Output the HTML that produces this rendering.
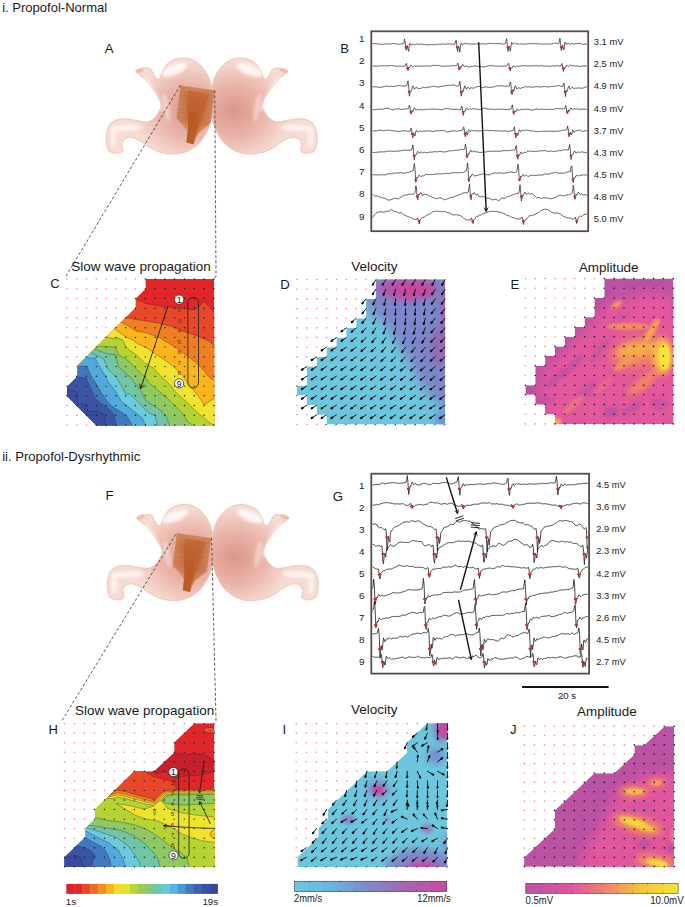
<!DOCTYPE html>
<html lang="en"><head><meta charset="utf-8"><title>Figure</title>
<style>html,body{margin:0;padding:0;background:#fff}body{width:685px;height:907px;overflow:hidden}svg{display:block}</style></head>
<body>
<svg width="685" height="907" viewBox="0 0 685 907" font-family='"Liberation Sans", sans-serif'>
<defs>
<radialGradient id="stg" cx="0.78" cy="0.55" r="0.52">
<stop offset="0" stop-color="#dc968b"/><stop offset="0.5" stop-color="#eab3a7"/><stop offset="1" stop-color="#f6dbd2"/></radialGradient>
<filter id="bl6" x="-50%" y="-50%" width="200%" height="200%"><feGaussianBlur stdDeviation="9"/></filter>
<filter id="bl3" x="-50%" y="-50%" width="200%" height="200%"><feGaussianBlur stdDeviation="5"/></filter>
<clipPath id="stc"><path d="M205 122C206.7 115.8 219.2 106.7 230 103C240.8 99.3 259.2 98.5 270 100C280.8 101.5 287.5 103.7 295 112C302.5 120.3 308.3 141.2 315 150C321.7 158.8 328.3 170 335 165C341.7 160 346.7 135 355 120C363.3 105 372.5 86.7 385 75C397.5 63.3 414.2 55.3 430 50C445.8 44.7 462.5 42.2 480 43C497.5 43.8 517.5 46.3 535 55C552.5 63.7 570.8 79.2 585 95C599.2 110.8 610.8 129.2 620 150C629.2 170.8 635.5 195 640 220C644.5 245 647 273.3 647 300C647 326.7 645.3 353.3 640 380C634.7 406.7 626.7 435 615 460C603.3 485 588.3 510.3 570 530C551.7 549.7 528.3 566.8 505 578C481.7 589.2 455 595 430 597C405 599 378.3 595.8 355 590C331.7 584.2 310 572.8 290 562C270 551.2 252.5 535 235 525C217.5 515 200 504.8 185 502C170 499.2 154.5 502.5 145 508C135.5 513.5 130 523.8 128 535C126 546.2 136.8 565.5 133 575C129.2 584.5 117.2 590.3 105 592C92.8 593.7 70.8 591.2 60 585C49.2 578.8 44.5 569.2 40 555C35.5 540.8 32.2 519.2 33 500C33.8 480.8 38 455.8 45 440C52 424.2 60.8 413.3 75 405C89.2 396.7 109.2 391.2 130 390C150.8 388.8 178.3 395 200 398C221.7 401 243.3 408.5 260 408C276.7 407.5 288.3 403 300 395C311.7 387 322.5 372.5 330 360C337.5 347.5 344.2 333.3 345 320C345.8 306.7 340.8 293.3 335 280C329.2 266.7 319.2 253.3 310 240C300.8 226.7 290 212.5 280 200C270 187.5 260 175 250 165C240 155 227.5 147.2 220 140C212.5 132.8 203.3 128.2 205 122Z"/></clipPath>
<clipPath id="tc31"><rect x="372.3" y="32.3" width="214.9" height="197.9"/></clipPath>
<clipPath id="tc473"><rect x="372.3" y="474.7" width="215.8" height="197.9"/></clipPath>
<filter id="mb3" x="-60%" y="-60%" width="220%" height="220%"><feGaussianBlur stdDeviation="1.6"/></filter>
<filter id="mb4" x="-60%" y="-60%" width="220%" height="220%"><feGaussianBlur stdDeviation="3.2"/></filter>
<filter id="mb6" x="-60%" y="-60%" width="220%" height="220%"><feGaussianBlur stdDeviation="6.0"/></filter>
<clipPath id="cC"><polygon points="145.4,279 214.2,279 214.2,425.4 96.5,425.4 67,396 67,386.7 77.4,376.5 77.4,366 135.7,307.5 135.7,298.5 145.4,288.7"/></clipPath>
<clipPath id="cD"><polygon points="375.9,279.6 375.9,298.9 366.1,298.9 366.1,318.2 356.2,318.2 356.2,327.9 346.3,327.9 346.3,337.6 336.4,337.6 336.4,347.2 326.5,347.2 326.5,356.9 316.7,356.9 316.7,366.5 306.8,366.5 306.8,385.9 296.9,385.9 296.9,395.5 306.8,395.5 306.8,405.2 316.7,405.2 316.7,414.8 326.5,414.8 326.5,424.5 445.1,424.5 445.1,279.6"/></clipPath>
<clipPath id="aD"><rect x="296.2" y="278.9" width="149.6" height="146.3"/></clipPath>
<clipPath id="cE"><polygon points="604.3,278.6 604.3,298 594.4,298 594.4,317.3 584.6,317.3 584.6,327 574.7,327 574.7,336.7 564.8,336.7 564.8,346.4 555,346.4 555,356.1 545.1,356.1 545.1,365.8 535.3,365.8 535.3,385.2 525.4,385.2 525.4,394.8 535.3,394.8 535.3,404.5 545.1,404.5 545.1,414.2 555,414.2 555,423.9 673.3,423.9 673.3,278.6"/></clipPath>
<clipPath id="cH"><polygon points="194.3,723.3 214.4,723.3 214.4,867 64.6,867 64.6,857.3 85.6,837 85.6,828.3 95,819 95,809.5 134.1,771.2 154.2,771.2 174.2,752.7 174.2,742.3"/></clipPath>
<clipPath id="cI"><polygon points="427.1,723.3 447.2,723.3 447.2,867 297.4,867 297.4,857.3 318.4,837 318.4,828.3 327.8,819 327.8,809.5 366.9,771.2 387,771.2 407,752.7 407,742.3"/></clipPath>
<clipPath id="aI"><rect x="295.5" y="722.9" width="152.8" height="144.6"/></clipPath>
<linearGradient id="gV" x1="0" x2="1" y1="0" y2="0"><stop offset="0" stop-color="#6cc6dd"/><stop offset="0.22" stop-color="#68b8df"/><stop offset="0.45" stop-color="#7a8fcf"/><stop offset="0.7" stop-color="#a069b6"/><stop offset="1" stop-color="#c84aa2"/></linearGradient>
<clipPath id="cJ"><polygon points="664.6,726.3 674,726.3 674,866.8 524.1,866.8 524.1,857.6 554.7,829 554.7,810.6 594.3,773.3 614.2,773.3 634.4,754.4 634.4,745.2 644.1,745.2"/></clipPath>
<linearGradient id="gA" x1="0" x2="1" y1="0" y2="0"><stop offset="0" stop-color="#b853a6"/><stop offset="0.3" stop-color="#e2559e"/><stop offset="0.55" stop-color="#f28a6a"/><stop offset="0.75" stop-color="#f9c23c"/><stop offset="1" stop-color="#f0e636"/></linearGradient>
</defs>
<rect width="685" height="907" fill="#fff"/>
<text x="2.2" y="12" font-size="12.4" text-anchor="start" fill="#1a1a1a" textLength="105" lengthAdjust="spacingAndGlyphs">i. Propofol-Normal</text>
<text x="2.2" y="460.8" font-size="12.4" text-anchor="start" fill="#1a1a1a" textLength="138" lengthAdjust="spacingAndGlyphs">ii. Propofol-Dysrhythmic</text>
<text x="104.8" y="52.5" font-size="13.2" text-anchor="start" fill="#1a1a1a">A</text>
<text x="105.6" y="500.2" font-size="13.2" text-anchor="start" fill="#1a1a1a">F</text>
<g transform="translate(100 50) scale(0.1752 0.1752)">
<path d="M205 122C206.7 115.8 219.2 106.7 230 103C240.8 99.3 259.2 98.5 270 100C280.8 101.5 287.5 103.7 295 112C302.5 120.3 308.3 141.2 315 150C321.7 158.8 328.3 170 335 165C341.7 160 346.7 135 355 120C363.3 105 372.5 86.7 385 75C397.5 63.3 414.2 55.3 430 50C445.8 44.7 462.5 42.2 480 43C497.5 43.8 517.5 46.3 535 55C552.5 63.7 570.8 79.2 585 95C599.2 110.8 610.8 129.2 620 150C629.2 170.8 635.5 195 640 220C644.5 245 647 273.3 647 300C647 326.7 645.3 353.3 640 380C634.7 406.7 626.7 435 615 460C603.3 485 588.3 510.3 570 530C551.7 549.7 528.3 566.8 505 578C481.7 589.2 455 595 430 597C405 599 378.3 595.8 355 590C331.7 584.2 310 572.8 290 562C270 551.2 252.5 535 235 525C217.5 515 200 504.8 185 502C170 499.2 154.5 502.5 145 508C135.5 513.5 130 523.8 128 535C126 546.2 136.8 565.5 133 575C129.2 584.5 117.2 590.3 105 592C92.8 593.7 70.8 591.2 60 585C49.2 578.8 44.5 569.2 40 555C35.5 540.8 32.2 519.2 33 500C33.8 480.8 38 455.8 45 440C52 424.2 60.8 413.3 75 405C89.2 396.7 109.2 391.2 130 390C150.8 388.8 178.3 395 200 398C221.7 401 243.3 408.5 260 408C276.7 407.5 288.3 403 300 395C311.7 387 322.5 372.5 330 360C337.5 347.5 344.2 333.3 345 320C345.8 306.7 340.8 293.3 335 280C329.2 266.7 319.2 253.3 310 240C300.8 226.7 290 212.5 280 200C270 187.5 260 175 250 165C240 155 227.5 147.2 220 140C212.5 132.8 203.3 128.2 205 122Z" fill="url(#stg)"/>
<g clip-path="url(#stc)">
<path d="M205 122C206.7 115.8 219.2 106.7 230 103C240.8 99.3 259.2 98.5 270 100C280.8 101.5 287.5 103.7 295 112C302.5 120.3 308.3 141.2 315 150C321.7 158.8 328.3 170 335 165C341.7 160 346.7 135 355 120C363.3 105 372.5 86.7 385 75C397.5 63.3 414.2 55.3 430 50C445.8 44.7 462.5 42.2 480 43C497.5 43.8 517.5 46.3 535 55C552.5 63.7 570.8 79.2 585 95C599.2 110.8 610.8 129.2 620 150C629.2 170.8 635.5 195 640 220C644.5 245 647 273.3 647 300C647 326.7 645.3 353.3 640 380C634.7 406.7 626.7 435 615 460C603.3 485 588.3 510.3 570 530C551.7 549.7 528.3 566.8 505 578C481.7 589.2 455 595 430 597C405 599 378.3 595.8 355 590C331.7 584.2 310 572.8 290 562C270 551.2 252.5 535 235 525C217.5 515 200 504.8 185 502C170 499.2 154.5 502.5 145 508C135.5 513.5 130 523.8 128 535C126 546.2 136.8 565.5 133 575C129.2 584.5 117.2 590.3 105 592C92.8 593.7 70.8 591.2 60 585C49.2 578.8 44.5 569.2 40 555C35.5 540.8 32.2 519.2 33 500C33.8 480.8 38 455.8 45 440C52 424.2 60.8 413.3 75 405C89.2 396.7 109.2 391.2 130 390C150.8 388.8 178.3 395 200 398C221.7 401 243.3 408.5 260 408C276.7 407.5 288.3 403 300 395C311.7 387 322.5 372.5 330 360C337.5 347.5 344.2 333.3 345 320C345.8 306.7 340.8 293.3 335 280C329.2 266.7 319.2 253.3 310 240C300.8 226.7 290 212.5 280 200C270 187.5 260 175 250 165C240 155 227.5 147.2 220 140C212.5 132.8 203.3 128.2 205 122Z" fill="none" stroke="#eec4b9" stroke-width="14" opacity="0.6"/>
<ellipse cx="425" cy="112" rx="80" ry="30" fill="#fff" opacity="0.8" filter="url(#bl6)" transform="rotate(-22 425 112)"/>
<ellipse cx="300" cy="250" rx="20" ry="110" fill="#fff" opacity="0.6" filter="url(#bl6)" transform="rotate(-28 300 250)"/>
<ellipse cx="378" cy="330" rx="18" ry="80" fill="#fff" opacity="0.4" filter="url(#bl6)" transform="rotate(-10 378 330)"/>
<ellipse cx="150" cy="445" rx="95" ry="18" fill="#fff" opacity="0.65" filter="url(#bl6)" transform="rotate(-3 150 445)"/>
<ellipse cx="75" cy="500" rx="18" ry="60" fill="#fff" opacity="0.55" filter="url(#bl6)"/>
</g>
<ellipse cx="226" cy="118" rx="25" ry="11" fill="#ecbdb2" transform="rotate(-16 226 118)"/>
</g>
<g transform="translate(323.5 50) scale(-0.1752 0.1752)">
<path d="M205 122C206.7 115.8 219.2 106.7 230 103C240.8 99.3 259.2 98.5 270 100C280.8 101.5 287.5 103.7 295 112C302.5 120.3 308.3 141.2 315 150C321.7 158.8 328.3 170 335 165C341.7 160 346.7 135 355 120C363.3 105 372.5 86.7 385 75C397.5 63.3 414.2 55.3 430 50C445.8 44.7 462.5 42.2 480 43C497.5 43.8 517.5 46.3 535 55C552.5 63.7 570.8 79.2 585 95C599.2 110.8 610.8 129.2 620 150C629.2 170.8 635.5 195 640 220C644.5 245 647 273.3 647 300C647 326.7 645.3 353.3 640 380C634.7 406.7 626.7 435 615 460C603.3 485 588.3 510.3 570 530C551.7 549.7 528.3 566.8 505 578C481.7 589.2 455 595 430 597C405 599 378.3 595.8 355 590C331.7 584.2 310 572.8 290 562C270 551.2 252.5 535 235 525C217.5 515 200 504.8 185 502C170 499.2 154.5 502.5 145 508C135.5 513.5 130 523.8 128 535C126 546.2 136.8 565.5 133 575C129.2 584.5 117.2 590.3 105 592C92.8 593.7 70.8 591.2 60 585C49.2 578.8 44.5 569.2 40 555C35.5 540.8 32.2 519.2 33 500C33.8 480.8 38 455.8 45 440C52 424.2 60.8 413.3 75 405C89.2 396.7 109.2 391.2 130 390C150.8 388.8 178.3 395 200 398C221.7 401 243.3 408.5 260 408C276.7 407.5 288.3 403 300 395C311.7 387 322.5 372.5 330 360C337.5 347.5 344.2 333.3 345 320C345.8 306.7 340.8 293.3 335 280C329.2 266.7 319.2 253.3 310 240C300.8 226.7 290 212.5 280 200C270 187.5 260 175 250 165C240 155 227.5 147.2 220 140C212.5 132.8 203.3 128.2 205 122Z" fill="url(#stg)"/>
<g clip-path="url(#stc)">
<path d="M205 122C206.7 115.8 219.2 106.7 230 103C240.8 99.3 259.2 98.5 270 100C280.8 101.5 287.5 103.7 295 112C302.5 120.3 308.3 141.2 315 150C321.7 158.8 328.3 170 335 165C341.7 160 346.7 135 355 120C363.3 105 372.5 86.7 385 75C397.5 63.3 414.2 55.3 430 50C445.8 44.7 462.5 42.2 480 43C497.5 43.8 517.5 46.3 535 55C552.5 63.7 570.8 79.2 585 95C599.2 110.8 610.8 129.2 620 150C629.2 170.8 635.5 195 640 220C644.5 245 647 273.3 647 300C647 326.7 645.3 353.3 640 380C634.7 406.7 626.7 435 615 460C603.3 485 588.3 510.3 570 530C551.7 549.7 528.3 566.8 505 578C481.7 589.2 455 595 430 597C405 599 378.3 595.8 355 590C331.7 584.2 310 572.8 290 562C270 551.2 252.5 535 235 525C217.5 515 200 504.8 185 502C170 499.2 154.5 502.5 145 508C135.5 513.5 130 523.8 128 535C126 546.2 136.8 565.5 133 575C129.2 584.5 117.2 590.3 105 592C92.8 593.7 70.8 591.2 60 585C49.2 578.8 44.5 569.2 40 555C35.5 540.8 32.2 519.2 33 500C33.8 480.8 38 455.8 45 440C52 424.2 60.8 413.3 75 405C89.2 396.7 109.2 391.2 130 390C150.8 388.8 178.3 395 200 398C221.7 401 243.3 408.5 260 408C276.7 407.5 288.3 403 300 395C311.7 387 322.5 372.5 330 360C337.5 347.5 344.2 333.3 345 320C345.8 306.7 340.8 293.3 335 280C329.2 266.7 319.2 253.3 310 240C300.8 226.7 290 212.5 280 200C270 187.5 260 175 250 165C240 155 227.5 147.2 220 140C212.5 132.8 203.3 128.2 205 122Z" fill="none" stroke="#eec4b9" stroke-width="14" opacity="0.6"/>
<ellipse cx="425" cy="112" rx="80" ry="30" fill="#fff" opacity="0.8" filter="url(#bl6)" transform="rotate(-22 425 112)"/>
<ellipse cx="300" cy="250" rx="20" ry="110" fill="#fff" opacity="0.6" filter="url(#bl6)" transform="rotate(-28 300 250)"/>
<ellipse cx="378" cy="330" rx="18" ry="80" fill="#fff" opacity="0.4" filter="url(#bl6)" transform="rotate(-10 378 330)"/>
<ellipse cx="150" cy="445" rx="95" ry="18" fill="#fff" opacity="0.65" filter="url(#bl6)" transform="rotate(-3 150 445)"/>
<ellipse cx="75" cy="500" rx="18" ry="60" fill="#fff" opacity="0.55" filter="url(#bl6)"/>
</g>
<ellipse cx="226" cy="118" rx="25" ry="11" fill="#ecbdb2" transform="rotate(-16 226 118)"/>
</g>
<g transform="translate(0 0)">
<polygon points="180.3,85.3 214.9,90.3 210.6,122.7 197.5,134 193.6,144.3 186.4,142.4 187.6,131.5 176.4,117" fill="#d08a62" opacity="0.92"/>
<polygon points="180.7,86 214.6,91 214.2,94 198.5,110 197,126 188.4,124.6 187.5,103 180.2,89" fill="#bb5a26" opacity="0.24"/>
<polygon points="180.1,90.3 214,95.4 213.6,98.4 198.5,113.2 197,127.6 188.4,126.2 187.5,106.3 179.6,93.3" fill="#bb5a26" opacity="0.24"/>
<polygon points="179.6,94.6 213.5,99.8 213.1,102.8 198.5,116.4 197,129.2 188.4,127.8 187.5,109.6 179.1,97.6" fill="#bb5a26" opacity="0.24"/>
<polygon points="179,98.9 212.9,104.2 212.5,107.2 198.5,119.6 197,130.8 188.4,129.4 187.5,112.9 178.5,101.9" fill="#bb5a26" opacity="0.24"/>
<polygon points="178.5,103.2 212.4,108.6 212,111.6 198.5,122.8 197,132.4 188.4,131 187.5,116.2 178,106.2" fill="#bb5a26" opacity="0.24"/>
<polygon points="177.9,107.5 211.8,113 211.4,116 198.5,126 197,134 188.4,132.6 187.5,119.5 177.4,110.5" fill="#bb5a26" opacity="0.24"/>
<polygon points="177.4,111.8 211.3,117.4 210.9,120.4 198.5,129.2 197,135.6 188.4,134.2 187.5,122.8 176.9,114.8" fill="#bb5a26" opacity="0.24"/>
<polygon points="176.8,116.1 210.8,121.8 210.3,124.8 198.5,132.4 197,137.2 188.4,135.8 187.5,126.1 176.3,119.1" fill="#bb5a26" opacity="0.24"/>
<polygon points="188.5,90.5 209,93.6 205,110 197.6,128 188.3,126.6 187.6,108" fill="#bb5a26" opacity="0.5"/>
<polygon points="188.6,112 197.6,113.4 196.5,128 193.6,144.3 186.4,142.4 188.2,127" fill="#bb5a26" opacity="0.95"/>
</g>
<g transform="translate(101 496.5) scale(0.1752 0.1752)">
<path d="M205 122C206.7 115.8 219.2 106.7 230 103C240.8 99.3 259.2 98.5 270 100C280.8 101.5 287.5 103.7 295 112C302.5 120.3 308.3 141.2 315 150C321.7 158.8 328.3 170 335 165C341.7 160 346.7 135 355 120C363.3 105 372.5 86.7 385 75C397.5 63.3 414.2 55.3 430 50C445.8 44.7 462.5 42.2 480 43C497.5 43.8 517.5 46.3 535 55C552.5 63.7 570.8 79.2 585 95C599.2 110.8 610.8 129.2 620 150C629.2 170.8 635.5 195 640 220C644.5 245 647 273.3 647 300C647 326.7 645.3 353.3 640 380C634.7 406.7 626.7 435 615 460C603.3 485 588.3 510.3 570 530C551.7 549.7 528.3 566.8 505 578C481.7 589.2 455 595 430 597C405 599 378.3 595.8 355 590C331.7 584.2 310 572.8 290 562C270 551.2 252.5 535 235 525C217.5 515 200 504.8 185 502C170 499.2 154.5 502.5 145 508C135.5 513.5 130 523.8 128 535C126 546.2 136.8 565.5 133 575C129.2 584.5 117.2 590.3 105 592C92.8 593.7 70.8 591.2 60 585C49.2 578.8 44.5 569.2 40 555C35.5 540.8 32.2 519.2 33 500C33.8 480.8 38 455.8 45 440C52 424.2 60.8 413.3 75 405C89.2 396.7 109.2 391.2 130 390C150.8 388.8 178.3 395 200 398C221.7 401 243.3 408.5 260 408C276.7 407.5 288.3 403 300 395C311.7 387 322.5 372.5 330 360C337.5 347.5 344.2 333.3 345 320C345.8 306.7 340.8 293.3 335 280C329.2 266.7 319.2 253.3 310 240C300.8 226.7 290 212.5 280 200C270 187.5 260 175 250 165C240 155 227.5 147.2 220 140C212.5 132.8 203.3 128.2 205 122Z" fill="url(#stg)"/>
<g clip-path="url(#stc)">
<path d="M205 122C206.7 115.8 219.2 106.7 230 103C240.8 99.3 259.2 98.5 270 100C280.8 101.5 287.5 103.7 295 112C302.5 120.3 308.3 141.2 315 150C321.7 158.8 328.3 170 335 165C341.7 160 346.7 135 355 120C363.3 105 372.5 86.7 385 75C397.5 63.3 414.2 55.3 430 50C445.8 44.7 462.5 42.2 480 43C497.5 43.8 517.5 46.3 535 55C552.5 63.7 570.8 79.2 585 95C599.2 110.8 610.8 129.2 620 150C629.2 170.8 635.5 195 640 220C644.5 245 647 273.3 647 300C647 326.7 645.3 353.3 640 380C634.7 406.7 626.7 435 615 460C603.3 485 588.3 510.3 570 530C551.7 549.7 528.3 566.8 505 578C481.7 589.2 455 595 430 597C405 599 378.3 595.8 355 590C331.7 584.2 310 572.8 290 562C270 551.2 252.5 535 235 525C217.5 515 200 504.8 185 502C170 499.2 154.5 502.5 145 508C135.5 513.5 130 523.8 128 535C126 546.2 136.8 565.5 133 575C129.2 584.5 117.2 590.3 105 592C92.8 593.7 70.8 591.2 60 585C49.2 578.8 44.5 569.2 40 555C35.5 540.8 32.2 519.2 33 500C33.8 480.8 38 455.8 45 440C52 424.2 60.8 413.3 75 405C89.2 396.7 109.2 391.2 130 390C150.8 388.8 178.3 395 200 398C221.7 401 243.3 408.5 260 408C276.7 407.5 288.3 403 300 395C311.7 387 322.5 372.5 330 360C337.5 347.5 344.2 333.3 345 320C345.8 306.7 340.8 293.3 335 280C329.2 266.7 319.2 253.3 310 240C300.8 226.7 290 212.5 280 200C270 187.5 260 175 250 165C240 155 227.5 147.2 220 140C212.5 132.8 203.3 128.2 205 122Z" fill="none" stroke="#eec4b9" stroke-width="14" opacity="0.6"/>
<ellipse cx="425" cy="112" rx="80" ry="30" fill="#fff" opacity="0.8" filter="url(#bl6)" transform="rotate(-22 425 112)"/>
<ellipse cx="300" cy="250" rx="20" ry="110" fill="#fff" opacity="0.6" filter="url(#bl6)" transform="rotate(-28 300 250)"/>
<ellipse cx="378" cy="330" rx="18" ry="80" fill="#fff" opacity="0.4" filter="url(#bl6)" transform="rotate(-10 378 330)"/>
<ellipse cx="150" cy="445" rx="95" ry="18" fill="#fff" opacity="0.65" filter="url(#bl6)" transform="rotate(-3 150 445)"/>
<ellipse cx="75" cy="500" rx="18" ry="60" fill="#fff" opacity="0.55" filter="url(#bl6)"/>
</g>
<ellipse cx="226" cy="118" rx="25" ry="11" fill="#ecbdb2" transform="rotate(-16 226 118)"/>
</g>
<g transform="translate(324.5 496.5) scale(-0.1752 0.1752)">
<path d="M205 122C206.7 115.8 219.2 106.7 230 103C240.8 99.3 259.2 98.5 270 100C280.8 101.5 287.5 103.7 295 112C302.5 120.3 308.3 141.2 315 150C321.7 158.8 328.3 170 335 165C341.7 160 346.7 135 355 120C363.3 105 372.5 86.7 385 75C397.5 63.3 414.2 55.3 430 50C445.8 44.7 462.5 42.2 480 43C497.5 43.8 517.5 46.3 535 55C552.5 63.7 570.8 79.2 585 95C599.2 110.8 610.8 129.2 620 150C629.2 170.8 635.5 195 640 220C644.5 245 647 273.3 647 300C647 326.7 645.3 353.3 640 380C634.7 406.7 626.7 435 615 460C603.3 485 588.3 510.3 570 530C551.7 549.7 528.3 566.8 505 578C481.7 589.2 455 595 430 597C405 599 378.3 595.8 355 590C331.7 584.2 310 572.8 290 562C270 551.2 252.5 535 235 525C217.5 515 200 504.8 185 502C170 499.2 154.5 502.5 145 508C135.5 513.5 130 523.8 128 535C126 546.2 136.8 565.5 133 575C129.2 584.5 117.2 590.3 105 592C92.8 593.7 70.8 591.2 60 585C49.2 578.8 44.5 569.2 40 555C35.5 540.8 32.2 519.2 33 500C33.8 480.8 38 455.8 45 440C52 424.2 60.8 413.3 75 405C89.2 396.7 109.2 391.2 130 390C150.8 388.8 178.3 395 200 398C221.7 401 243.3 408.5 260 408C276.7 407.5 288.3 403 300 395C311.7 387 322.5 372.5 330 360C337.5 347.5 344.2 333.3 345 320C345.8 306.7 340.8 293.3 335 280C329.2 266.7 319.2 253.3 310 240C300.8 226.7 290 212.5 280 200C270 187.5 260 175 250 165C240 155 227.5 147.2 220 140C212.5 132.8 203.3 128.2 205 122Z" fill="url(#stg)"/>
<g clip-path="url(#stc)">
<path d="M205 122C206.7 115.8 219.2 106.7 230 103C240.8 99.3 259.2 98.5 270 100C280.8 101.5 287.5 103.7 295 112C302.5 120.3 308.3 141.2 315 150C321.7 158.8 328.3 170 335 165C341.7 160 346.7 135 355 120C363.3 105 372.5 86.7 385 75C397.5 63.3 414.2 55.3 430 50C445.8 44.7 462.5 42.2 480 43C497.5 43.8 517.5 46.3 535 55C552.5 63.7 570.8 79.2 585 95C599.2 110.8 610.8 129.2 620 150C629.2 170.8 635.5 195 640 220C644.5 245 647 273.3 647 300C647 326.7 645.3 353.3 640 380C634.7 406.7 626.7 435 615 460C603.3 485 588.3 510.3 570 530C551.7 549.7 528.3 566.8 505 578C481.7 589.2 455 595 430 597C405 599 378.3 595.8 355 590C331.7 584.2 310 572.8 290 562C270 551.2 252.5 535 235 525C217.5 515 200 504.8 185 502C170 499.2 154.5 502.5 145 508C135.5 513.5 130 523.8 128 535C126 546.2 136.8 565.5 133 575C129.2 584.5 117.2 590.3 105 592C92.8 593.7 70.8 591.2 60 585C49.2 578.8 44.5 569.2 40 555C35.5 540.8 32.2 519.2 33 500C33.8 480.8 38 455.8 45 440C52 424.2 60.8 413.3 75 405C89.2 396.7 109.2 391.2 130 390C150.8 388.8 178.3 395 200 398C221.7 401 243.3 408.5 260 408C276.7 407.5 288.3 403 300 395C311.7 387 322.5 372.5 330 360C337.5 347.5 344.2 333.3 345 320C345.8 306.7 340.8 293.3 335 280C329.2 266.7 319.2 253.3 310 240C300.8 226.7 290 212.5 280 200C270 187.5 260 175 250 165C240 155 227.5 147.2 220 140C212.5 132.8 203.3 128.2 205 122Z" fill="none" stroke="#eec4b9" stroke-width="14" opacity="0.6"/>
<ellipse cx="425" cy="112" rx="80" ry="30" fill="#fff" opacity="0.8" filter="url(#bl6)" transform="rotate(-22 425 112)"/>
<ellipse cx="300" cy="250" rx="20" ry="110" fill="#fff" opacity="0.6" filter="url(#bl6)" transform="rotate(-28 300 250)"/>
<ellipse cx="378" cy="330" rx="18" ry="80" fill="#fff" opacity="0.4" filter="url(#bl6)" transform="rotate(-10 378 330)"/>
<ellipse cx="150" cy="445" rx="95" ry="18" fill="#fff" opacity="0.65" filter="url(#bl6)" transform="rotate(-3 150 445)"/>
<ellipse cx="75" cy="500" rx="18" ry="60" fill="#fff" opacity="0.55" filter="url(#bl6)"/>
</g>
<ellipse cx="226" cy="118" rx="25" ry="11" fill="#ecbdb2" transform="rotate(-16 226 118)"/>
</g>
<g transform="translate(-3.6 447.8)">
<polygon points="180.3,85.3 214.9,90.3 210.6,122.7 197.5,134 193.6,144.3 186.4,142.4 187.6,131.5 176.4,117" fill="#d08a62" opacity="0.92"/>
<polygon points="180.7,86 214.6,91 214.2,94 198.5,110 197,126 188.4,124.6 187.5,103 180.2,89" fill="#bb5a26" opacity="0.24"/>
<polygon points="180.1,90.3 214,95.4 213.6,98.4 198.5,113.2 197,127.6 188.4,126.2 187.5,106.3 179.6,93.3" fill="#bb5a26" opacity="0.24"/>
<polygon points="179.6,94.6 213.5,99.8 213.1,102.8 198.5,116.4 197,129.2 188.4,127.8 187.5,109.6 179.1,97.6" fill="#bb5a26" opacity="0.24"/>
<polygon points="179,98.9 212.9,104.2 212.5,107.2 198.5,119.6 197,130.8 188.4,129.4 187.5,112.9 178.5,101.9" fill="#bb5a26" opacity="0.24"/>
<polygon points="178.5,103.2 212.4,108.6 212,111.6 198.5,122.8 197,132.4 188.4,131 187.5,116.2 178,106.2" fill="#bb5a26" opacity="0.24"/>
<polygon points="177.9,107.5 211.8,113 211.4,116 198.5,126 197,134 188.4,132.6 187.5,119.5 177.4,110.5" fill="#bb5a26" opacity="0.24"/>
<polygon points="177.4,111.8 211.3,117.4 210.9,120.4 198.5,129.2 197,135.6 188.4,134.2 187.5,122.8 176.9,114.8" fill="#bb5a26" opacity="0.24"/>
<polygon points="176.8,116.1 210.8,121.8 210.3,124.8 198.5,132.4 197,137.2 188.4,135.8 187.5,126.1 176.3,119.1" fill="#bb5a26" opacity="0.24"/>
<polygon points="188.5,90.5 209,93.6 205,110 197.6,128 188.3,126.6 187.6,108" fill="#bb5a26" opacity="0.5"/>
<polygon points="188.6,112 197.6,113.4 196.5,128 193.6,144.3 186.4,142.4 188.2,127" fill="#bb5a26" opacity="0.95"/>
</g>
<g stroke="#333" stroke-width="0.8" stroke-dasharray="3 2" fill="none">
<polyline points="180.6,85 65.7,276.7"/>
<polyline points="214.8,90.3 216,276.7 214.4,277.5"/>
<polyline points="175.8,534.3 61.8,721"/>
<polyline points="211.6,537.8 216,721 214.6,721.8"/>
</g>
<rect x="371.3" y="31.3" width="216.9" height="199.9" fill="#fff" stroke="#5b4a45" stroke-width="1.8"/>
<g clip-path="url(#tc31)">
<polyline points="372.3,43.7 373,43.7 373.7,43.7 374.4,43.7 375.1,43.6 375.8,43.6 376.5,43.8 377.2,43.9 377.9,43.9 378.6,44 379.3,44.1 380,44.2 380.7,44.3 381.4,44.4 382.1,44.5 382.8,44.2 383.5,44.1 384.2,44 384.9,43.9 385.6,44 386.3,43.8 387,44 387.7,43.9 388.4,44 389.1,44 389.8,44 390.5,44 391.2,43.8 391.9,43.7 392.6,43.5 393.3,43.5 394,43.5 394.7,43.6 395.4,43.9 396.1,43.9 396.8,44 397.5,44.2 398.2,44.4 398.9,44.4 399.6,44.1 400.3,44 401,43.9 401.7,43.9 402.4,43.8 403.1,43.9 403.8,43.2 404.5,39.1 405.2,42 405.9,50.1 406.6,49.5 407.3,45.5 408,49.2 408.7,51.4 409.4,43.9 410.1,43.3 410.8,45 411.5,45.3 412.2,44.4 412.9,43.8 413.6,44.3 414.3,44.9 415,44.8 415.7,44.2 416.4,44 417.1,44.1 417.8,44.3 418.5,44.3 419.2,44.2 419.9,44.1 420.6,44.1 421.3,44.1 422,44.2 422.7,44.4 423.4,44.5 424.1,44.5 424.8,44.5 425.5,44.7 426.2,44.8 426.9,44.9 427.6,44.9 428.3,44.8 429,44.7 429.7,44.7 430.4,44.6 431.1,44.6 431.8,44.5 432.5,44.7 433.2,44.7 433.9,44.7 434.6,44.6 435.3,44.7 436,44.5 436.7,44.4 437.4,44.3 438.1,44.2 438.8,44.3 439.5,44.2 440.2,44.3 440.9,44.1 441.6,44.2 442.3,44.1 443,44.1 443.7,44 444.4,44.1 445.1,44.3 445.8,44.2 446.5,44.1 447.2,43.9 447.9,44 448.6,44 449.3,44.1 450,44 450.7,44 451.4,44 452.1,44 452.8,44.1 453.5,44.2 454.2,44.4 454.9,44.3 455.6,40.8 456.3,40.3 457,48.4 457.7,51.4 458.4,46 459.1,48.1 459.8,52.2 460.5,45.7 461.2,43 461.9,44.5 462.6,45.1 463.3,44.3 464,43.3 464.7,43.3 465.4,43.8 466.1,43.9 466.8,43.7 467.5,43.6 468.2,43.9 468.9,44 469.6,44 470.3,43.8 471,44.1 471.7,44.2 472.4,44.1 473.1,44 473.8,43.9 474.5,44.1 475.2,44 475.9,44 476.6,43.9 477.3,44 478,43.9 478.7,43.8 479.4,43.8 480.1,43.9 480.8,44 481.5,43.8 482.2,43.7 482.9,43.8 483.6,43.9 484.3,43.9 485,44 485.7,44 486.4,44 487.1,43.8 487.8,43.7 488.5,43.5 489.2,43.4 489.9,43.3 490.6,43.4 491.3,43.5 492,43.5 492.7,43.6 493.4,43.7 494.1,43.7 494.8,43.6 495.5,43.5 496.2,43.7 496.9,43.6 497.6,43.6 498.3,43.4 499,43.5 499.7,43.6 500.4,43.8 501.1,43.8 501.8,43.9 502.5,44 503.2,44.1 503.9,44 504.6,43.8 505.3,43.5 506,41.3 506.7,38.7 507.4,45.6 508.1,51.6 508.8,46.7 509.5,46.4 510.2,51 510.9,47.5 511.6,42.4 512.3,43.3 513,44.4 513.7,43.7 514.4,42.9 515.1,42.9 515.8,43.7 516.5,44 517.2,43.8 517.9,43.8 518.6,44 519.3,44.2 520,44.1 520.7,44 521.4,43.9 522.1,44.1 522.8,44.1 523.5,44.1 524.2,44 524.9,44 525.6,44.1 526.3,43.9 527,43.9 527.7,43.8 528.4,43.6 529.1,43.5 529.8,43.7 530.5,43.8 531.2,43.8 531.9,43.7 532.6,43.6 533.3,43.7 534,43.7 534.7,43.7 535.4,43.8 536.1,43.8 536.8,43.8 537.5,43.8 538.2,43.8 538.9,44 539.6,44 540.3,44 541,43.9 541.7,44.1 542.4,44.1 543.1,44.1 543.8,43.9 544.5,43.9 545.2,44 545.9,44.1 546.6,44 547.3,44 548,44 548.7,44 549.4,44.1 550.1,44 550.8,44 551.5,43.8 552.2,43.7 552.9,43.5 553.6,43.4 554.3,43.4 555,43.1 555.7,43 556.4,43.1 557.1,43.2 557.8,43.5 558.5,43.6 559.2,42.5 559.9,38.3 560.6,42.8 561.3,50.5 562,48.1 562.7,45.3 563.4,49.4 564.1,49.7 564.8,42.5 565.5,42.6 566.2,44.1 566.9,44.3 567.6,43.4 568.3,43.1 569,43.7 569.7,44.2 570.4,44.2 571.1,43.8 571.8,43.8 572.5,43.7 573.2,43.9 573.9,43.9 574.6,43.9 575.3,43.7 576,43.6 576.7,43.6 577.4,43.6 578.1,43.5 578.8,43.3 579.5,43.2 580.2,43.4 580.9,43.5 581.6,43.7 582.3,44.1 583,44.4 583.7,44.4 584.4,44.2 585.1,44.1 585.8,44.1 586.5,44.2 587.2,44.2" fill="none" stroke="#1a1a1a" stroke-width="0.7" stroke-linejoin="round"/>
<polyline points="372.3,66.2 373,66.1 373.7,66.1 374.4,66.2 375.1,66.2 375.8,66.1 376.5,66.2 377.2,66.1 377.9,66 378.6,66 379.3,65.9 380,65.9 380.7,65.9 381.4,65.8 382.1,65.9 382.8,65.7 383.5,65.8 384.2,65.7 384.9,65.8 385.6,65.8 386.3,65.9 387,65.9 387.7,66 388.4,65.8 389.1,65.8 389.8,65.6 390.5,65.5 391.2,65.5 391.9,65.4 392.6,65.6 393.3,65.8 394,66 394.7,66 395.4,66.1 396.1,66.2 396.8,66.3 397.5,66.3 398.2,66.1 398.9,66.2 399.6,66.1 400.3,66.1 401,65.9 401.7,66 402.4,66.3 403.1,66.4 403.8,66.4 404.5,66.1 405.2,65.8 405.9,63.8 406.6,63.5 407.3,68.3 408,70.6 408.7,67.2 409.4,67.9 410.1,67.2 410.8,65.4 411.5,65.3 412.2,66.2 412.9,66.9 413.6,66.4 414.3,65.8 415,65.8 415.7,66.2 416.4,66.2 417.1,66.1 417.8,66 418.5,66.1 419.2,66.2 419.9,66.2 420.6,66.1 421.3,66 422,66.1 422.7,66.1 423.4,66.1 424.1,66.2 424.8,66 425.5,66 426.2,65.9 426.9,66 427.6,66 428.3,66.1 429,66.1 429.7,66.1 430.4,66 431.1,65.9 431.8,65.6 432.5,65.4 433.2,65.4 433.9,65.6 434.6,65.6 435.3,65.3 436,65.3 436.7,65.5 437.4,65.6 438.1,65.4 438.8,65.5 439.5,65.7 440.2,66 440.9,66.1 441.6,66.2 442.3,66.2 443,66.3 443.7,66.4 444.4,66.2 445.1,66.2 445.8,66.1 446.5,66.1 447.2,65.9 447.9,65.9 448.6,66 449.3,66.2 450,66.1 450.7,65.9 451.4,65.6 452.1,65.5 452.8,65.5 453.5,65.8 454.2,65.8 454.9,65.7 455.6,65.6 456.3,65.6 457,65.2 457.7,63.1 458.4,64.8 459.1,70 459.8,69.7 460.5,66.6 461.2,67.4 461.9,65.9 462.6,64.4 463.3,64.9 464,66.2 464.7,66.6 465.4,66.1 466.1,65.7 466.8,66.2 467.5,66.9 468.2,67.2 468.9,67.1 469.6,66.8 470.3,66.7 471,66.5 471.7,66.5 472.4,66.4 473.1,66.2 473.8,66 474.5,65.8 475.2,65.8 475.9,66 476.6,66.1 477.3,66.3 478,66.4 478.7,66.5 479.4,66.4 480.1,66.4 480.8,66.6 481.5,66.8 482.2,66.9 482.9,67 483.6,67 484.3,66.9 485,66.7 485.7,66.5 486.4,66.4 487.1,66.2 487.8,66 488.5,65.9 489.2,65.7 489.9,65.5 490.6,65.4 491.3,65.6 492,65.6 492.7,65.9 493.4,65.8 494.1,65.9 494.8,66 495.5,66.1 496.2,66 496.9,66 497.6,66 498.3,66.3 499,66.2 499.7,66.2 500.4,66.2 501.1,66.2 501.8,66.3 502.5,66.3 503.2,66.2 503.9,66.2 504.6,66.1 505.3,66.2 506,66.1 506.7,65.8 507.4,65.4 508.1,63.6 508.8,63.5 509.5,68.6 510.2,70.8 510.9,67.5 511.6,68.4 512.3,67.8 513,66.1 513.7,65.7 514.4,66.8 515.1,67.2 515.8,66.7 516.5,65.9 517.2,66 517.9,66.4 518.6,66.5 519.3,66 520,65.7 520.7,65.9 521.4,66.1 522.1,65.9 522.8,65.6 523.5,65.4 524.2,65.6 524.9,65.6 525.6,65.7 526.3,65.8 527,66 527.7,66 528.4,65.9 529.1,65.8 529.8,66 530.5,66 531.2,66 531.9,65.9 532.6,65.9 533.3,65.8 534,65.9 534.7,65.8 535.4,65.7 536.1,65.8 536.8,65.7 537.5,65.6 538.2,65.8 538.9,66 539.6,66.1 540.3,65.8 541,65.7 541.7,65.6 542.4,65.9 543.1,65.9 543.8,66.2 544.5,66.1 545.2,66.2 545.9,66.1 546.6,66 547.3,66.1 548,66.2 548.7,66.4 549.4,66.4 550.1,66.4 550.8,66.2 551.5,66 552.2,65.8 552.9,66 553.6,66.1 554.3,66 555,65.9 555.7,65.9 556.4,65.8 557.1,65.7 557.8,65.7 558.5,65.9 559.2,66.1 559.9,66 560.6,66.1 561.3,65 562,63.5 562.7,67.4 563.4,71.5 564.1,68.4 564.8,67.7 565.5,67.6 566.2,65.8 566.9,65 567.6,65.8 568.3,66.5 569,66 569.7,65.2 570.4,65 571.1,65.6 571.8,65.8 572.5,65.8 573.2,65.6 573.9,65.8 574.6,66.1 575.3,66.1 576,66.1 576.7,66 577.4,65.8 578.1,65.9 578.8,66.1 579.5,66.6 580.2,66.5 580.9,66.3 581.6,66 582.3,66 583,66.1 583.7,66 584.4,66 585.1,65.9 585.8,65.9 586.5,66.4 587.2,66.8" fill="none" stroke="#1a1a1a" stroke-width="0.7" stroke-linejoin="round"/>
<polyline points="372.3,87.2 373,87 373.7,86.8 374.4,86.7 375.1,86.7 375.8,86.9 376.5,87 377.2,87 377.9,87 378.6,87.1 379.3,87.4 380,87.5 380.7,87.3 381.4,87.2 382.1,87 382.8,87 383.5,86.7 384.2,86.5 384.9,86.3 385.6,86.3 386.3,86.1 387,86.1 387.7,86.1 388.4,86.5 389.1,86.3 389.8,86.4 390.5,86.3 391.2,86.4 391.9,86.3 392.6,86.5 393.3,86.5 394,86.4 394.7,86.4 395.4,86.3 396.1,86.2 396.8,85.9 397.5,85.7 398.2,85.5 398.9,85.6 399.6,85.7 400.3,85.8 401,85.7 401.7,85.9 402.4,86 403.1,86 403.8,86 404.5,86 405.2,86 405.9,85.9 406.6,85.6 407.3,83.9 408,80.8 408.7,87.2 409.4,96.2 410.1,91.8 410.8,91 411.5,91.1 412.2,87.6 412.9,85.8 413.6,87.5 414.3,89.1 415,88.8 415.7,87.5 416.4,87.1 417.1,88.1 417.8,88.5 418.5,88.6 419.2,88.4 419.9,88.4 420.6,88.5 421.3,88.2 422,87.9 422.7,87.5 423.4,87.3 424.1,87.5 424.8,87.6 425.5,87.8 426.2,87.5 426.9,87.4 427.6,87.1 428.3,87.2 429,87.2 429.7,87.2 430.4,87 431.1,86.7 431.8,86.6 432.5,86.4 433.2,86.3 433.9,86.3 434.6,86.5 435.3,86.4 436,86.3 436.7,86.6 437.4,87 438.1,87.3 438.8,87.1 439.5,86.8 440.2,86.5 440.9,86.4 441.6,86.4 442.3,86.1 443,86.1 443.7,85.9 444.4,86 445.1,85.8 445.8,85.5 446.5,85.6 447.2,85.5 447.9,85.6 448.6,85.4 449.3,85.4 450,85.3 450.7,85.2 451.4,85.2 452.1,85.1 452.8,84.9 453.5,84.8 454.2,85 454.9,85.3 455.6,85.7 456.3,85.9 457,86.2 457.7,86.2 458.4,86.1 459.1,84.9 459.8,81.4 460.5,86.4 461.2,96.2 461.9,92.7 462.6,90.6 463.3,91.4 464,88.1 464.7,85.9 465.4,87 466.1,88.8 466.8,88.9 467.5,87.7 468.2,87.3 468.9,88.1 469.6,88.7 470.3,88.4 471,87.8 471.7,87.7 472.4,88.1 473.1,88.2 473.8,88.1 474.5,87.8 475.2,87.5 475.9,87.2 476.6,86.8 477.3,86.7 478,86.5 478.7,86.5 479.4,86.5 480.1,86.9 480.8,87.3 481.5,87.5 482.2,87.7 482.9,87.6 483.6,87.4 484.3,87.2 485,86.9 485.7,86.9 486.4,86.8 487.1,87 487.8,87.2 488.5,87.3 489.2,87.3 489.9,87.3 490.6,87.3 491.3,87.3 492,87.2 492.7,87.1 493.4,87.1 494.1,86.8 494.8,86.7 495.5,86.4 496.2,86 496.9,85.9 497.6,85.8 498.3,86 499,86 499.7,85.9 500.4,85.8 501.1,85.7 501.8,85.8 502.5,85.9 503.2,86.1 503.9,86.3 504.6,86.3 505.3,86.3 506,86.1 506.7,86.1 507.4,86 508.1,86.2 508.8,86.3 509.5,85.8 510.2,81.9 510.9,83.9 511.6,94.4 512.3,94.2 513,89.3 513.7,91.4 514.4,88.8 515.1,85.9 515.8,86.3 516.5,88.6 517.2,89.2 517.9,88.2 518.6,87.6 519.3,88 520,88.7 520.7,88.4 521.4,87.8 522.1,87.6 522.8,87.7 523.5,87.7 524.2,87 524.9,86.8 525.6,86.6 526.3,86.9 527,86.8 527.7,87 528.4,86.9 529.1,86.9 529.8,86.8 530.5,87 531.2,87.1 531.9,87.1 532.6,87.3 533.3,87.2 534,87.2 534.7,86.8 535.4,86.7 536.1,86.6 536.8,86.7 537.5,86.6 538.2,86.8 538.9,86.7 539.6,86.7 540.3,86.9 541,87.1 541.7,87.1 542.4,86.7 543.1,86.7 543.8,86.5 544.5,86.5 545.2,86.6 545.9,86.8 546.6,87 547.3,86.8 548,87 548.7,86.9 549.4,86.8 550.1,86.6 550.8,86.5 551.5,86.5 552.2,86.5 552.9,86.2 553.6,86.1 554.3,86.1 555,86.4 555.7,86.3 556.4,86.1 557.1,85.8 557.8,85.7 558.5,85.5 559.2,85.5 559.9,85.7 560.6,86.1 561.3,86.5 562,86.7 562.7,86.6 563.4,83.7 564.1,82.9 564.8,90.6 565.5,96.6 566.2,90.5 566.9,91.6 567.6,90.1 568.3,86.6 569,86 569.7,88 570.4,89.2 571.1,88.6 571.8,87.4 572.5,87.5 573.2,88.1 573.9,88.6 574.6,88.4 575.3,88.1 576,88.1 576.7,88.1 577.4,88.2 578.1,87.9 578.8,87.9 579.5,88 580.2,88.1 580.9,88.1 581.6,88.2 582.3,88.3 583,88.2 583.7,87.9 584.4,87.6 585.1,87.4 585.8,87.1 586.5,86.9 587.2,86.9" fill="none" stroke="#1a1a1a" stroke-width="0.7" stroke-linejoin="round"/>
<polyline points="372.3,109.7 373,109.6 373.7,109.7 374.4,109.8 375.1,109.7 375.8,109.7 376.5,109.5 377.2,109.4 377.9,109.2 378.6,109.1 379.3,109.1 380,109.1 380.7,109.2 381.4,109.3 382.1,109.3 382.8,109.3 383.5,109.1 384.2,108.8 384.9,108.5 385.6,108.4 386.3,108.3 387,108.3 387.7,108.2 388.4,108.4 389.1,108.5 389.8,108.7 390.5,109.1 391.2,109.4 391.9,109.8 392.6,109.8 393.3,109.9 394,109.8 394.7,109.4 395.4,109.1 396.1,108.9 396.8,108.9 397.5,108.8 398.2,108.8 398.9,108.8 399.6,109.1 400.3,109.2 401,109.5 401.7,109.5 402.4,109.4 403.1,109.3 403.8,109.2 404.5,109.2 405.2,109 405.9,109 406.6,108.9 407.3,108.9 408,108.9 408.7,108.1 409.4,105 410.1,107.8 410.8,114.2 411.5,113.3 412.2,110.5 412.9,111.5 413.6,109.6 414.3,107.8 415,108.4 415.7,109.7 416.4,110.2 417.1,109.5 417.8,109.2 418.5,109.6 419.2,110 419.9,109.8 420.6,109.4 421.3,109.4 422,109.9 422.7,109.9 423.4,109.8 424.1,109.5 424.8,109.5 425.5,109.5 426.2,109.3 426.9,109.4 427.6,109.3 428.3,109.4 429,109.4 429.7,109.4 430.4,109.2 431.1,109 431.8,109 432.5,109.1 433.2,109.1 433.9,109.2 434.6,109.1 435.3,109.2 436,109.2 436.7,109.2 437.4,109.2 438.1,109.2 438.8,109.3 439.5,109.5 440.2,109.6 440.9,109.7 441.6,109.7 442.3,109.7 443,109.5 443.7,109.4 444.4,108.9 445.1,108.7 445.8,108.4 446.5,108.4 447.2,108.4 447.9,108.6 448.6,108.7 449.3,109 450,109 450.7,109.1 451.4,109.1 452.1,109.2 452.8,109.3 453.5,109.4 454.2,109.3 454.9,109.2 455.6,109.2 456.3,109.2 457,109.3 457.7,109.3 458.4,109.6 459.1,109.8 459.8,109.8 460.5,109.8 461.2,107.8 461.9,106.2 462.6,111.3 463.3,115.4 464,111.2 464.7,111 465.4,110.9 466.1,108.6 466.8,107.9 467.5,109 468.2,109.8 468.9,109.4 469.6,108.7 470.3,108.7 471,109.3 471.7,109.3 472.4,109 473.1,108.5 473.8,108.6 474.5,108.9 475.2,109.1 475.9,109.2 476.6,109.1 477.3,109.3 478,109.3 478.7,109.4 479.4,109.4 480.1,109.3 480.8,109.2 481.5,108.9 482.2,108.8 482.9,108.4 483.6,108.3 484.3,108.2 485,108.3 485.7,108.4 486.4,108.6 487.1,108.9 487.8,109 488.5,109.2 489.2,109.2 489.9,109.1 490.6,109.1 491.3,109 492,109.3 492.7,109.2 493.4,109.4 494.1,109.4 494.8,109.5 495.5,109.5 496.2,109.4 496.9,109.3 497.6,109.2 498.3,109.2 499,109.3 499.7,109.3 500.4,109.3 501.1,109.3 501.8,109.2 502.5,109.2 503.2,109.2 503.9,109.4 504.6,109.4 505.3,109.5 506,109.6 506.7,109.6 507.4,109.6 508.1,109.2 508.8,109.3 509.5,109.3 510.2,109.3 510.9,109.1 511.6,107.9 512.3,104.8 513,108.6 513.7,114.5 514.4,112.4 515.1,110.7 515.8,111.6 516.5,109.9 517.2,108.7 517.9,109.5 518.6,110.6 519.3,110.4 520,109.6 520.7,109.3 521.4,109.6 522.1,109.8 522.8,109.4 523.5,109.1 524.2,109.1 524.9,109.4 525.6,109.4 526.3,109.3 527,109.2 527.7,109.3 528.4,109.3 529.1,109.4 529.8,109.7 530.5,109.9 531.2,110.1 531.9,110.1 532.6,110 533.3,109.9 534,109.8 534.7,109.4 535.4,109.2 536.1,108.9 536.8,108.9 537.5,109.1 538.2,109.3 538.9,109.5 539.6,109.5 540.3,109.3 541,109.2 541.7,109.1 542.4,109.3 543.1,109.4 543.8,109.4 544.5,109.4 545.2,109.4 545.9,109.4 546.6,109.4 547.3,109.5 548,109.5 548.7,109.3 549.4,109.2 550.1,109.2 550.8,109.3 551.5,109.4 552.2,109.4 552.9,109.4 553.6,109.3 554.3,109.1 555,108.8 555.7,108.5 556.4,108.5 557.1,108.6 557.8,108.7 558.5,108.7 559.2,108.8 559.9,108.7 560.6,108.7 561.3,108.8 562,108.9 562.7,108.8 563.4,108.8 564.1,108.9 564.8,108.6 565.5,105.5 566.2,106.9 566.9,113.3 567.6,113.7 568.3,110 569,111.5 569.7,110 570.4,108 571.1,108 571.8,109.4 572.5,109.8 573.2,109.1 573.9,108.5 574.6,108.7 575.3,109.2 576,109.1 576.7,108.8 577.4,108.7 578.1,109.1 578.8,109.3 579.5,109.4 580.2,109.3 580.9,109.3 581.6,109.3 582.3,109.2 583,109.2 583.7,109.2 584.4,109.2 585.1,109.3 585.8,109.4 586.5,109.4 587.2,109.3" fill="none" stroke="#1a1a1a" stroke-width="0.7" stroke-linejoin="round"/>
<polyline points="372.3,130.6 373,130.9 373.7,131.1 374.4,130.9 375.1,130.8 375.8,130.8 376.5,130.8 377.2,130.6 377.9,130.7 378.6,130.6 379.3,130.5 380,130.1 380.7,130 381.4,130.2 382.1,130.4 382.8,130.6 383.5,130.6 384.2,130.6 384.9,130.6 385.6,130.3 386.3,130.2 387,130.1 387.7,130.2 388.4,130.2 389.1,130.3 389.8,130.5 390.5,130.4 391.2,130.5 391.9,130.6 392.6,130.8 393.3,130.8 394,130.7 394.7,131.1 395.4,131.1 396.1,131.2 396.8,131.1 397.5,131.4 398.2,131.3 398.9,131.5 399.6,131.3 400.3,131.3 401,131.1 401.7,131.1 402.4,130.8 403.1,130.7 403.8,130.8 404.5,130.8 405.2,131 405.9,131 406.6,131.1 407.3,131.1 408,131.1 408.7,131.2 409.4,131.4 410.1,131.1 410.8,128.2 411.5,128.2 412.2,135.3 412.9,137.9 413.6,132.8 414.3,134.6 415,136.1 415.7,131.6 416.4,130.2 417.1,131.6 417.8,132.3 418.5,131.5 419.2,130.9 419.9,131 420.6,131.6 421.3,131.6 422,131.3 422.7,131.1 423.4,131.1 424.1,131.2 424.8,131.1 425.5,131 426.2,131 426.9,131 427.6,130.8 428.3,130.8 429,130.9 429.7,131 430.4,131 431.1,131.2 431.8,131.2 432.5,131.6 433.2,131.4 433.9,131.2 434.6,131 435.3,130.9 436,130.9 436.7,130.8 437.4,130.8 438.1,130.7 438.8,130.7 439.5,130.8 440.2,130.7 440.9,130.5 441.6,130.5 442.3,130.6 443,130.6 443.7,130.7 444.4,130.9 445.1,131.1 445.8,131.4 446.5,131.7 447.2,132.1 447.9,132 448.6,131.8 449.3,131.7 450,131.6 450.7,131.4 451.4,131.2 452.1,131 452.8,131 453.5,130.8 454.2,130.9 454.9,131 455.6,131 456.3,131.1 457,130.9 457.7,131.1 458.4,130.8 459.1,130.8 459.8,130.7 460.5,130.7 461.2,130.6 461.9,130.4 462.6,130.1 463.3,127.2 464,127.3 464.7,134.3 465.4,136.7 466.1,131.7 466.8,133.6 467.5,135.3 468.2,130.7 468.9,129.6 469.6,131.1 470.3,131.8 471,131 471.7,130.3 472.4,130.5 473.1,131 473.8,131 474.5,130.7 475.2,130.6 475.9,130.8 476.6,131 477.3,131 478,130.9 478.7,130.8 479.4,130.9 480.1,130.8 480.8,130.7 481.5,130.6 482.2,130.6 482.9,130.6 483.6,130.5 484.3,130.4 485,130.4 485.7,130.3 486.4,130.3 487.1,130.3 487.8,130.5 488.5,130.5 489.2,130.6 489.9,130.4 490.6,130.6 491.3,130.5 492,130.6 492.7,130.5 493.4,130.6 494.1,130.7 494.8,130.8 495.5,131 496.2,131.1 496.9,130.9 497.6,130.6 498.3,130.7 499,130.7 499.7,130.9 500.4,130.9 501.1,131 501.8,131.1 502.5,131.2 503.2,131.1 503.9,131 504.6,130.9 505.3,131 506,131.1 506.7,131.1 507.4,131.3 508.1,131.2 508.8,131.4 509.5,131.2 510.2,131.2 510.9,130.8 511.6,130.8 512.3,130.5 513,130.6 513.7,128.8 514.4,126.9 515.1,132.9 515.8,138 516.5,133.4 517.2,133.2 517.9,135.5 518.6,132.4 519.3,129.7 520,130.8 520.7,131.7 521.4,131.1 522.1,130.2 522.8,130.2 523.5,130.7 524.2,130.7 524.9,130.4 525.6,130 526.3,130 527,130.3 527.7,130.2 528.4,130.3 529.1,130.5 529.8,130.8 530.5,130.9 531.2,130.9 531.9,130.9 532.6,130.9 533.3,130.9 534,131.1 534.7,131.3 535.4,131.4 536.1,131.6 536.8,131.6 537.5,131.6 538.2,131.7 538.9,131.5 539.6,131.4 540.3,131.1 541,131.4 541.7,131.3 542.4,131.4 543.1,131.2 543.8,131.4 544.5,131.3 545.2,131.3 545.9,131.1 546.6,131.3 547.3,131.3 548,131.5 548.7,131.4 549.4,131.1 550.1,131 550.8,131 551.5,131.2 552.2,131.3 552.9,131.3 553.6,131.3 554.3,131.4 555,131.3 555.7,131.3 556.4,131.2 557.1,131.4 557.8,131.3 558.5,131.2 559.2,131 559.9,130.8 560.6,130.7 561.3,130.7 562,130.4 562.7,130.1 563.4,129.9 564.1,130 564.8,130.2 565.5,130.2 566.2,130.2 566.9,129.3 567.6,126 568.3,130 569,136.8 569.7,134.6 570.4,132.3 571.1,135 571.8,134.1 572.5,130.1 573.2,130.7 573.9,132.2 574.6,132.1 575.3,131.1 576,130.4 576.7,130.6 577.4,130.7 578.1,130.6 578.8,130.1 579.5,130.1 580.2,130.4 580.9,131 581.6,131.1 582.3,131.3 583,131.1 583.7,131.3 584.4,131.1 585.1,130.9 585.8,130.7 586.5,130.8 587.2,130.8" fill="none" stroke="#1a1a1a" stroke-width="0.7" stroke-linejoin="round"/>
<polyline points="372.3,152.4 373,152.4 373.7,152.5 374.4,152.6 375.1,152.4 375.8,152.3 376.5,152.3 377.2,152.2 377.9,152.1 378.6,152.1 379.3,152.1 380,152 380.7,151.8 381.4,151.8 382.1,151.8 382.8,151.9 383.5,151.9 384.2,151.9 384.9,151.8 385.6,151.6 386.3,151.4 387,151.2 387.7,151.3 388.4,151.2 389.1,151.1 389.8,151 390.5,151 391.2,151.2 391.9,151.3 392.6,151.3 393.3,151.1 394,151.3 394.7,151.3 395.4,151.3 396.1,151 396.8,151.2 397.5,151.3 398.2,151.2 398.9,151 399.6,150.9 400.3,150.8 401,150.7 401.7,150.6 402.4,150.5 403.1,150.3 403.8,150 404.5,150.2 405.2,150.3 405.9,150.2 406.6,150.1 407.3,150.1 408,150.3 408.7,150.3 409.4,150.3 410.1,150.2 410.8,150.2 411.5,150.1 412.2,148 412.9,144.8 413.6,151.5 414.3,159.7 415,155.5 415.7,155 416.4,154.7 417.1,152.4 417.8,151.4 418.5,152.4 419.2,153.4 419.9,153 420.6,152.1 421.3,151.9 422,152.4 422.7,152.8 423.4,152.5 424.1,152.3 424.8,152.2 425.5,152.5 426.2,152.6 426.9,152.7 427.6,152.5 428.3,152.4 429,152.1 429.7,152.2 430.4,152.1 431.1,152.2 431.8,152.1 432.5,152.1 433.2,151.9 433.9,151.7 434.6,151.7 435.3,151.6 436,151.7 436.7,151.8 437.4,151.9 438.1,151.7 438.8,151.5 439.5,151.3 440.2,151.2 440.9,151.3 441.6,151.5 442.3,151.8 443,152 443.7,152 444.4,151.9 445.1,151.9 445.8,151.9 446.5,151.6 447.2,151.5 447.9,151.3 448.6,151.2 449.3,150.8 450,150.7 450.7,150.7 451.4,150.8 452.1,150.8 452.8,150.7 453.5,150.6 454.2,150.5 454.9,150.5 455.6,150.3 456.3,150.2 457,150.1 457.7,150.2 458.4,150.2 459.1,150 459.8,149.7 460.5,149.3 461.2,149.3 461.9,149.3 462.6,149.7 463.3,149.7 464,149.8 464.7,148.8 465.4,144.1 466.1,147.1 466.8,157.8 467.5,157.3 468.2,153.4 468.9,154.2 469.6,152.3 470.3,150.4 471,150.5 471.7,151.9 472.4,152 473.1,151.3 473.8,150.8 474.5,151.3 475.2,151.9 475.9,151.9 476.6,151.7 477.3,151.8 478,152 478.7,152.4 479.4,152.4 480.1,152.5 480.8,152.4 481.5,152.4 482.2,152.3 482.9,152.2 483.6,152.1 484.3,152.1 485,152.1 485.7,152.1 486.4,151.9 487.1,151.6 487.8,151.4 488.5,151.3 489.2,151.3 489.9,151.3 490.6,151.3 491.3,151.3 492,151.2 492.7,151.1 493.4,151.1 494.1,151.2 494.8,151.3 495.5,151.2 496.2,151.1 496.9,151.1 497.6,151.2 498.3,151.3 499,151.3 499.7,151.3 500.4,151.3 501.1,151 501.8,150.8 502.5,150.7 503.2,150.8 503.9,150.8 504.6,150.6 505.3,150.6 506,150.7 506.7,150.8 507.4,150.7 508.1,150.6 508.8,150.6 509.5,150.5 510.2,150.4 510.9,150.3 511.6,150.2 512.3,150.1 513,150 513.7,150 514.4,150.1 515.1,149.9 515.8,146 516.5,145.7 517.2,156.5 517.9,159.2 518.6,154.4 519.3,155.5 520,154.5 520.7,152.4 521.4,152.1 522.1,153.3 522.8,153.8 523.5,152.9 524.2,152.1 524.9,152.2 525.6,152.4 526.3,152.4 527,151.7 527.7,151.3 528.4,151.3 529.1,151.3 529.8,151.2 530.5,151.1 531.2,151.1 531.9,151.2 532.6,151.3 533.3,151.5 534,151.5 534.7,151.6 535.4,151.3 536.1,151.3 536.8,151.3 537.5,151.3 538.2,151.2 538.9,151 539.6,150.9 540.3,150.8 541,150.7 541.7,150.7 542.4,150.8 543.1,150.8 543.8,150.7 544.5,150.6 545.2,150.6 545.9,150.7 546.6,151 547.3,151.3 548,151.5 548.7,151.4 549.4,151.2 550.1,151 550.8,151 551.5,151 552.2,151.1 552.9,151.3 553.6,151.5 554.3,151.5 555,151.5 555.7,151.2 556.4,151.2 557.1,150.8 557.8,150.9 558.5,150.7 559.2,150.8 559.9,150.6 560.6,150.7 561.3,150.5 562,150.4 562.7,150.1 563.4,149.9 564.1,149.9 564.8,149.8 565.5,149.8 566.2,149.8 566.9,149.9 567.6,150 568.3,150 569,147.7 569.7,144.5 570.4,151.4 571.1,159.6 571.8,155.3 572.5,154.5 573.2,154.3 573.9,151.9 574.6,150.9 575.3,152 576,153 576.7,152.8 577.4,152 578.1,151.8 578.8,152.2 579.5,152.4 580.2,152.3 580.9,151.9 581.6,151.9 582.3,152 583,152.2 583.7,152.2 584.4,152.3 585.1,152.3 585.8,152.6 586.5,152.7 587.2,152.6" fill="none" stroke="#1a1a1a" stroke-width="0.7" stroke-linejoin="round"/>
<polyline points="372.3,175 373,175.1 373.7,174.8 374.4,174.5 375.1,174.7 375.8,175 376.5,174.9 377.2,174.9 377.9,174.8 378.6,175 379.3,174.8 380,174.9 380.7,174.9 381.4,174.8 382.1,174.6 382.8,174.8 383.5,174.8 384.2,174.9 384.9,174.9 385.6,174.7 386.3,174.5 387,174 387.7,173.7 388.4,173.5 389.1,173.6 389.8,173.8 390.5,173.8 391.2,173.8 391.9,173.6 392.6,173.5 393.3,173.2 394,173 394.7,173.1 395.4,173.1 396.1,173.2 396.8,173.1 397.5,172.9 398.2,172.9 398.9,173 399.6,172.9 400.3,172.9 401,172.8 401.7,172.9 402.4,172.9 403.1,173 403.8,173.2 404.5,173.2 405.2,173.1 405.9,172.9 406.6,172.6 407.3,172.5 408,172.4 408.7,172.4 409.4,172.1 410.1,171.8 410.8,171.3 411.5,171.2 412.2,171 412.9,171 413.6,169.2 414.3,163.4 415,168.8 415.7,182.2 416.4,180.4 417.1,177.2 417.8,177.9 418.5,176.2 419.2,175 419.9,175.5 420.6,176.5 421.3,176.5 422,175.8 422.7,175.6 423.4,176 424.1,175.8 424.8,175.2 425.5,174.4 426.2,174.2 426.9,174.4 427.6,174.6 428.3,174.7 429,174.5 429.7,174.6 430.4,174.6 431.1,174.6 431.8,174.6 432.5,174.5 433.2,174.5 433.9,174.4 434.6,174.2 435.3,174.1 436,173.9 436.7,174 437.4,174 438.1,173.9 438.8,174 439.5,173.9 440.2,174 440.9,173.9 441.6,173.9 442.3,173.8 443,173.8 443.7,173.7 444.4,173.6 445.1,173.3 445.8,173.3 446.5,173.3 447.2,173.5 447.9,173.5 448.6,173.6 449.3,173.5 450,173.4 450.7,173.3 451.4,173 452.1,172.7 452.8,172.5 453.5,172.6 454.2,172.8 454.9,172.8 455.6,172.8 456.3,172.8 457,172.8 457.7,172.8 458.4,172.8 459.1,172.8 459.8,172.7 460.5,172.5 461.2,172.5 461.9,172.6 462.6,172.6 463.3,172.4 464,172.2 464.7,171.7 465.4,171.3 466.1,171 466.8,168.6 467.5,162.9 468.2,169.7 468.9,181.8 469.6,178.6 470.3,176.3 471,176.7 471.7,174.8 472.4,173.9 473.1,174.5 473.8,175.8 474.5,176.1 475.2,175.7 475.9,175.4 476.6,175.6 477.3,175.6 478,175.3 478.7,174.8 479.4,174.7 480.1,174.6 480.8,174.4 481.5,174.1 482.2,173.9 482.9,173.9 483.6,173.9 484.3,174 485,174.3 485.7,174.5 486.4,174.7 487.1,174.7 487.8,174.7 488.5,174.9 489.2,174.8 489.9,174.7 490.6,174.3 491.3,174 492,173.6 492.7,173.4 493.4,173.3 494.1,173.1 494.8,172.9 495.5,172.9 496.2,173 496.9,173.1 497.6,173.1 498.3,173 499,172.9 499.7,173 500.4,173 501.1,172.9 501.8,172.9 502.5,173.1 503.2,173.3 503.9,173.4 504.6,173.1 505.3,173 506,172.7 506.7,172.8 507.4,172.7 508.1,172.6 508.8,172.4 509.5,172.2 510.2,172 510.9,172 511.6,172 512.3,172.1 513,172.2 513.7,172.5 514.4,172.5 515.1,172.5 515.8,172.2 516.5,171.9 517.2,170.4 517.9,164.1 518.6,167.3 519.3,180.8 520,180.5 520.7,176.2 521.4,177.2 522.1,175.9 522.8,174.5 523.5,174.7 524.2,175.9 524.9,176.2 525.6,175.7 526.3,175.3 527,175.7 527.7,176.4 528.4,176.5 529.1,176.1 529.8,175.5 530.5,175.4 531.2,175.3 531.9,175.2 532.6,175.2 533.3,175.3 534,175.5 534.7,175.5 535.4,175.5 536.1,175.5 536.8,175.4 537.5,175.4 538.2,175.1 538.9,175.1 539.6,175 540.3,175 541,175.1 541.7,175.1 542.4,175.2 543.1,174.9 543.8,174.4 544.5,174.1 545.2,173.9 545.9,174.1 546.6,174.1 547.3,174.2 548,174.1 548.7,174 549.4,174 550.1,173.9 550.8,173.6 551.5,173.1 552.2,172.9 552.9,173 553.6,173 554.3,172.8 555,172.5 555.7,172.5 556.4,172.6 557.1,172.9 557.8,173.1 558.5,173.3 559.2,173.3 559.9,173.3 560.6,173.2 561.3,173.2 562,173.2 562.7,173.2 563.4,173.1 564.1,173.3 564.8,173.1 565.5,172.8 566.2,172.4 566.9,172.2 567.6,172 568.3,171.8 569,171.7 569.7,171.8 570.4,171.7 571.1,166.9 571.8,165.8 572.5,175 573.2,182.6 573.9,177.5 574.6,178 575.3,177.5 576,175.6 576.7,175.1 577.4,175.8 578.1,176.2 578.8,175.8 579.5,175.1 580.2,175.1 580.9,175.4 581.6,175.5 582.3,175.1 583,174.8 583.7,174.8 584.4,174.9 585.1,175 585.8,175 586.5,175.1 587.2,175.3" fill="none" stroke="#1a1a1a" stroke-width="0.7" stroke-linejoin="round"/>
<polyline points="372.3,194.5 373,194.5 373.7,195.3 374.4,195.9 375.1,196 375.8,195.9 376.5,195.9 377.2,196.3 377.9,196.4 378.6,196.7 379.3,196.8 380,197.1 380.7,197.1 381.4,197.6 382.1,197.9 382.8,198.1 383.5,198 384.2,198 384.9,198.3 385.6,198.8 386.3,199.3 387,199.7 387.7,199.9 388.4,200 389.1,200 389.8,200 390.5,199.8 391.2,199.7 391.9,199.4 392.6,199.2 393.3,198.7 394,198.4 394.7,198.1 395.4,198.2 396.1,198.4 396.8,198.6 397.5,198.8 398.2,198.8 398.9,198.6 399.6,198.1 400.3,197.5 401,197.1 401.7,196.7 402.4,196.2 403.1,195.6 403.8,195.3 404.5,195.1 405.2,195.1 405.9,195.1 406.6,195 407.3,195 408,194.7 408.7,194.3 409.4,194.2 410.1,194 410.8,194.1 411.5,194.1 412.2,194.1 412.9,194.1 413.6,194.1 414.3,193.7 415,192.5 415.7,185.8 416.4,186.7 417.1,197.5 417.8,199.8 418.5,194 419.2,195 419.9,194 420.6,192.4 421.3,193 422,194.9 422.7,195.8 423.4,195.1 424.1,194.1 424.8,194.1 425.5,194.5 426.2,194.9 426.9,194.6 427.6,194.9 428.3,195.2 429,195.8 429.7,196 430.4,196.3 431.1,196.7 431.8,197.1 432.5,197.4 433.2,197.5 433.9,197.9 434.6,198.2 435.3,198.5 436,198.6 436.7,198.7 437.4,198.4 438.1,198.1 438.8,197.9 439.5,197.9 440.2,198 440.9,198 441.6,198.2 442.3,198.5 443,199.1 443.7,199.5 444.4,199.8 445.1,199.6 445.8,199.4 446.5,199.1 447.2,198.9 447.9,198.7 448.6,198.5 449.3,198.1 450,197.7 450.7,197.4 451.4,197.3 452.1,197.2 452.8,197.2 453.5,197 454.2,196.9 454.9,196.6 455.6,196.1 456.3,195.8 457,195.4 457.7,195.3 458.4,195.1 459.1,194.9 459.8,194.6 460.5,194.3 461.2,194.1 461.9,193.6 462.6,193.3 463.3,192.9 464,192.7 464.7,192.6 465.4,192.7 466.1,192.7 466.8,192.7 467.5,192.6 468.2,192.1 468.9,187.7 469.6,183.8 470.3,193.9 471,199.8 471.7,194.3 472.4,193.9 473.1,194.2 473.8,192.8 474.5,192.7 475.2,194 475.9,194.8 476.6,194.6 477.3,194.2 478,194.8 478.7,196 479.4,196.9 480.1,197 480.8,196.6 481.5,196.3 482.2,196.3 482.9,196.5 483.6,196.7 484.3,197.1 485,197.6 485.7,198 486.4,198.1 487.1,198.2 487.8,198.2 488.5,198.2 489.2,198.3 489.9,198.5 490.6,199 491.3,199.5 492,199.8 492.7,199.9 493.4,199.7 494.1,199.5 494.8,199.3 495.5,199.3 496.2,199.3 496.9,199.6 497.6,200.2 498.3,200.6 499,200.6 499.7,200.1 500.4,199.3 501.1,198.4 501.8,197.9 502.5,197.9 503.2,198.1 503.9,198.5 504.6,198.5 505.3,198.2 506,197.5 506.7,197 507.4,196.5 508.1,196.3 508.8,196.2 509.5,196.2 510.2,196.1 510.9,195.8 511.6,195.4 512.3,195 513,194.8 513.7,194.5 514.4,194.3 515.1,194 515.8,193.8 516.5,193.5 517.2,193.4 517.9,193.3 518.6,193.4 519.3,191 520,184.7 520.7,192.1 521.4,201 522.1,197.5 522.8,194.7 523.5,195.3 524.2,193.4 524.9,192.1 525.6,192.9 526.3,194.1 527,194.1 527.7,193.3 528.4,193 529.1,193.6 529.8,194 530.5,194.1 531.2,193.7 531.9,193.8 532.6,194 533.3,194.6 534,195 534.7,195.7 535.4,196.5 536.1,197.1 536.8,197.7 537.5,197.7 538.2,197.7 538.9,197.5 539.6,197.7 540.3,198 541,198.5 541.7,198.5 542.4,198.2 543.1,197.8 543.8,197.6 544.5,197.7 545.2,198 545.9,198.1 546.6,198.1 547.3,198.1 548,198.1 548.7,198.1 549.4,198.4 550.1,198.6 550.8,198.8 551.5,198.7 552.2,198.7 552.9,198.4 553.6,198.1 554.3,197.7 555,197.5 555.7,197.1 556.4,196.7 557.1,196.3 557.8,195.8 558.5,195.6 559.2,195.4 559.9,195.4 560.6,195.3 561.3,195.3 562,195.4 562.7,195.7 563.4,195.8 564.1,195.8 564.8,195.6 565.5,195.3 566.2,195 566.9,194.9 567.6,194.9 568.3,194.9 569,194.8 569.7,194.5 570.4,194.1 571.1,193.8 571.8,193.5 572.5,192.3 573.2,185.2 573.9,188.5 574.6,198.9 575.3,199.2 576,194.2 576.7,195.3 577.4,193.8 578.1,192.1 578.8,192.6 579.5,194 580.2,194.5 580.9,194 581.6,193.8 582.3,194.4 583,195 583.7,195 584.4,194.7 585.1,194.7 585.8,194.9 586.5,195.2 587.2,195.2" fill="none" stroke="#1a1a1a" stroke-width="0.7" stroke-linejoin="round"/>
<polyline points="372.3,217.8 373,217.1 373.7,215.9 374.4,214.7 375.1,214.1 375.8,213.4 376.5,212.9 377.2,212.5 377.9,212.3 378.6,212.2 379.3,212 380,212 380.7,211.8 381.4,211.9 382.1,211.9 382.8,212.1 383.5,212 384.2,212 384.9,211.8 385.6,211.7 386.3,211.4 387,211.2 387.7,211.2 388.4,211.3 389.1,211.1 389.8,210.6 390.5,210.1 391.2,209.7 391.9,209.9 392.6,210.3 393.3,210.8 394,211.3 394.7,211.6 395.4,211.7 396.1,211.7 396.8,212 397.5,212.4 398.2,212.8 398.9,212.9 399.6,212.8 400.3,212.7 401,212.8 401.7,213.1 402.4,213.6 403.1,214.2 403.8,214.7 404.5,215.3 405.2,215.4 405.9,215.8 406.6,216 407.3,216.3 408,216.5 408.7,216.9 409.4,217.2 410.1,217.4 410.8,217.7 411.5,218.2 412.2,218.6 412.9,218.9 413.6,219.2 414.3,219.2 415,219.4 415.7,219.5 416.4,219.7 417.1,218.7 417.8,217.8 418.5,221.1 419.2,224.1 419.9,220.4 420.6,219.2 421.3,218.8 422,217.8 422.7,217.3 423.4,217.4 424.1,217.4 424.8,216.7 425.5,215.8 426.2,215.3 426.9,215.2 427.6,215.1 428.3,214.7 429,214.4 429.7,214 430.4,213.6 431.1,212.9 431.8,212.3 432.5,211.9 433.2,211.5 433.9,211.5 434.6,211.4 435.3,211.3 436,211.2 436.7,211.1 437.4,211.2 438.1,211.3 438.8,211.3 439.5,211.4 440.2,211.5 440.9,211.7 441.6,211.8 442.3,211.8 443,211.7 443.7,211.6 444.4,211.5 445.1,211.5 445.8,211.9 446.5,212.3 447.2,212.7 447.9,212.7 448.6,212.8 449.3,212.8 450,213.2 450.7,213.6 451.4,214.2 452.1,214.5 452.8,214.8 453.5,214.9 454.2,215 454.9,214.8 455.6,214.6 456.3,214.6 457,214.7 457.7,215 458.4,215.1 459.1,215.3 459.8,215.4 460.5,215.7 461.2,216.2 461.9,216.6 462.6,217.2 463.3,217.8 464,218.5 464.7,219.2 465.4,219.7 466.1,219.8 466.8,219.8 467.5,219.8 468.2,219.9 468.9,220 469.6,220 470.3,219.8 471,218.2 471.7,218.3 472.4,222.4 473.1,223.6 473.8,219.7 474.5,219.3 475.2,218.3 475.9,216.9 476.6,216.3 477.3,216.4 478,216.1 478.7,215.7 479.4,215.1 480.1,215.2 480.8,215.1 481.5,214.8 482.2,214.2 482.9,213.7 483.6,213.5 484.3,213.3 485,213.1 485.7,212.9 486.4,212.7 487.1,212.3 487.8,212 488.5,211.8 489.2,211.7 489.9,211.5 490.6,211.4 491.3,211.3 492,211.4 492.7,211.3 493.4,211.4 494.1,211.4 494.8,211.5 495.5,211.5 496.2,211.4 496.9,211.6 497.6,211.8 498.3,211.8 499,212 499.7,212.1 500.4,212.3 501.1,212.4 501.8,212.7 502.5,213.1 503.2,213.3 503.9,213.4 504.6,213.8 505.3,214.1 506,214.7 506.7,215.3 507.4,215.7 508.1,215.6 508.8,215.7 509.5,216 510.2,216.5 510.9,217 511.6,217.3 512.3,217.5 513,217.5 513.7,217.7 514.4,217.9 515.1,218.3 515.8,218.6 516.5,218.8 517.2,219 517.9,218.9 518.6,219 519.3,218.9 520,218.9 520.7,218.6 521.4,217.7 522.1,216.9 522.8,220.8 523.5,224.5 524.2,221.2 524.9,220.4 525.6,220.2 526.3,219.1 527,218.1 527.7,217.7 528.4,217.1 529.1,216.2 529.8,215.5 530.5,215.5 531.2,215.6 531.9,215.7 532.6,215.4 533.3,215.1 534,214.7 534.7,214.5 535.4,214 536.1,213.8 536.8,213.3 537.5,213.1 538.2,212.8 538.9,212.2 539.6,211.7 540.3,211 541,210.7 541.7,210.3 542.4,209.9 543.1,209.6 543.8,209.4 544.5,209.3 545.2,209.3 545.9,209.3 546.6,209.4 547.3,209.5 548,209.7 548.7,210.3 549.4,210.7 550.1,211.3 550.8,211.7 551.5,212.2 552.2,212.4 552.9,212.9 553.6,213.1 554.3,213.2 555,213.1 555.7,213 556.4,212.8 557.1,213.1 557.8,213.2 558.5,213.4 559.2,213.5 559.9,213.8 560.6,214.2 561.3,214.8 562,215.3 562.7,216 563.4,216.4 564.1,216.7 564.8,216.8 565.5,217.2 566.2,217.5 566.9,217.8 567.6,217.9 568.3,218.1 569,218 569.7,218 570.4,218.1 571.1,218.3 571.8,218.6 572.5,219 573.2,219.1 573.9,219.1 574.6,218.4 575.3,217 576,219.3 576.7,223.5 577.4,220.9 578.1,218 578.8,217.5 579.5,216.6 580.2,216 580.9,216.2 581.6,216.5 582.3,216.2 583,215.4 583.7,214.6 584.4,214.5 585.1,214.5 585.8,214.3 586.5,214 587.2,213.7" fill="none" stroke="#1a1a1a" stroke-width="0.7" stroke-linejoin="round"/>
<ellipse cx="406" cy="47.3" rx="1.3" ry="1.3" fill="#e0251f"/>
<ellipse cx="457.3" cy="47.3" rx="1.3" ry="1.3" fill="#e0251f"/>
<ellipse cx="507.9" cy="47.3" rx="1.3" ry="1.3" fill="#e0251f"/>
<ellipse cx="561.3" cy="47.3" rx="1.3" ry="1.3" fill="#e0251f"/>
<ellipse cx="407.6" cy="68.2" rx="1.3" ry="1.3" fill="#e0251f"/>
<ellipse cx="459.2" cy="68.2" rx="1.3" ry="1.3" fill="#e0251f"/>
<ellipse cx="509.8" cy="68.2" rx="1.3" ry="1.3" fill="#e0251f"/>
<ellipse cx="563.2" cy="68.2" rx="1.3" ry="1.3" fill="#e0251f"/>
<ellipse cx="409.2" cy="91.9" rx="1.3" ry="1.3" fill="#e0251f"/>
<ellipse cx="461.1" cy="91.9" rx="1.3" ry="1.3" fill="#e0251f"/>
<ellipse cx="511.7" cy="91.9" rx="1.3" ry="1.3" fill="#e0251f"/>
<ellipse cx="565.1" cy="91.9" rx="1.3" ry="1.3" fill="#e0251f"/>
<ellipse cx="410.9" cy="112" rx="1.3" ry="1.3" fill="#e0251f"/>
<ellipse cx="463.1" cy="112" rx="1.3" ry="1.3" fill="#e0251f"/>
<ellipse cx="513.7" cy="112" rx="1.3" ry="1.3" fill="#e0251f"/>
<ellipse cx="567.1" cy="112" rx="1.3" ry="1.3" fill="#e0251f"/>
<ellipse cx="412.5" cy="134.1" rx="1.3" ry="1.3" fill="#e0251f"/>
<ellipse cx="465" cy="134.1" rx="1.3" ry="1.3" fill="#e0251f"/>
<ellipse cx="515.6" cy="134.1" rx="1.3" ry="1.3" fill="#e0251f"/>
<ellipse cx="569" cy="134.1" rx="1.3" ry="1.3" fill="#e0251f"/>
<ellipse cx="414.1" cy="155.9" rx="1.3" ry="1.3" fill="#e0251f"/>
<ellipse cx="466.9" cy="155.9" rx="1.3" ry="1.3" fill="#e0251f"/>
<ellipse cx="517.5" cy="155.9" rx="1.3" ry="1.3" fill="#e0251f"/>
<ellipse cx="570.9" cy="155.9" rx="1.3" ry="1.3" fill="#e0251f"/>
<ellipse cx="415.7" cy="179.7" rx="1.3" ry="1.3" fill="#e0251f"/>
<ellipse cx="468.8" cy="179.7" rx="1.3" ry="1.3" fill="#e0251f"/>
<ellipse cx="519.4" cy="179.7" rx="1.3" ry="1.3" fill="#e0251f"/>
<ellipse cx="572.8" cy="179.7" rx="1.3" ry="1.3" fill="#e0251f"/>
<ellipse cx="417.3" cy="196.6" rx="1.3" ry="1.3" fill="#e0251f"/>
<ellipse cx="470.7" cy="196.6" rx="1.3" ry="1.3" fill="#e0251f"/>
<ellipse cx="521.3" cy="196.6" rx="1.3" ry="1.3" fill="#e0251f"/>
<ellipse cx="574.7" cy="196.6" rx="1.3" ry="1.3" fill="#e0251f"/>
<ellipse cx="419" cy="221" rx="1.3" ry="1.3" fill="#e0251f"/>
<ellipse cx="472.7" cy="221" rx="1.3" ry="1.3" fill="#e0251f"/>
<ellipse cx="523.3" cy="221" rx="1.3" ry="1.3" fill="#e0251f"/>
<ellipse cx="576.7" cy="221" rx="1.3" ry="1.3" fill="#e0251f"/>
</g>
<text x="361.8" y="41.9" font-size="9.9" text-anchor="middle" fill="#1a1a1a">1</text>
<text x="593.8" y="45.3" font-size="9.8" text-anchor="start" fill="#1a1a1a" textLength="29.6" lengthAdjust="spacingAndGlyphs">3.1 mV</text>
<text x="361.8" y="64.1" font-size="9.9" text-anchor="middle" fill="#1a1a1a">2</text>
<text x="593.8" y="67.4" font-size="9.8" text-anchor="start" fill="#1a1a1a" textLength="29.6" lengthAdjust="spacingAndGlyphs">2.5 mV</text>
<text x="361.8" y="86.3" font-size="9.9" text-anchor="middle" fill="#1a1a1a">3</text>
<text x="593.8" y="89.4" font-size="9.8" text-anchor="start" fill="#1a1a1a" textLength="29.6" lengthAdjust="spacingAndGlyphs">4.9 mV</text>
<text x="361.8" y="108.5" font-size="9.9" text-anchor="middle" fill="#1a1a1a">4</text>
<text x="593.8" y="111.5" font-size="9.8" text-anchor="start" fill="#1a1a1a" textLength="29.6" lengthAdjust="spacingAndGlyphs">4.9 mV</text>
<text x="361.8" y="130.7" font-size="9.9" text-anchor="middle" fill="#1a1a1a">5</text>
<text x="593.8" y="133.5" font-size="9.8" text-anchor="start" fill="#1a1a1a" textLength="29.6" lengthAdjust="spacingAndGlyphs">3.7 mV</text>
<text x="361.8" y="152.9" font-size="9.9" text-anchor="middle" fill="#1a1a1a">6</text>
<text x="593.8" y="155.6" font-size="9.8" text-anchor="start" fill="#1a1a1a" textLength="29.6" lengthAdjust="spacingAndGlyphs">4.3 mV</text>
<text x="361.8" y="175.1" font-size="9.9" text-anchor="middle" fill="#1a1a1a">7</text>
<text x="593.8" y="177.7" font-size="9.8" text-anchor="start" fill="#1a1a1a" textLength="29.6" lengthAdjust="spacingAndGlyphs">4.5 mV</text>
<text x="361.8" y="197.3" font-size="9.9" text-anchor="middle" fill="#1a1a1a">8</text>
<text x="593.8" y="199.7" font-size="9.8" text-anchor="start" fill="#1a1a1a" textLength="29.6" lengthAdjust="spacingAndGlyphs">4.8 mV</text>
<text x="361.8" y="219.5" font-size="9.9" text-anchor="middle" fill="#1a1a1a">9</text>
<text x="593.8" y="221.8" font-size="9.8" text-anchor="start" fill="#1a1a1a" textLength="29.6" lengthAdjust="spacingAndGlyphs">5.0 mV</text>
<line x1="478.7" y1="42.3" x2="486.2" y2="211" stroke="#111" stroke-width="1.4"/>
<polygon points="486.3,212.5 483.3,206.7 486.2,209.6 488.8,206.5" fill="#111"/>
<text x="340.2" y="52.7" font-size="13.2" text-anchor="start" fill="#1a1a1a">B</text>
<rect x="371.3" y="473.7" width="217.8" height="199.9" fill="#fff" stroke="#5b4a45" stroke-width="1.8"/>
<g clip-path="url(#tc473)">
<polyline points="372.3,484.9 373,485 373.7,484.8 374.4,484.6 375.1,484.4 375.8,484.4 376.5,484.4 377.2,484.5 377.9,484.5 378.6,484.5 379.3,484.4 380,484.1 380.7,483.8 381.4,483.3 382.1,483 382.8,483 383.5,483.3 384.2,483.6 384.9,483.9 385.6,483.8 386.3,483.5 387,483.3 387.7,483.2 388.4,483.2 389.1,483.1 389.8,483.1 390.5,482.8 391.2,482.7 391.9,482.7 392.6,482.7 393.3,482.7 394,482.6 394.7,482.7 395.4,482.8 396.1,482.9 396.8,483.4 397.5,483.3 398.2,483.5 398.9,483.2 399.6,483.2 400.3,483.2 401,483.1 401.7,483.1 402.4,483.1 403.1,483.2 403.8,482.8 404.5,482.6 405.2,482.4 405.9,482.5 406.6,480.3 407.3,475.6 408,483 408.7,494.4 409.4,489.3 410.1,486.1 410.8,486.4 411.5,483.7 412.2,482.2 412.9,483.2 413.6,484.7 414.3,484.5 415,483.5 415.7,483.4 416.4,484.4 417.1,485.1 417.8,485 418.5,484.6 419.2,484.9 419.9,484.9 420.6,484.7 421.3,484.3 422,483.9 422.7,483.7 423.4,483.4 424.1,483.2 424.8,483.4 425.5,483.5 426.2,483.8 426.9,483.8 427.6,484.1 428.3,484.4 429,484.7 429.7,484.8 430.4,484.6 431.1,484.5 431.8,484.1 432.5,483.7 433.2,483.2 433.9,483.2 434.6,483.4 435.3,483.5 436,483.5 436.7,483.6 437.4,483.5 438.1,483.6 438.8,483.6 439.5,483.6 440.2,483.4 440.9,483.1 441.6,482.8 442.3,482.6 443,482.5 443.7,482.6 444.4,482.5 445.1,482.5 445.8,482.5 446.5,482.5 447.2,482.4 447.9,482.7 448.6,483 449.3,483.5 450,483.7 450.7,483.9 451.4,483.9 452.1,483.8 452.8,483.6 453.5,483.3 454.2,483 454.9,482.7 455.6,482.1 456.3,482.1 457,481.8 457.7,478.5 458.4,476.5 459.1,486.5 459.8,495.2 460.5,488 461.2,487.6 461.9,487 462.6,484.4 463.3,483.7 464,485 464.7,486 465.4,485.4 466.1,484.4 466.8,484.4 467.5,485.1 468.2,485.2 468.9,484.7 469.6,484.4 470.3,484.5 471,484.6 471.7,484.5 472.4,484.7 473.1,484.7 473.8,484.9 474.5,484.5 475.2,484.5 475.9,484.2 476.6,484.1 477.3,483.9 478,484 478.7,484.1 479.4,484 480.1,483.9 480.8,484 481.5,484.1 482.2,484.2 482.9,484.3 483.6,484.3 484.3,484.5 485,484.2 485.7,484.1 486.4,483.9 487.1,483.8 487.8,483.4 488.5,483.5 489.2,483.8 489.9,484 490.6,483.8 491.3,483.5 492,483.1 492.7,483 493.4,483.1 494.1,483.1 494.8,483 495.5,483.3 496.2,483.4 496.9,483.4 497.6,483.2 498.3,483.4 499,483.8 499.7,484.1 500.4,484.2 501.1,484.2 501.8,484.2 502.5,484.2 503.2,484.2 503.9,484.2 504.6,484.2 505.3,483.7 506,483.4 506.7,482.9 507.4,478.6 508.1,478.5 508.8,491.3 509.5,495.3 510.2,487.8 510.9,488.6 511.6,487.2 512.3,484.5 513,483.8 513.7,485 514.4,485.7 515.1,484.7 515.8,483.7 516.5,483.5 517.2,484 517.9,484.2 518.6,484 519.3,483.9 520,484.1 520.7,484.4 521.4,484.5 522.1,484.3 522.8,484.1 523.5,484.2 524.2,484.1 524.9,484.2 525.6,484.2 526.3,484.4 527,484.4 527.7,484.4 528.4,483.9 529.1,483.9 529.8,483.8 530.5,484.1 531.2,483.9 531.9,484 532.6,484 533.3,484.1 534,484.1 534.7,484.1 535.4,484.3 536.1,483.9 536.8,483.9 537.5,483.8 538.2,483.9 538.9,483.7 539.6,483.7 540.3,483.7 541,483.8 541.7,483.6 542.4,483.4 543.1,483.3 543.8,483.3 544.5,483.5 545.2,483.5 545.9,483.7 546.6,483.7 547.3,483.6 548,483.3 548.7,483.2 549.4,483 550.1,482.9 550.8,482.8 551.5,482.8 552.2,482.9 552.9,483 553.6,482.9 554.3,482.8 555,482.7 555.7,481.2 556.4,476.2 557.1,482.1 557.8,494.9 558.5,491.6 559.2,487.2 559.9,487.9 560.6,485.6 561.3,483.9 562,484.7 562.7,486 563.4,485.6 564.1,484.4 564.8,483.8 565.5,484.6 566.2,485.2 566.9,485.1 567.6,484.7 568.3,484.7 569,485.1 569.7,484.9 570.4,484.8 571.1,484.5 571.8,484.7 572.5,484.7 573.2,484.7 573.9,484.7 574.6,484.8 575.3,484.5 576,484.3 576.7,484 577.4,484.1 578.1,483.9 578.8,483.8 579.5,483.8 580.2,483.8 580.9,483.8 581.6,483.8 582.3,483.6 583,483.5 583.7,483.2 584.4,483.3 585.1,483.3 585.8,483.3 586.5,483.3 587.2,483.2 587.9,483.1" fill="none" stroke="#1a1a1a" stroke-width="0.8" stroke-linejoin="round"/>
<polyline points="372.3,505 373,505.2 373.7,505.3 374.4,505.2 375.1,504.9 375.8,504.6 376.5,504.4 377.2,504.7 377.9,504.8 378.6,504.8 379.3,504.3 380,504.1 380.7,503.8 381.4,503.7 382.1,503.5 382.8,503.4 383.5,502.9 384.2,502.8 384.9,502.7 385.6,502.9 386.3,502.7 387,502.5 387.7,502.3 388.4,502.7 389.1,503 389.8,503.2 390.5,503.1 391.2,503.1 391.9,503.3 392.6,503.5 393.3,503.7 394,503.9 394.7,503.9 395.4,503.9 396.1,503.8 396.8,503.9 397.5,503.9 398.2,503.9 398.9,503.9 399.6,504 400.3,504 401,504.1 401.7,503.7 402.4,503.7 403.1,503.6 403.8,504.1 404.5,504.6 405.2,505.1 405.9,505.3 406.6,505.4 407.3,505.3 408,505.4 408.7,505.1 409.4,504.8 410.1,503.8 410.8,503.4 411.5,506.2 412.2,508.5 412.9,506.4 413.6,506.4 414.3,506.3 415,505.7 415.7,505.1 416.4,505.2 417.1,505 417.8,504.8 418.5,504.3 419.2,504.4 419.9,504.6 420.6,504.7 421.3,504.7 422,504.9 422.7,505 423.4,505 424.1,504.8 424.8,504.5 425.5,504.4 426.2,504.2 426.9,504.4 427.6,503.9 428.3,503.4 429,502.7 429.7,502.4 430.4,502.2 431.1,502.1 431.8,502.2 432.5,502.3 433.2,502.6 433.9,502.8 434.6,503 435.3,502.8 436,502.7 436.7,502.8 437.4,503 438.1,503.2 438.8,503.4 439.5,503.7 440.2,504 440.9,504.1 441.6,504.3 442.3,504.1 443,503.7 443.7,503.5 444.4,503.5 445.1,503.6 445.8,503.8 446.5,504.1 447.2,504.2 447.9,504.1 448.6,503.7 449.3,503.4 450,503 450.7,503.2 451.4,503.2 452.1,503.5 452.8,503.8 453.5,504.4 454.2,504.7 454.9,505.1 455.6,505.3 456.3,505.5 457,505.9 457.7,506.2 458.4,506.4 459.1,506.2 459.8,506 460.5,505.9 461.2,505.3 461.9,504.3 462.6,506.2 463.3,509 464,507.2 464.7,506.1 465.4,506.2 466.1,505.5 466.8,505.1 467.5,505.2 468.2,505.4 468.9,505.4 469.6,505.2 470.3,505.3 471,505.2 471.7,505 472.4,504.8 473.1,504.6 473.8,504.5 474.5,504.2 475.2,504.1 475.9,504.1 476.6,504.2 477.3,504.2 478,504.2 478.7,504.1 479.4,503.8 480.1,503.4 480.8,503.2 481.5,503 482.2,503.1 482.9,503.1 483.6,502.9 484.3,502.9 485,503 485.7,503.1 486.4,503.1 487.1,503.1 487.8,503 488.5,502.8 489.2,502.6 489.9,503 490.6,503.3 491.3,503.9 492,504 492.7,504 493.4,503.9 494.1,504 494.8,503.9 495.5,503.9 496.2,503.6 496.9,503.7 497.6,503.9 498.3,504.1 499,504.5 499.7,504.4 500.4,504.3 501.1,504 501.8,504.2 502.5,504.4 503.2,504.8 503.9,504.8 504.6,505.1 505.3,505.1 506,505.3 506.7,505.3 507.4,505.2 508.1,505.2 508.8,505.5 509.5,505.9 510.2,506 510.9,505.5 511.6,504.4 512.3,506 513,508.4 513.7,506.2 514.4,504.8 515.1,504.7 515.8,504.2 516.5,503.8 517.2,504.1 517.9,504.7 518.6,504.9 519.3,505.1 520,505 520.7,505 521.4,504.7 522.1,504.4 522.8,504.3 523.5,504.3 524.2,504.4 524.9,504.2 525.6,503.7 526.3,503.5 527,503.3 527.7,503.3 528.4,503.1 529.1,503.3 529.8,503.3 530.5,503.3 531.2,503.3 531.9,503.3 532.6,503.2 533.3,503.1 534,503.2 534.7,503.3 535.4,503.1 536.1,502.9 536.8,502.9 537.5,503.1 538.2,503.1 538.9,502.8 539.6,502.8 540.3,503 541,503.4 541.7,503.7 542.4,503.8 543.1,503.9 543.8,503.9 544.5,503.8 545.2,503.7 545.9,503.7 546.6,504 547.3,504.1 548,504.2 548.7,504.3 549.4,504.4 550.1,504.6 550.8,504.9 551.5,505.1 552.2,505.2 552.9,505.2 553.6,505.2 554.3,505.1 555,505 555.7,505.1 556.4,505.4 557.1,505.9 557.8,506.3 558.5,506.2 559.2,505 559.9,505.4 560.6,508.4 561.3,508.8 562,506.1 562.7,506.1 563.4,505.8 564.1,505.5 564.8,505.4 565.5,505.3 566.2,504.9 566.9,504.7 567.6,504.8 568.3,505 569,505.1 569.7,504.8 570.4,504.5 571.1,504.2 571.8,503.9 572.5,503.8 573.2,503.6 573.9,503.7 574.6,503.3 575.3,503.3 576,503 576.7,503.3 577.4,503.3 578.1,503.5 578.8,503.6 579.5,503.9 580.2,504 580.9,503.9 581.6,503.7 582.3,503.3 583,502.8 583.7,502.7 584.4,502.8 585.1,502.9 585.8,503 586.5,503.2 587.2,503.6 587.9,503.9" fill="none" stroke="#1a1a1a" stroke-width="0.8" stroke-linejoin="round"/>
<polyline points="372.3,523.9 373,524.2 373.7,524.4 374.4,524.2 375.1,523.9 375.8,523.8 376.5,524.3 377.2,525.2 377.9,526.4 378.6,527.3 379.3,527.9 380,527.8 380.7,527.4 381.4,527.4 382.1,528 382.8,528.7 383.5,529.5 384.2,529.9 384.9,530 385.6,528.7 386.3,531.9 387,550.3 387.7,544.3 388.4,536.4 389.1,540.2 389.8,542.2 390.5,532.5 391.2,530.8 391.9,530.7 392.6,529.7 393.3,528.4 394,527.5 394.7,527 395.4,526.9 396.1,526.6 396.8,526.3 397.5,525.9 398.2,525.6 398.9,525.3 399.6,524.7 400.3,524.3 401,523.9 401.7,523.5 402.4,522.9 403.1,522.5 403.8,522.2 404.5,522.2 405.2,522 405.9,521.8 406.6,521.6 407.3,521.7 408,521.8 408.7,522 409.4,522 410.1,521.7 410.8,521.1 411.5,520.7 412.2,520.7 412.9,520.8 413.6,521.1 414.3,521.5 415,521.6 415.7,521.6 416.4,521.2 417.1,521 417.8,521 418.5,520.9 419.2,521.1 419.9,521.3 420.6,521.9 421.3,522.4 422,523.1 422.7,523.4 423.4,523.9 424.1,524.2 424.8,525.1 425.5,525.3 426.2,525.7 426.9,525.7 427.6,526.4 428.3,526.5 429,526.5 429.7,526.3 430.4,526.4 431.1,526.7 431.8,527.1 432.5,527.5 433.2,528.1 433.9,528.9 434.6,529.6 435.3,529.5 436,528.8 436.7,535.1 437.4,551.2 438.1,541.5 438.8,537.3 439.5,543.4 440.2,539.9 440.9,532.2 441.6,531.4 442.3,530.7 443,529.4 443.7,527.9 444.4,527.1 445.1,527.1 445.8,527.2 446.5,527 447.2,526.6 447.9,526.2 448.6,525.9 449.3,525.4 450,524.8 450.7,524.3 451.4,524.2 452.1,524.2 452.8,524.5 453.5,524.3 454.2,523.9 454.9,523.1 455.6,522.4 456.3,521.7 457,521.4 457.7,521.4 458.4,521.8 459.1,522.1 459.8,522.1 460.5,521.8 461.2,521.3 461.9,520.9 462.6,520.8 463.3,520.7 464,520.8 464.7,520.6 465.4,520.6 466.1,520.5 466.8,520.8 467.5,521.1 468.2,521.3 468.9,521 469.6,521 470.3,521.2 471,521.9 471.7,522.8 472.4,523.4 473.1,524 473.8,524.2 474.5,524.6 475.2,525.4 475.9,525.9 476.6,526.6 477.3,527.1 478,528.2 478.7,529 479.4,529.2 480.1,528.9 480.8,528.4 481.5,528.4 482.2,528.7 482.9,528.8 483.6,529.1 484.3,529 485,528.7 485.7,528.9 486.4,536.9 487.1,551.8 487.8,541.5 488.5,538.9 489.2,545.2 489.9,538.1 490.6,531.6 491.3,531.1 492,530.6 492.7,529.3 493.4,528.1 494.1,527.5 494.8,527.3 495.5,527 496.2,526.6 496.9,526.5 497.6,526.5 498.3,526.2 499,525.6 499.7,525 500.4,524.8 501.1,524.7 501.8,524.5 502.5,524.4 503.2,524.5 503.9,524.5 504.6,524 505.3,523.5 506,523 506.7,522.5 507.4,522.1 508.1,521.8 508.8,521.8 509.5,521.3 510.2,520.9 510.9,520.5 511.6,520.5 512.3,520.5 513,520.4 513.7,520.4 514.4,520.2 515.1,520.5 515.8,520.8 516.5,521.4 517.2,521.9 517.9,522.2 518.6,522.3 519.3,522.4 520,522.6 520.7,523 521.4,523 522.1,522.9 522.8,522.8 523.5,523.2 524.2,523.7 524.9,524.5 525.6,524.8 526.3,525 527,524.6 527.7,524.4 528.4,524.7 529.1,525.2 529.8,525.6 530.5,525.8 531.2,526.1 531.9,526.4 532.6,527.1 533.3,528.1 534,529 534.7,529.5 535.4,528.9 536.1,528.4 536.8,534.8 537.5,551.9 538.2,542.2 538.9,537.9 539.6,543.4 540.3,539.2 541,531 541.7,530.1 542.4,529.6 543.1,528.6 543.8,527.5 544.5,527.1 545.2,526.8 545.9,526.6 546.6,526.1 547.3,526.1 548,526.2 548.7,526.5 549.4,526.1 550.1,525.8 550.8,525.4 551.5,525.4 552.2,525.1 552.9,524.8 553.6,524.5 554.3,524 555,523.6 555.7,523.2 556.4,522.8 557.1,522.4 557.8,521.7 558.5,521.1 559.2,521 559.9,520.7 560.6,520.8 561.3,520.5 562,520.9 562.7,521.1 563.4,521.1 564.1,520.6 564.8,520.4 565.5,520.4 566.2,520.6 566.9,520.7 567.6,520.7 568.3,521 569,521.4 569.7,521.6 570.4,521.6 571.1,521.4 571.8,521.5 572.5,522.1 573.2,523 573.9,523.9 574.6,524.6 575.3,525.2 576,525.5 576.7,525.7 577.4,525.4 578.1,524.9 578.8,524.5 579.5,524.3 580.2,524.5 580.9,524.6 581.6,525.5 582.3,526.4 583,527.8 583.7,528.3 584.4,528.9 585.1,528.6 585.8,527.5 586.5,529.9 587.2,548.9 587.9,545.9" fill="none" stroke="#1a1a1a" stroke-width="0.8" stroke-linejoin="round"/>
<polyline points="372.3,544.2 373,544.4 373.7,544.5 374.4,545.2 375.1,545.7 375.8,546.3 376.5,546.1 377.2,545.9 377.9,545.6 378.6,545.6 379.3,545.6 380,546.2 380.7,546.7 381.4,545.7 382.1,546.3 382.8,561.6 383.5,563.7 384.2,554.9 384.9,553.4 385.6,557.3 386.3,551.1 387,547.8 387.7,547.9 388.4,547.6 389.1,546.5 389.8,545.5 390.5,544.9 391.2,545.2 391.9,545.6 392.6,546.1 393.3,546.2 394,546.1 394.7,545.7 395.4,545.3 396.1,544.9 396.8,544.2 397.5,543.6 398.2,542.9 398.9,542.5 399.6,542.4 400.3,542.1 401,542.1 401.7,542 402.4,542.2 403.1,542.3 403.8,542.3 404.5,542.3 405.2,542.2 405.9,542.4 406.6,542.5 407.3,542.6 408,542.7 408.7,542.5 409.4,542.2 410.1,541.7 410.8,541.3 411.5,541 412.2,540.6 412.9,540.6 413.6,540.6 414.3,540.9 415,541.1 415.7,541.1 416.4,541 417.1,541.1 417.8,541.4 418.5,541.6 419.2,541.7 419.9,541.4 420.6,541.3 421.3,541.4 422,542.1 422.7,543.5 423.4,544.5 424.1,545.5 424.8,545.7 425.5,545.9 426.2,545.7 426.9,545.2 427.6,544.9 428.3,544.5 429,544.7 429.7,545.2 430.4,545.8 431.1,546.3 431.8,546.5 432.5,545.1 433.2,545.5 433.9,560.8 434.6,563.2 435.3,554.8 436,553.8 436.7,558 437.4,552.1 438.1,548.8 438.8,548.5 439.5,547.9 440.2,547.1 440.9,546.6 441.6,546.5 442.3,546.3 443,545.7 443.7,545.2 444.4,544.6 445.1,544.3 445.8,543.9 446.5,543.6 447.2,543.1 447.9,542.9 448.6,542.7 449.3,542.6 450,542.6 450.7,542.6 451.4,542.7 452.1,542.8 452.8,542.7 453.5,542.5 454.2,542.2 454.9,542 455.6,541.7 456.3,541.7 457,541.3 457.7,541.2 458.4,540.8 459.1,541.1 459.8,541.2 460.5,541.4 461.2,541.3 461.9,541.3 462.6,541.2 463.3,541.3 464,541.1 464.7,541.3 465.4,541.4 466.1,541.4 466.8,541.3 467.5,541.1 468.2,541.2 468.9,541.3 469.6,541.3 470.3,541.7 471,542 471.7,542.2 472.4,542.2 473.1,542.2 473.8,542.6 474.5,542.9 475.2,543 475.9,543.2 476.6,543.6 477.3,544.3 478,544.8 478.7,545.3 479.4,545.3 480.1,545.8 480.8,546.4 481.5,546.6 482.2,544.9 482.9,546.3 483.6,561.9 484.3,562.2 485,554 485.7,554.6 486.4,558 487.1,551.1 487.8,548.7 488.5,548.7 489.2,548.3 489.9,547.3 490.6,546.5 491.3,546.3 492,546.2 492.7,546 493.4,545.8 494.1,546 494.8,546.1 495.5,546.2 496.2,545.9 496.9,545.3 497.6,544.3 498.3,543.5 499,543.2 499.7,543.5 500.4,543.9 501.1,544.5 501.8,544.7 502.5,545.2 503.2,545.3 503.9,545.2 504.6,544.6 505.3,544.1 506,543.6 506.7,543 507.4,542.1 508.1,541.5 508.8,541.3 509.5,541.3 510.2,541.3 510.9,541.2 511.6,541 512.3,540.5 513,540 513.7,539.6 514.4,539.3 515.1,539.4 515.8,539.3 516.5,539.6 517.2,539.8 517.9,540 518.6,540.5 519.3,541.1 520,542 520.7,542.6 521.4,542.8 522.1,543.2 522.8,543.9 523.5,544.6 524.2,545 524.9,545 525.6,544.9 526.3,544.8 527,544.7 527.7,545 528.4,545.7 529.1,546.7 529.8,547.3 530.5,547.4 531.2,547.2 531.9,546.4 532.6,544.2 533.3,546.9 534,562.6 534.7,560.3 535.4,553.4 536.1,555.2 536.8,558 537.5,550.6 538.2,548.5 538.9,548.2 539.6,547.5 540.3,546.4 541,545.5 541.7,545.5 542.4,546 543.1,546.5 543.8,546.4 544.5,545.8 545.2,545.3 545.9,545.1 546.6,545.1 547.3,544.5 548,543.9 548.7,542.8 549.4,542 550.1,541.3 550.8,541 551.5,540.6 552.2,540.4 552.9,540.5 553.6,540.8 554.3,541.1 555,541.2 555.7,541.3 556.4,541.4 557.1,541.5 557.8,541.8 558.5,542 559.2,542.1 559.9,541.8 560.6,541.5 561.3,541.1 562,541.2 562.7,541.2 563.4,541.6 564.1,541.8 564.8,542.1 565.5,542.1 566.2,541.8 566.9,541.6 567.6,541.7 568.3,542.1 569,542.2 569.7,542.1 570.4,541.9 571.1,542.1 571.8,542.5 572.5,543 573.2,543.4 573.9,543.5 574.6,543.5 575.3,543.4 576,543.3 576.7,543.6 577.4,544 578.1,544.7 578.8,545.2 579.5,545.8 580.2,546.1 580.9,546.6 581.6,546.7 582.3,545.8 583,545.4 583.7,552.7 584.4,564.6 585.1,556.4 585.8,554.4 586.5,558.1 587.2,553.3 587.9,548.6" fill="none" stroke="#1a1a1a" stroke-width="0.8" stroke-linejoin="round"/>
<polyline points="372.3,566.8 373,567.2 373.7,567.6 374.4,568 375.1,568.5 375.8,568.8 376.5,569.1 377.2,569.2 377.9,568.8 378.6,569.1 379.3,577.1 380,579 380.7,573.6 381.4,572.8 382.1,572 382.8,571 383.5,570.6 384.2,570.8 384.9,570.5 385.6,570 386.3,569.5 387,569.3 387.7,569.3 388.4,569.2 389.1,569 389.8,568.8 390.5,569.1 391.2,569.1 391.9,568.9 392.6,568.5 393.3,568 394,567.7 394.7,567.5 395.4,567.1 396.1,566.9 396.8,566.3 397.5,565.9 398.2,565.5 398.9,565.2 399.6,565.3 400.3,565.4 401,565.7 401.7,566 402.4,566.1 403.1,566.1 403.8,566.3 404.5,566.4 405.2,566.4 405.9,566 406.6,565.7 407.3,565.6 408,565.9 408.7,566.2 409.4,566.5 410.1,566.5 410.8,566.6 411.5,566.4 412.2,566.2 412.9,566.4 413.6,566.6 414.3,567.2 415,567.4 415.7,567.5 416.4,567.3 417.1,567.2 417.8,567.2 418.5,567.3 419.2,567.3 419.9,567.3 420.6,567.4 421.3,567.4 422,567.4 422.7,567.4 423.4,567.7 424.1,568.1 424.8,568.5 425.5,568.8 426.2,568.7 426.9,568.6 427.6,567.4 428.3,568.4 429,577 429.7,577.3 430.4,572.1 431.1,571.5 431.8,570.5 432.5,569.3 433.2,568.8 433.9,569.2 434.6,569.3 435.3,569.2 436,568.8 436.7,568.5 437.4,568.4 438.1,568.5 438.8,568.5 439.5,568.4 440.2,568.4 440.9,568.3 441.6,568.2 442.3,567.5 443,567.3 443.7,567 444.4,567.1 445.1,567.2 445.8,567.3 446.5,567.2 447.2,567 447.9,566.8 448.6,566.8 449.3,566.9 450,567 450.7,567.1 451.4,567 452.1,566.7 452.8,566.3 453.5,566 454.2,565.6 454.9,565.1 455.6,565.1 456.3,565.5 457,566 457.7,566.5 458.4,566.6 459.1,566.8 459.8,566.8 460.5,566.5 461.2,566.4 461.9,566.6 462.6,567.1 463.3,567.3 464,567 464.7,566.5 465.4,566.5 466.1,566.7 466.8,567 467.5,567.4 468.2,567.5 468.9,567.7 469.6,567.7 470.3,567.7 471,567.7 471.7,567.7 472.4,567.5 473.1,567.5 473.8,567.6 474.5,568.2 475.2,568.7 475.9,569 476.6,569.2 477.3,568.8 478,567.9 478.7,570.5 479.4,578.4 480.1,574.3 480.8,571.3 481.5,571.1 482.2,569.9 482.9,569.3 483.6,569 484.3,569.3 485,569.1 485.7,568.8 486.4,568.6 487.1,568.3 487.8,568.4 488.5,568.3 489.2,568 489.9,568 490.6,568.1 491.3,568.7 492,568.6 492.7,568.7 493.4,568.4 494.1,568.4 494.8,568.1 495.5,567.9 496.2,567.4 496.9,566.9 497.6,566.6 498.3,566.7 499,567 499.7,567.2 500.4,566.8 501.1,566.4 501.8,565.9 502.5,565.6 503.2,565.6 503.9,565.8 504.6,566.2 505.3,566.5 506,566.5 506.7,566.3 507.4,566.2 508.1,566.2 508.8,566.4 509.5,566.4 510.2,566.6 510.9,566.9 511.6,566.9 512.3,567 513,566.8 513.7,566.6 514.4,566.7 515.1,566.9 515.8,567.3 516.5,567.3 517.2,567.3 517.9,567.3 518.6,567.3 519.3,567.3 520,567.5 520.7,567.8 521.4,568.1 522.1,568 522.8,567.7 523.5,567.5 524.2,567.7 524.9,568 525.6,568.1 526.3,568.1 527,568.2 527.7,567.9 528.4,567.3 529.1,570.3 529.8,578.8 530.5,575.1 531.2,572.1 531.9,571.4 532.6,570.2 533.3,569.3 534,569.2 534.7,569 535.4,568.5 536.1,567.9 536.8,567.7 537.5,567.9 538.2,568.3 538.9,568.1 539.6,567.8 540.3,567.2 541,567.3 541.7,567.7 542.4,568 543.1,568.1 543.8,567.8 544.5,567.8 545.2,567.5 545.9,567.6 546.6,567.3 547.3,567.2 548,567.1 548.7,567.2 549.4,567.1 550.1,567.1 550.8,566.9 551.5,566.9 552.2,566.8 552.9,566.7 553.6,566.6 554.3,566.6 555,566.7 555.7,566.7 556.4,566.5 557.1,566.6 557.8,566.3 558.5,566.2 559.2,566 559.9,566.4 560.6,566.5 561.3,567 562,567.2 562.7,567.2 563.4,567 564.1,567 564.8,566.9 565.5,567 566.2,566.9 566.9,567.4 567.6,567.8 568.3,568.2 569,568.5 569.7,568.6 570.4,568.7 571.1,568.7 571.8,568.8 572.5,569 573.2,569.2 573.9,569.2 574.6,569.2 575.3,569.3 576,569.4 576.7,569.1 577.4,568 578.1,568.7 578.8,577.4 579.5,577.9 580.2,572.8 580.9,572.2 581.6,571.2 582.3,569.8 583,569.2 583.7,568.8 584.4,568.2 585.1,567.5 585.8,566.9 586.5,567 587.2,567.1 587.9,567.3" fill="none" stroke="#1a1a1a" stroke-width="0.8" stroke-linejoin="round"/>
<polyline points="372.3,589.1 373,586.9 373.7,579.2 374.4,586 375.1,604.4 375.8,601.5 376.5,597.5 377.2,597.8 377.9,595.6 378.6,594.4 379.3,595.1 380,596.4 380.7,596.1 381.4,595.4 382.1,595 382.8,595.5 383.5,596 384.2,595.9 384.9,595.7 385.6,595.6 386.3,595.5 387,595.2 387.7,594.8 388.4,594.4 389.1,594.3 389.8,594 390.5,593.9 391.2,593.6 391.9,593.2 392.6,592.7 393.3,592.4 394,592.5 394.7,592.7 395.4,593 396.1,593.1 396.8,593 397.5,592.9 398.2,593 398.9,593 399.6,592.8 400.3,592.5 401,592.3 401.7,592.2 402.4,591.9 403.1,591.8 403.8,591.6 404.5,591.6 405.2,591.3 405.9,591 406.6,590.4 407.3,590.1 408,589.6 408.7,589.5 409.4,589.6 410.1,589.7 410.8,589.8 411.5,590 412.2,589.9 412.9,590 413.6,589.8 414.3,589.9 415,590 415.7,589.9 416.4,590 417.1,589.9 417.8,589.9 418.5,589.7 419.2,589.6 419.9,589.4 420.6,589.1 421.3,589 422,588.9 422.7,586.3 423.4,578.3 424.1,585.1 424.8,604 425.5,601.4 426.2,597.8 426.9,598.4 427.6,596.9 428.3,595.6 429,596 429.7,597 430.4,596.8 431.1,595.7 431.8,595.1 432.5,595.3 433.2,595.4 433.9,595 434.6,594.7 435.3,594.8 436,595 436.7,595 437.4,594.9 438.1,594.8 438.8,594.7 439.5,594.6 440.2,594.5 440.9,594.3 441.6,593.8 442.3,593.1 443,592.7 443.7,592.5 444.4,592.5 445.1,592.5 445.8,592.5 446.5,592.4 447.2,592.4 447.9,592.3 448.6,592.3 449.3,592.4 450,592.3 450.7,592.4 451.4,592.4 452.1,592.6 452.8,592.3 453.5,592 454.2,591.7 454.9,592 455.6,592.1 456.3,592.2 457,591.9 457.7,592 458.4,592 459.1,592.1 459.8,592 460.5,591.9 461.2,591.6 461.9,591.4 462.6,590.7 463.3,590.5 464,590.2 464.7,590.2 465.4,590.1 466.1,590 466.8,590 467.5,590 468.2,589.9 468.9,589.7 469.6,589.6 470.3,589.2 471,589.2 471.7,589.1 472.4,589.1 473.1,588.5 473.8,583 474.5,579.6 475.2,590.7 475.9,605 476.6,599 477.3,598.3 478,597.6 478.7,595.3 479.4,594.7 480.1,595.6 480.8,596.3 481.5,595.9 482.2,595.3 482.9,595.3 483.6,595.4 484.3,595.4 485,595 485.7,594.7 486.4,594.6 487.1,594.5 487.8,594.4 488.5,594.2 489.2,594.2 489.9,594.2 490.6,594.3 491.3,594.6 492,594.8 492.7,594.9 493.4,594.5 494.1,594.5 494.8,594.3 495.5,594.5 496.2,594.3 496.9,594.3 497.6,594 498.3,593.8 499,593.7 499.7,593.3 500.4,593.1 501.1,592.4 501.8,592.3 502.5,592.1 503.2,592 503.9,591.8 504.6,591.9 505.3,592.2 506,592.2 506.7,592 507.4,591.9 508.1,591.9 508.8,591.6 509.5,591.3 510.2,591.2 510.9,591 511.6,590.6 512.3,590.3 513,590.5 513.7,590.8 514.4,590.7 515.1,590.6 515.8,590.2 516.5,589.9 517.2,589.6 517.9,589.5 518.6,589.3 519.3,589 520,588.9 520.7,589 521.4,588.9 522.1,589.1 522.8,589 523.5,588.9 524.2,583.6 524.9,579.9 525.6,590.7 526.3,605 527,599.7 527.7,599.6 528.4,599 529.1,596.8 529.8,595.7 530.5,596.2 531.2,596.5 531.9,596.1 532.6,595.5 533.3,595.3 534,595.6 534.7,595.5 535.4,595.1 536.1,594.5 536.8,594.3 537.5,594.5 538.2,594.2 538.9,594 539.6,593.6 540.3,593.5 541,593.6 541.7,593.5 542.4,593.4 543.1,593.2 543.8,593.1 544.5,593.1 545.2,593 545.9,593.1 546.6,592.9 547.3,593 548,592.8 548.7,592.8 549.4,592.3 550.1,592.2 550.8,592.1 551.5,592.2 552.2,592.1 552.9,592.1 553.6,591.8 554.3,591.4 555,591.2 555.7,591.3 556.4,591.4 557.1,591.2 557.8,591 558.5,590.6 559.2,590.3 559.9,590.1 560.6,590 561.3,589.9 562,589.8 562.7,589.8 563.4,589.9 564.1,590 564.8,589.8 565.5,589.8 566.2,589.3 566.9,589.5 567.6,589.5 568.3,589.8 569,589.6 569.7,589.2 570.4,589 571.1,588.6 571.8,588.2 572.5,588.1 573.2,586.7 573.9,579.5 574.6,584.1 575.3,604.1 576,603.2 576.7,598.3 577.4,598.5 578.1,596.7 578.8,594.9 579.5,595.2 580.2,596.4 580.9,596.5 581.6,595.8 582.3,595.2 583,595 583.7,594.8 584.4,594.4 585.1,594.3 585.8,594.3 586.5,594.4 587.2,594.2 587.9,593.9" fill="none" stroke="#1a1a1a" stroke-width="0.8" stroke-linejoin="round"/>
<polyline points="372.3,610.2 373,610 373.7,607.9 374.4,601.3 375.1,608.2 375.8,627.8 376.5,625.2 377.2,621.2 377.9,621.9 378.6,619.8 379.3,618.3 380,618.5 380.7,619.7 381.4,619.6 382.1,619.2 382.8,618.5 383.5,618.7 384.2,618.6 384.9,618.4 385.6,617.9 386.3,618 387,618.1 387.7,618.2 388.4,617.9 389.1,617.8 389.8,617.6 390.5,617.3 391.2,616.9 391.9,616.6 392.6,616.5 393.3,616.4 394,616.5 394.7,616.5 395.4,616.5 396.1,616.5 396.8,616.4 397.5,616.4 398.2,616.4 398.9,616.5 399.6,616.3 400.3,616.2 401,615.8 401.7,615.5 402.4,615 403.1,615 403.8,615.2 404.5,615.3 405.2,615.2 405.9,615.1 406.6,614.8 407.3,614.4 408,613.9 408.7,613.5 409.4,613.4 410.1,613.1 410.8,612.8 411.5,612.4 412.2,612.2 412.9,612.4 413.6,612.5 414.3,612.7 415,612.9 415.7,613.1 416.4,613.2 417.1,613.3 417.8,613.2 418.5,613 419.2,612.5 419.9,612.3 420.6,612.3 421.3,612.6 422,612.5 422.7,612.6 423.4,612.2 424.1,607 424.8,606.3 425.5,626.3 426.2,629.4 426.9,622.4 427.6,622.5 428.3,621.3 429,618.9 429.7,618.4 430.4,619.2 431.1,619.6 431.8,618.6 432.5,618 433.2,618.1 433.9,618.7 434.6,618.7 435.3,618.2 436,617.8 436.7,617.7 437.4,617.4 438.1,617.2 438.8,616.8 439.5,616.6 440.2,616.7 440.9,616.5 441.6,616.5 442.3,616.1 443,615.6 443.7,615.3 444.4,615 445.1,615.3 445.8,615.5 446.5,615.7 447.2,615.7 447.9,616 448.6,616.2 449.3,616.1 450,616 450.7,615.6 451.4,615.3 452.1,614.8 452.8,614.3 453.5,613.8 454.2,613.6 454.9,613.2 455.6,613 456.3,612.6 457,612.7 457.7,612.7 458.4,613.1 459.1,613.4 459.8,614 460.5,614 461.2,613.9 461.9,613.6 462.6,613.7 463.3,613.7 464,613.9 464.7,613.4 465.4,613.3 466.1,612.8 466.8,612.7 467.5,612.5 468.2,612.4 468.9,612.3 469.6,612.4 470.3,612.4 471,612.4 471.7,612.5 472.4,612.4 473.1,612.3 473.8,611.8 474.5,607.3 475.2,604.5 475.9,615.2 476.6,629.4 477.3,622.4 478,621.4 478.7,620.6 479.4,618.4 480.1,618 480.8,619.1 481.5,619.7 482.2,618.7 482.9,617.6 483.6,617.3 484.3,617.6 485,617.5 485.7,616.7 486.4,616.2 487.1,616.2 487.8,616.6 488.5,616.7 489.2,616.7 489.9,616.2 490.6,615.9 491.3,615.5 492,615.5 492.7,615.4 493.4,615.5 494.1,615.4 494.8,615.6 495.5,615.4 496.2,615.6 496.9,615.3 497.6,615.2 498.3,615.2 499,615.4 499.7,615.5 500.4,615.5 501.1,615.3 501.8,615.3 502.5,615.3 503.2,615.2 503.9,614.8 504.6,614.7 505.3,614.3 506,614.1 506.7,613.6 507.4,613.5 508.1,613.6 508.8,613.8 509.5,614 510.2,613.8 510.9,613.6 511.6,613.3 512.3,613.3 513,613.4 513.7,613.3 514.4,613.3 515.1,612.9 515.8,612.7 516.5,612.4 517.2,612.6 517.9,612.7 518.6,612.9 519.3,612.8 520,612.7 520.7,612.2 521.4,611.7 522.1,611.4 522.8,611.5 523.5,611.6 524.2,611.7 524.9,607.9 525.6,603.3 526.3,613.2 527,629.9 527.7,624.5 528.4,623.1 529.1,622.9 529.8,620.3 530.5,619.1 531.2,619.6 531.9,619.7 532.6,618.8 533.3,617.5 534,617.5 534.7,617.8 535.4,618 536.1,617.6 536.8,617.3 537.5,617.6 538.2,618 538.9,618.2 539.6,617.9 540.3,617.3 541,616.6 541.7,616.4 542.4,616.3 543.1,616.5 543.8,616.2 544.5,616.1 545.2,616 545.9,616.2 546.6,616.1 547.3,615.9 548,615.6 548.7,615.5 549.4,615.6 550.1,616 550.8,616.5 551.5,616.7 552.2,616.7 552.9,616.5 553.6,616.5 554.3,616.3 555,616.3 555.7,615.8 556.4,615.6 557.1,615.2 557.8,615.2 558.5,614.9 559.2,614.6 559.9,614.2 560.6,614.3 561.3,614.2 562,613.9 562.7,613.5 563.4,612.9 564.1,612.5 564.8,612.5 565.5,612.6 566.2,613 566.9,613.2 567.6,613.2 568.3,613.1 569,612.6 569.7,612.5 570.4,612.5 571.1,612.4 571.8,612.1 572.5,611.7 573.2,611.4 573.9,610.9 574.6,605.4 575.3,604.8 576,624.9 576.7,627.7 577.4,620.4 578.1,620.4 578.8,619.4 579.5,617.5 580.2,617.4 580.9,618.7 581.6,619.3 582.3,618.8 583,617.9 583.7,617.8 584.4,617.5 585.1,617.1 585.8,616.5 586.5,616.4 587.2,616.6 587.9,616.8" fill="none" stroke="#1a1a1a" stroke-width="0.8" stroke-linejoin="round"/>
<polyline points="372.3,634.3 373,634 373.7,633.8 374.4,633.7 375.1,633.6 375.8,633.8 376.5,633.5 377.2,633.1 377.9,630.6 378.6,628.4 379.3,637.5 380,657.3 380.7,647.5 381.4,645.7 382.1,650.1 382.8,644.6 383.5,637.9 384.2,639.7 384.9,641.6 385.6,640.9 386.3,639.1 387,638.4 387.7,638.9 388.4,639 389.1,638.5 389.8,638.1 390.5,638.3 391.2,638.9 391.9,638.9 392.6,638.3 393.3,638.1 394,638 394.7,638.2 395.4,638.2 396.1,638.2 396.8,638.2 397.5,638 398.2,637.5 398.9,637 399.6,636.4 400.3,636.4 401,636.6 401.7,637 402.4,636.9 403.1,636.7 403.8,636.5 404.5,636.3 405.2,636.1 405.9,636.4 406.6,637 407.3,637.2 408,636.9 408.7,636.5 409.4,635.9 410.1,635.4 410.8,634.9 411.5,634.6 412.2,634.3 412.9,634 413.6,633.9 414.3,633.8 415,633.8 415.7,633.7 416.4,633.5 417.1,633.3 417.8,632.9 418.5,633.2 419.2,633.4 419.9,633.8 420.6,633.9 421.3,633.6 422,633.4 422.7,632.8 423.4,632.5 424.1,632.4 424.8,632.6 425.5,633 426.2,632.8 426.9,632.6 427.6,631.7 428.3,628.3 429,634.1 429.7,655.8 430.4,651 431.1,644.2 431.8,648.4 432.5,646.7 433.2,637.4 433.9,637.8 434.6,640.1 435.3,640.2 436,638.4 436.7,637.7 437.4,638.3 438.1,638.7 438.8,638.4 439.5,637.9 440.2,638.4 440.9,639 441.6,639.1 442.3,638.6 443,637.9 443.7,637.5 444.4,637 445.1,636.8 445.8,636.7 446.5,636.8 447.2,636.6 447.9,636.4 448.6,635.8 449.3,635.2 450,635 450.7,634.7 451.4,634.5 452.1,634.2 452.8,634.3 453.5,634.7 454.2,635.3 454.9,635.7 455.6,635.9 456.3,635.5 457,635.2 457.7,635.2 458.4,634.9 459.1,634.8 459.8,634.6 460.5,634.8 461.2,634.8 461.9,634.7 462.6,634.7 463.3,634.8 464,634.5 464.7,634 465.4,633.6 466.1,633.4 466.8,633.6 467.5,634.1 468.2,634.5 468.9,634.8 469.6,634.7 470.3,634.6 471,634.8 471.7,634.9 472.4,634.9 473.1,634.8 473.8,634.4 474.5,634.1 475.2,633.5 475.9,633 476.6,632.8 477.3,632.7 478,632.8 478.7,630.6 479.4,628.1 480.1,636.7 480.8,655.8 481.5,645.9 482.2,644.2 482.9,649.8 483.6,645.4 484.3,639.4 485,640.9 485.7,642.3 486.4,641.3 487.1,639.5 487.8,638.6 488.5,639.2 489.2,639.6 489.9,639.4 490.6,639.4 491.3,639.6 492,640 492.7,639.5 493.4,639.6 494.1,639.7 494.8,640.3 495.5,640.4 496.2,640.6 496.9,640.9 497.6,641 498.3,641.1 499,640.4 499.7,639.8 500.4,638.9 501.1,638.1 501.8,637.8 502.5,638.2 503.2,638.8 503.9,638.6 504.6,638.1 505.3,637.1 506,636.2 506.7,635.2 507.4,634.6 508.1,634.8 508.8,635 509.5,635.3 510.2,635.3 510.9,635.5 511.6,636.3 512.3,636.7 513,637 513.7,636.8 514.4,636.5 515.1,636 515.8,635.7 516.5,635.6 517.2,635.5 517.9,635.6 518.6,635.2 519.3,634.6 520,634 520.7,633.8 521.4,633.7 522.1,633.3 522.8,632.9 523.5,632.8 524.2,632.8 524.9,632.7 525.6,632.7 526.3,633 527,633.6 527.7,633.5 528.4,631.7 529.1,629.1 529.8,638 530.5,657.1 531.2,647 531.9,644.8 532.6,649.5 533.3,644.2 534,637.9 534.7,639.7 535.4,641.4 536.1,640.5 536.8,638.8 537.5,638.6 538.2,639.5 538.9,639.7 539.6,639.1 540.3,638.2 541,638.1 541.7,638.1 542.4,637.8 543.1,637.4 543.8,637.2 544.5,637.2 545.2,637.3 545.9,637.2 546.6,637.5 547.3,637.7 548,637.8 548.7,638 549.4,637.9 550.1,637.7 550.8,637.2 551.5,636.9 552.2,636.7 552.9,636.5 553.6,636.6 554.3,636.4 555,636.2 555.7,636 556.4,636 557.1,635.8 557.8,635.5 558.5,635.2 559.2,634.7 559.9,634.3 560.6,633.8 561.3,633.9 562,633.6 562.7,633.4 563.4,633.7 564.1,633.8 564.8,634 565.5,633.8 566.2,633.9 566.9,634.2 567.6,633.8 568.3,634 569,633.8 569.7,634.5 570.4,634.2 571.1,633.9 571.8,633.1 572.5,633.1 573.2,633.7 573.9,634.3 574.6,634.2 575.3,633.7 576,633.3 576.7,633.2 577.4,633.1 578.1,631.9 578.8,628.1 579.5,631.7 580.2,654 580.9,652.5 581.6,644 582.3,648.5 583,649.9 583.7,640.6 584.4,639.9 585.1,642.1 585.8,642.1 586.5,640.1 587.2,638.8 587.9,639.1" fill="none" stroke="#1a1a1a" stroke-width="0.8" stroke-linejoin="round"/>
<polyline points="372.3,656.4 373,656.6 373.7,656.9 374.4,657.2 375.1,657.2 375.8,657.2 376.5,657.2 377.2,657.1 377.9,657.1 378.6,657.4 379.3,657.8 380,658 380.7,656.8 381.4,654.4 382.1,659.7 382.8,667.6 383.5,662.5 384.2,661.9 384.9,665.2 385.6,660.9 386.3,656.3 387,657.2 387.7,658.3 388.4,658.4 389.1,657.6 389.8,658 390.5,658.7 391.2,659.3 391.9,659.1 392.6,658.8 393.3,658.9 394,659.1 394.7,659.1 395.4,658.8 396.1,658.5 396.8,658.4 397.5,658.3 398.2,658.1 398.9,658 399.6,657.8 400.3,657.6 401,657.2 401.7,657.3 402.4,657.1 403.1,657.4 403.8,657.8 404.5,658.2 405.2,658.3 405.9,658.1 406.6,657.9 407.3,657.7 408,657.2 408.7,656.8 409.4,656.9 410.1,656.9 410.8,657.4 411.5,657.4 412.2,657.4 412.9,657.3 413.6,657.3 414.3,657.4 415,657.6 415.7,657.3 416.4,657.1 417.1,656.5 417.8,656.2 418.5,656.3 419.2,656.9 419.9,657.4 420.6,657.7 421.3,657.7 422,657.6 422.7,657.6 423.4,657.6 424.1,657.9 424.8,657.8 425.5,657.9 426.2,657.5 426.9,657.3 427.6,657.1 428.3,657.5 429,657.7 429.7,657.7 430.4,657.5 431.1,657.1 431.8,654.3 432.5,655.3 433.2,665.4 433.9,666 434.6,660.2 435.3,663 436,664.6 436.7,658.3 437.4,657.3 438.1,659.3 438.8,659.9 439.5,659.1 440.2,658.3 440.9,658.7 441.6,659 442.3,658.9 443,658.2 443.7,658.1 444.4,658.1 445.1,658.5 445.8,658.2 446.5,658.3 447.2,658.3 447.9,658.4 448.6,658.1 449.3,657.7 450,657.6 450.7,658 451.4,658.6 452.1,658.9 452.8,658.9 453.5,658.5 454.2,657.8 454.9,657.2 455.6,656.9 456.3,656.9 457,657 457.7,657.2 458.4,657.6 459.1,657.9 459.8,657.9 460.5,657.8 461.2,657.7 461.9,657.6 462.6,657.4 463.3,657.2 464,657.1 464.7,657.4 465.4,657.8 466.1,658.3 466.8,658.3 467.5,658.3 468.2,658.1 468.9,658.1 469.6,658 470.3,657.9 471,657.6 471.7,657.1 472.4,657 473.1,656.6 473.8,656.4 474.5,656.1 475.2,655.6 475.9,655.3 476.6,655.3 477.3,656 478,657 478.7,657.6 479.4,657.8 480.1,657.7 480.8,657.5 481.5,657.3 482.2,656.2 482.9,653.4 483.6,657.2 484.3,667.9 485,665.4 485.7,662.1 486.4,665.1 487.1,664.5 487.8,658.6 488.5,659 489.2,660.5 489.9,660.7 490.6,659.5 491.3,658.7 492,658.7 492.7,659.1 493.4,658.7 494.1,658.1 494.8,657.5 495.5,657.6 496.2,658 496.9,658.2 497.6,658.3 498.3,658.6 499,659.1 499.7,659.2 500.4,659.1 501.1,659 501.8,659.2 502.5,659.2 503.2,659.4 503.9,659.1 504.6,659 505.3,658.7 506,658.7 506.7,658.7 507.4,658.6 508.1,658.2 508.8,658.1 509.5,657.9 510.2,657.8 510.9,657.9 511.6,658 512.3,658.2 513,658 513.7,657.7 514.4,657.2 515.1,657.1 515.8,657 516.5,657.1 517.2,657.4 517.9,657.8 518.6,658.5 519.3,658.8 520,659.4 520.7,659.2 521.4,659.1 522.1,658.6 522.8,658.4 523.5,658.1 524.2,657.9 524.9,657.6 525.6,657 526.3,656.3 527,656.2 527.7,656.5 528.4,656.8 529.1,657 529.8,657.1 530.5,657.4 531.2,657.3 531.9,656.6 532.6,653.4 533.3,656 534,666.8 534.7,665.9 535.4,661.1 536.1,664.1 536.8,664.8 537.5,658.6 538.2,657.9 538.9,659.4 539.6,659.6 540.3,658.7 541,658.2 541.7,658.9 542.4,659.6 543.1,659.3 543.8,658.4 544.5,658.3 545.2,658.5 545.9,658.6 546.6,658.1 547.3,657.5 548,657.4 548.7,657.7 549.4,657.9 550.1,657.8 550.8,657.8 551.5,657.6 552.2,657.4 552.9,657.4 553.6,657.4 554.3,657.7 555,657.8 555.7,657.9 556.4,657.9 557.1,657.6 557.8,657.3 558.5,657.2 559.2,657 559.9,656.7 560.6,656.7 561.3,656.9 562,657.1 562.7,657.4 563.4,657.6 564.1,658 564.8,658.2 565.5,658 566.2,657.8 566.9,657.4 567.6,657.4 568.3,657.1 569,657.1 569.7,657 570.4,656.8 571.1,656.8 571.8,656.7 572.5,656.5 573.2,656.1 573.9,655.8 574.6,655.8 575.3,655.9 576,655.9 576.7,655.9 577.4,656.3 578.1,656.7 578.8,657.1 579.5,657 580.2,657.2 580.9,654.9 581.6,653.7 582.3,660.1 583,667.4 583.7,661.8 584.4,662.8 585.1,666.4 585.8,661.5 586.5,657.9 587.2,658.6 587.9,659.3" fill="none" stroke="#1a1a1a" stroke-width="0.8" stroke-linejoin="round"/>
<ellipse cx="408.6" cy="488.9" rx="1.8" ry="1.2" fill="#e0251f"/>
<ellipse cx="459.5" cy="488.9" rx="1.8" ry="1.2" fill="#e0251f"/>
<ellipse cx="509.1" cy="488.9" rx="1.8" ry="1.2" fill="#e0251f"/>
<ellipse cx="557.8" cy="488.9" rx="1.8" ry="1.2" fill="#e0251f"/>
<ellipse cx="411.9" cy="506.2" rx="1.8" ry="1.2" fill="#e0251f"/>
<ellipse cx="463.2" cy="506.2" rx="1.8" ry="1.2" fill="#e0251f"/>
<ellipse cx="512.9" cy="506.2" rx="1.8" ry="1.2" fill="#e0251f"/>
<ellipse cx="560.8" cy="506.2" rx="1.8" ry="1.2" fill="#e0251f"/>
<ellipse cx="387" cy="537.5" rx="1.8" ry="1.2" fill="#e0251f"/>
<ellipse cx="437.2" cy="537.5" rx="1.8" ry="1.2" fill="#e0251f"/>
<ellipse cx="486.8" cy="537.5" rx="1.8" ry="1.2" fill="#e0251f"/>
<ellipse cx="537.3" cy="537.5" rx="1.8" ry="1.2" fill="#e0251f"/>
<ellipse cx="587.3" cy="537.5" rx="1.8" ry="1.2" fill="#e0251f"/>
<ellipse cx="383.1" cy="554" rx="1.8" ry="1.2" fill="#e0251f"/>
<ellipse cx="434.2" cy="554" rx="1.8" ry="1.2" fill="#e0251f"/>
<ellipse cx="483.8" cy="554" rx="1.8" ry="1.2" fill="#e0251f"/>
<ellipse cx="534.1" cy="554" rx="1.8" ry="1.2" fill="#e0251f"/>
<ellipse cx="584.1" cy="554" rx="1.8" ry="1.2" fill="#e0251f"/>
<ellipse cx="379.6" cy="574.5" rx="1.8" ry="1.2" fill="#e0251f"/>
<ellipse cx="429.2" cy="574.5" rx="1.8" ry="1.2" fill="#e0251f"/>
<ellipse cx="479.3" cy="574.5" rx="1.8" ry="1.2" fill="#e0251f"/>
<ellipse cx="529.7" cy="574.5" rx="1.8" ry="1.2" fill="#e0251f"/>
<ellipse cx="579" cy="574.5" rx="1.8" ry="1.2" fill="#e0251f"/>
<ellipse cx="375.1" cy="599" rx="1.8" ry="1.2" fill="#e0251f"/>
<ellipse cx="424.8" cy="599" rx="1.8" ry="1.2" fill="#e0251f"/>
<ellipse cx="475.6" cy="599" rx="1.8" ry="1.2" fill="#e0251f"/>
<ellipse cx="526" cy="599" rx="1.8" ry="1.2" fill="#e0251f"/>
<ellipse cx="575.4" cy="599" rx="1.8" ry="1.2" fill="#e0251f"/>
<ellipse cx="375.8" cy="625" rx="1.8" ry="1.2" fill="#e0251f"/>
<ellipse cx="425.8" cy="625" rx="1.8" ry="1.2" fill="#e0251f"/>
<ellipse cx="476.3" cy="625" rx="1.8" ry="1.2" fill="#e0251f"/>
<ellipse cx="526.8" cy="625" rx="1.8" ry="1.2" fill="#e0251f"/>
<ellipse cx="576.3" cy="625" rx="1.8" ry="1.2" fill="#e0251f"/>
<ellipse cx="379.8" cy="649" rx="1.8" ry="1.2" fill="#e0251f"/>
<ellipse cx="429.7" cy="649" rx="1.8" ry="1.2" fill="#e0251f"/>
<ellipse cx="480.6" cy="649" rx="1.8" ry="1.2" fill="#e0251f"/>
<ellipse cx="530.3" cy="649" rx="1.8" ry="1.2" fill="#e0251f"/>
<ellipse cx="580.3" cy="649" rx="1.8" ry="1.2" fill="#e0251f"/>
<ellipse cx="382.6" cy="662" rx="1.8" ry="1.2" fill="#e0251f"/>
<ellipse cx="433.4" cy="662" rx="1.8" ry="1.2" fill="#e0251f"/>
<ellipse cx="484.3" cy="662" rx="1.8" ry="1.2" fill="#e0251f"/>
<ellipse cx="534.1" cy="662" rx="1.8" ry="1.2" fill="#e0251f"/>
<ellipse cx="582.7" cy="662" rx="1.8" ry="1.2" fill="#e0251f"/>
</g>
<text x="361.8" y="488.7" font-size="9.9" text-anchor="middle" fill="#1a1a1a">1</text>
<text x="596.2" y="488" font-size="9.8" text-anchor="start" fill="#1a1a1a" textLength="29.6" lengthAdjust="spacingAndGlyphs">4.5 mV</text>
<text x="361.8" y="510.8" font-size="9.9" text-anchor="middle" fill="#1a1a1a">2</text>
<text x="596.2" y="510.1" font-size="9.8" text-anchor="start" fill="#1a1a1a" textLength="29.6" lengthAdjust="spacingAndGlyphs">3.6 mV</text>
<text x="361.8" y="532.8" font-size="9.9" text-anchor="middle" fill="#1a1a1a">3</text>
<text x="596.2" y="532.2" font-size="9.8" text-anchor="start" fill="#1a1a1a" textLength="29.6" lengthAdjust="spacingAndGlyphs">2.9 mV</text>
<text x="361.8" y="554.9" font-size="9.9" text-anchor="middle" fill="#1a1a1a">4</text>
<text x="596.2" y="554.1" font-size="9.8" text-anchor="start" fill="#1a1a1a" textLength="29.6" lengthAdjust="spacingAndGlyphs">2.3 mV</text>
<text x="361.8" y="576.9" font-size="9.9" text-anchor="middle" fill="#1a1a1a">5</text>
<text x="596.2" y="576.5" font-size="9.8" text-anchor="start" fill="#1a1a1a" textLength="29.6" lengthAdjust="spacingAndGlyphs">4.2 mV</text>
<text x="361.8" y="599" font-size="9.9" text-anchor="middle" fill="#1a1a1a">6</text>
<text x="596.2" y="598.7" font-size="9.8" text-anchor="start" fill="#1a1a1a" textLength="29.6" lengthAdjust="spacingAndGlyphs">3.3 mV</text>
<text x="361.8" y="621" font-size="9.9" text-anchor="middle" fill="#1a1a1a">7</text>
<text x="596.2" y="620.8" font-size="9.8" text-anchor="start" fill="#1a1a1a" textLength="29.6" lengthAdjust="spacingAndGlyphs">2.6 mV</text>
<text x="361.8" y="643" font-size="9.9" text-anchor="middle" fill="#1a1a1a">8</text>
<text x="596.2" y="642.7" font-size="9.8" text-anchor="start" fill="#1a1a1a" textLength="29.6" lengthAdjust="spacingAndGlyphs">4.5 mV</text>
<text x="361.8" y="665.1" font-size="9.9" text-anchor="middle" fill="#1a1a1a">9</text>
<text x="596.2" y="664.8" font-size="9.8" text-anchor="start" fill="#1a1a1a" textLength="29.6" lengthAdjust="spacingAndGlyphs">2.7 mV</text>
<line x1="446.3" y1="477.4" x2="457.5" y2="513.2" stroke="#111" stroke-width="1.4"/>
<polygon points="458,514.6 453.8,510 457.2,511.9 458.8,508.5" fill="#111"/>
<line x1="460.4" y1="589.9" x2="476.2" y2="532.2" stroke="#111" stroke-width="1.4"/>
<polygon points="476.6,530.8 477.6,536.9 475.9,533.5 472.6,535.5" fill="#111"/>
<line x1="458.5" y1="599.8" x2="471.3" y2="659.1" stroke="#111" stroke-width="1.4"/>
<polygon points="471.6,660.6 467.9,655.7 471,657.9 473,654.6" fill="#111"/>
<g stroke="#111" stroke-width="0.9">
<line x1="455.2" y1="518.6" x2="463.4" y2="515.8"/><line x1="455.8" y1="521" x2="464" y2="518.2"/>
<line x1="471" y1="522.6" x2="480" y2="523.4"/><line x1="470.8" y1="524.8" x2="479.8" y2="525.6"/><line x1="470.6" y1="527" x2="479.6" y2="527.8"/>
</g>
<text x="332.8" y="501.3" font-size="13.2" text-anchor="start" fill="#1a1a1a">G</text>
<rect x="522.1" y="686" width="86.5" height="2" fill="#111"/>
<text x="567" y="698.8" font-size="9.6" text-anchor="middle" fill="#1a1a1a">20 s</text>
<text x="141" y="271" font-size="13.2" text-anchor="middle" fill="#1a1a1a" textLength="139.6" lengthAdjust="spacingAndGlyphs">Slow wave propagation</text>
<text x="50.3" y="287.6" font-size="13" text-anchor="start" fill="#1a1a1a">C</text>
<g fill="#f08a86"><circle cx="66.9" cy="279" r="0.78"/><circle cx="76.7" cy="279" r="0.78"/><circle cx="86.5" cy="279" r="0.78"/><circle cx="96.3" cy="279" r="0.78"/><circle cx="106.1" cy="279" r="0.78"/><circle cx="115.9" cy="279" r="0.78"/><circle cx="125.7" cy="279" r="0.78"/><circle cx="135.5" cy="279" r="0.78"/><circle cx="66.9" cy="288.7" r="0.78"/><circle cx="76.7" cy="288.7" r="0.78"/><circle cx="86.5" cy="288.7" r="0.78"/><circle cx="96.3" cy="288.7" r="0.78"/><circle cx="106.1" cy="288.7" r="0.78"/><circle cx="115.9" cy="288.7" r="0.78"/><circle cx="125.7" cy="288.7" r="0.78"/><circle cx="135.5" cy="288.7" r="0.78"/><circle cx="66.9" cy="298.5" r="0.78"/><circle cx="76.7" cy="298.5" r="0.78"/><circle cx="86.5" cy="298.5" r="0.78"/><circle cx="96.3" cy="298.5" r="0.78"/><circle cx="106.1" cy="298.5" r="0.78"/><circle cx="115.9" cy="298.5" r="0.78"/><circle cx="125.7" cy="298.5" r="0.78"/><circle cx="66.9" cy="308.2" r="0.78"/><circle cx="76.7" cy="308.2" r="0.78"/><circle cx="86.5" cy="308.2" r="0.78"/><circle cx="96.3" cy="308.2" r="0.78"/><circle cx="106.1" cy="308.2" r="0.78"/><circle cx="115.9" cy="308.2" r="0.78"/><circle cx="125.7" cy="308.2" r="0.78"/><circle cx="66.9" cy="317.9" r="0.78"/><circle cx="76.7" cy="317.9" r="0.78"/><circle cx="86.5" cy="317.9" r="0.78"/><circle cx="96.3" cy="317.9" r="0.78"/><circle cx="106.1" cy="317.9" r="0.78"/><circle cx="115.9" cy="317.9" r="0.78"/><circle cx="66.9" cy="327.7" r="0.78"/><circle cx="76.7" cy="327.7" r="0.78"/><circle cx="86.5" cy="327.7" r="0.78"/><circle cx="96.3" cy="327.7" r="0.78"/><circle cx="106.1" cy="327.7" r="0.78"/><circle cx="66.9" cy="337.4" r="0.78"/><circle cx="76.7" cy="337.4" r="0.78"/><circle cx="86.5" cy="337.4" r="0.78"/><circle cx="96.3" cy="337.4" r="0.78"/><circle cx="66.9" cy="347.1" r="0.78"/><circle cx="76.7" cy="347.1" r="0.78"/><circle cx="86.5" cy="347.1" r="0.78"/><circle cx="66.9" cy="356.9" r="0.78"/><circle cx="76.7" cy="356.9" r="0.78"/><circle cx="66.9" cy="366.6" r="0.78"/><circle cx="76.7" cy="366.6" r="0.78"/><circle cx="66.9" cy="376.3" r="0.78"/><circle cx="66.9" cy="405.5" r="0.78"/><circle cx="66.9" cy="415.3" r="0.78"/><circle cx="76.7" cy="415.3" r="0.78"/><circle cx="66.9" cy="425" r="0.78"/><circle cx="76.7" cy="425" r="0.78"/><circle cx="86.5" cy="425" r="0.78"/></g>
<g clip-path="url(#cC)">
<polygon points="145.4,279 214.2,279 214.2,425.4 96.5,425.4 67,396 67,386.7 77.4,376.5 77.4,366 135.7,307.5 135.7,298.5 145.4,288.7" fill="#e1262a"/>
<polygon points="-20,294.7 135.9,298.7 145.4,303.4 159.3,305.9 168.8,307 177.6,308.5 184.9,307.8 193.6,310.2 198.7,307 204.3,301.2 208.9,306.3 214.2,312.9 260,312.9 260,480 -20,480" fill="#e8472a" stroke="#2a2a2a" stroke-width="0.35" stroke-linejoin="round"/>
<polygon points="-20,313.7 126.5,317.7 135.2,319.4 145.4,320.9 161.5,323.8 174.6,327.5 184.9,331.9 198,336.2 206.8,340.6 207.5,340 214.1,345.3 260,345.3 260,480 -20,480" fill="#f07f22" stroke="#2a2a2a" stroke-width="0.35" stroke-linejoin="round"/>
<polygon points="-20,318.4 121.4,322.4 125,324.1 130.8,327.5 135.9,331.1 145.4,332.6 155.7,336.2 161.5,338.4 162.8,340 174.7,346.6 185.2,354.5 195.7,362.3 203.6,370.2 208.8,376.8 214.1,380.7 260,380.7 260,480 -20,480" fill="#fbb41c" stroke="#2a2a2a" stroke-width="0.35" stroke-linejoin="round"/>
<polygon points="-20,324.7 114.5,328.7 120,333 126,337 132.6,340 137.9,343.9 147.1,347.9 156.3,354.5 164.2,359.7 173.4,366.3 182.6,375.5 187.8,383.4 194.4,391.2 199.6,397.8 204.2,405 214.1,398.5 260,398.5 260,480 -20,480" fill="#efe32d" stroke="#2a2a2a" stroke-width="0.35" stroke-linejoin="round"/>
<polygon points="-20,332.7 106.5,336.7 112,338.5 118,338 122.8,340 125.7,346.6 130,350.5 136.6,355.1 144.5,363 153.6,368.2 161.5,376.8 169.4,384 174.7,391.2 182.6,398.5 189.1,404.4 195.7,410.9 203.6,417.5 208.8,422.1 214.1,425.4 260,425.4 260,480 -20,480" fill="#b5d334" stroke="#2a2a2a" stroke-width="0.35" stroke-linejoin="round"/>
<polygon points="-20,342.2 97.2,346.2 106,346.5 115.5,347.3 118.4,354.6 125.7,359 130,362.3 135.3,368.2 143.1,375.5 149.7,383.4 158.9,391.2 166.8,397.8 173.4,404.4 182.6,413.6 187.8,421.5 193.1,425.4 193.1,480 -20,480" fill="#8dc863" stroke="#2a2a2a" stroke-width="0.35" stroke-linejoin="round"/>
<polygon points="-20,345.2 94.3,349.2 108.2,353.9 115.5,354.6 118.4,366.3 124.2,372.1 130,376.8 135.3,383.4 140.5,390.6 145.8,400.4 153.6,405.7 161.5,410.9 166.8,417.5 169.4,425.4 169.4,480 -20,480" fill="#72c5a4" stroke="#2a2a2a" stroke-width="0.35" stroke-linejoin="round"/>
<polygon points="-20,348.5 91,352.5 98,356 103.8,359 108.2,369.2 115.5,376.5 121.3,385.3 125.7,394 130,393.9 135.3,399.1 141.8,405.7 148.4,412.9 155,415.5 157.6,425.4 157.6,480 -20,480" fill="#6ccade" stroke="#2a2a2a" stroke-width="0.35" stroke-linejoin="round"/>
<polygon points="-20,353.5 86,357.5 95,358.2 99.4,366.3 103.8,373.6 109.6,383.8 115.5,391.1 121.3,401.3 130,408.3 136.6,413.6 141.8,417.5 145.8,425.4 145.8,480 -20,480" fill="#52a9db" stroke="#2a2a2a" stroke-width="0.35" stroke-linejoin="round"/>
<polygon points="-20,362.3 77.4,366.3 87,366.3 91.4,376.5 97.2,385.3 102.3,394 108.2,402.8 115.5,408.6 122.8,413 128.6,418.8 132.3,425.6 132.3,480 -20,480" fill="#4279be" stroke="#2a2a2a" stroke-width="0.35" stroke-linejoin="round"/>
<polygon points="-20,372.8 76.8,376.8 86.3,378 90.7,388.2 95,398.4 102.3,404.2 108.2,408.6 114,414.5 116.2,425.6 116.2,480 -20,480" fill="#3b55a5" stroke="#2a2a2a" stroke-width="0.35" stroke-linejoin="round"/>
<polygon points="-20,384.9 66.8,388.9 74.6,391.1 77.5,392.6 77.5,404.2 86.3,404.2 87.7,411.5 96.5,410.8 103.8,414.5 106,425.6 106,480 -20,480" fill="#394a9f" stroke="#2a2a2a" stroke-width="0.35" stroke-linejoin="round"/>
</g>
<g fill="#151515"><circle cx="145.3" cy="279" r="0.7"/><circle cx="155.1" cy="279" r="0.7"/><circle cx="164.9" cy="279" r="0.7"/><circle cx="174.7" cy="279" r="0.7"/><circle cx="184.5" cy="279" r="0.7"/><circle cx="194.3" cy="279" r="0.7"/><circle cx="204.1" cy="279" r="0.7"/><circle cx="213.9" cy="279" r="0.7"/><circle cx="145.3" cy="288.7" r="0.7"/><circle cx="155.1" cy="288.7" r="0.7"/><circle cx="164.9" cy="288.7" r="0.7"/><circle cx="174.7" cy="288.7" r="0.7"/><circle cx="184.5" cy="288.7" r="0.7"/><circle cx="194.3" cy="288.7" r="0.7"/><circle cx="204.1" cy="288.7" r="0.7"/><circle cx="213.9" cy="288.7" r="0.7"/><circle cx="135.5" cy="298.5" r="0.7"/><circle cx="145.3" cy="298.5" r="0.7"/><circle cx="155.1" cy="298.5" r="0.7"/><circle cx="164.9" cy="298.5" r="0.7"/><circle cx="174.7" cy="298.5" r="0.7"/><circle cx="184.5" cy="298.5" r="0.7"/><circle cx="194.3" cy="298.5" r="0.7"/><circle cx="204.1" cy="298.5" r="0.7"/><circle cx="213.9" cy="298.5" r="0.7"/><circle cx="135.5" cy="308.2" r="0.7"/><circle cx="145.3" cy="308.2" r="0.7"/><circle cx="155.1" cy="308.2" r="0.7"/><circle cx="164.9" cy="308.2" r="0.7"/><circle cx="174.7" cy="308.2" r="0.7"/><circle cx="184.5" cy="308.2" r="0.7"/><circle cx="194.3" cy="308.2" r="0.7"/><circle cx="204.1" cy="308.2" r="0.7"/><circle cx="213.9" cy="308.2" r="0.7"/><circle cx="125.7" cy="317.9" r="0.7"/><circle cx="135.5" cy="317.9" r="0.7"/><circle cx="145.3" cy="317.9" r="0.7"/><circle cx="155.1" cy="317.9" r="0.7"/><circle cx="164.9" cy="317.9" r="0.7"/><circle cx="174.7" cy="317.9" r="0.7"/><circle cx="184.5" cy="317.9" r="0.7"/><circle cx="194.3" cy="317.9" r="0.7"/><circle cx="204.1" cy="317.9" r="0.7"/><circle cx="213.9" cy="317.9" r="0.7"/><circle cx="115.9" cy="327.7" r="0.7"/><circle cx="125.7" cy="327.7" r="0.7"/><circle cx="135.5" cy="327.7" r="0.7"/><circle cx="145.3" cy="327.7" r="0.7"/><circle cx="155.1" cy="327.7" r="0.7"/><circle cx="164.9" cy="327.7" r="0.7"/><circle cx="174.7" cy="327.7" r="0.7"/><circle cx="184.5" cy="327.7" r="0.7"/><circle cx="194.3" cy="327.7" r="0.7"/><circle cx="204.1" cy="327.7" r="0.7"/><circle cx="213.9" cy="327.7" r="0.7"/><circle cx="106.1" cy="337.4" r="0.7"/><circle cx="115.9" cy="337.4" r="0.7"/><circle cx="125.7" cy="337.4" r="0.7"/><circle cx="135.5" cy="337.4" r="0.7"/><circle cx="145.3" cy="337.4" r="0.7"/><circle cx="155.1" cy="337.4" r="0.7"/><circle cx="164.9" cy="337.4" r="0.7"/><circle cx="174.7" cy="337.4" r="0.7"/><circle cx="184.5" cy="337.4" r="0.7"/><circle cx="194.3" cy="337.4" r="0.7"/><circle cx="204.1" cy="337.4" r="0.7"/><circle cx="213.9" cy="337.4" r="0.7"/><circle cx="96.3" cy="347.1" r="0.7"/><circle cx="106.1" cy="347.1" r="0.7"/><circle cx="115.9" cy="347.1" r="0.7"/><circle cx="125.7" cy="347.1" r="0.7"/><circle cx="135.5" cy="347.1" r="0.7"/><circle cx="145.3" cy="347.1" r="0.7"/><circle cx="155.1" cy="347.1" r="0.7"/><circle cx="164.9" cy="347.1" r="0.7"/><circle cx="174.7" cy="347.1" r="0.7"/><circle cx="184.5" cy="347.1" r="0.7"/><circle cx="194.3" cy="347.1" r="0.7"/><circle cx="204.1" cy="347.1" r="0.7"/><circle cx="213.9" cy="347.1" r="0.7"/><circle cx="86.5" cy="356.9" r="0.7"/><circle cx="96.3" cy="356.9" r="0.7"/><circle cx="106.1" cy="356.9" r="0.7"/><circle cx="115.9" cy="356.9" r="0.7"/><circle cx="125.7" cy="356.9" r="0.7"/><circle cx="135.5" cy="356.9" r="0.7"/><circle cx="145.3" cy="356.9" r="0.7"/><circle cx="155.1" cy="356.9" r="0.7"/><circle cx="164.9" cy="356.9" r="0.7"/><circle cx="174.7" cy="356.9" r="0.7"/><circle cx="184.5" cy="356.9" r="0.7"/><circle cx="194.3" cy="356.9" r="0.7"/><circle cx="204.1" cy="356.9" r="0.7"/><circle cx="213.9" cy="356.9" r="0.7"/><circle cx="86.5" cy="366.6" r="0.7"/><circle cx="96.3" cy="366.6" r="0.7"/><circle cx="106.1" cy="366.6" r="0.7"/><circle cx="115.9" cy="366.6" r="0.7"/><circle cx="125.7" cy="366.6" r="0.7"/><circle cx="135.5" cy="366.6" r="0.7"/><circle cx="145.3" cy="366.6" r="0.7"/><circle cx="155.1" cy="366.6" r="0.7"/><circle cx="164.9" cy="366.6" r="0.7"/><circle cx="174.7" cy="366.6" r="0.7"/><circle cx="184.5" cy="366.6" r="0.7"/><circle cx="194.3" cy="366.6" r="0.7"/><circle cx="204.1" cy="366.6" r="0.7"/><circle cx="213.9" cy="366.6" r="0.7"/><circle cx="76.7" cy="376.3" r="0.7"/><circle cx="86.5" cy="376.3" r="0.7"/><circle cx="96.3" cy="376.3" r="0.7"/><circle cx="106.1" cy="376.3" r="0.7"/><circle cx="115.9" cy="376.3" r="0.7"/><circle cx="125.7" cy="376.3" r="0.7"/><circle cx="135.5" cy="376.3" r="0.7"/><circle cx="145.3" cy="376.3" r="0.7"/><circle cx="155.1" cy="376.3" r="0.7"/><circle cx="164.9" cy="376.3" r="0.7"/><circle cx="174.7" cy="376.3" r="0.7"/><circle cx="184.5" cy="376.3" r="0.7"/><circle cx="194.3" cy="376.3" r="0.7"/><circle cx="204.1" cy="376.3" r="0.7"/><circle cx="213.9" cy="376.3" r="0.7"/><circle cx="66.9" cy="386.1" r="0.7"/><circle cx="76.7" cy="386.1" r="0.7"/><circle cx="86.5" cy="386.1" r="0.7"/><circle cx="96.3" cy="386.1" r="0.7"/><circle cx="106.1" cy="386.1" r="0.7"/><circle cx="115.9" cy="386.1" r="0.7"/><circle cx="125.7" cy="386.1" r="0.7"/><circle cx="135.5" cy="386.1" r="0.7"/><circle cx="145.3" cy="386.1" r="0.7"/><circle cx="155.1" cy="386.1" r="0.7"/><circle cx="164.9" cy="386.1" r="0.7"/><circle cx="174.7" cy="386.1" r="0.7"/><circle cx="184.5" cy="386.1" r="0.7"/><circle cx="194.3" cy="386.1" r="0.7"/><circle cx="204.1" cy="386.1" r="0.7"/><circle cx="213.9" cy="386.1" r="0.7"/><circle cx="66.9" cy="395.8" r="0.7"/><circle cx="76.7" cy="395.8" r="0.7"/><circle cx="86.5" cy="395.8" r="0.7"/><circle cx="96.3" cy="395.8" r="0.7"/><circle cx="106.1" cy="395.8" r="0.7"/><circle cx="115.9" cy="395.8" r="0.7"/><circle cx="125.7" cy="395.8" r="0.7"/><circle cx="135.5" cy="395.8" r="0.7"/><circle cx="145.3" cy="395.8" r="0.7"/><circle cx="155.1" cy="395.8" r="0.7"/><circle cx="164.9" cy="395.8" r="0.7"/><circle cx="174.7" cy="395.8" r="0.7"/><circle cx="184.5" cy="395.8" r="0.7"/><circle cx="194.3" cy="395.8" r="0.7"/><circle cx="204.1" cy="395.8" r="0.7"/><circle cx="213.9" cy="395.8" r="0.7"/><circle cx="76.7" cy="405.5" r="0.7"/><circle cx="86.5" cy="405.5" r="0.7"/><circle cx="96.3" cy="405.5" r="0.7"/><circle cx="106.1" cy="405.5" r="0.7"/><circle cx="115.9" cy="405.5" r="0.7"/><circle cx="125.7" cy="405.5" r="0.7"/><circle cx="135.5" cy="405.5" r="0.7"/><circle cx="145.3" cy="405.5" r="0.7"/><circle cx="155.1" cy="405.5" r="0.7"/><circle cx="164.9" cy="405.5" r="0.7"/><circle cx="174.7" cy="405.5" r="0.7"/><circle cx="184.5" cy="405.5" r="0.7"/><circle cx="194.3" cy="405.5" r="0.7"/><circle cx="204.1" cy="405.5" r="0.7"/><circle cx="213.9" cy="405.5" r="0.7"/><circle cx="86.5" cy="415.3" r="0.7"/><circle cx="96.3" cy="415.3" r="0.7"/><circle cx="106.1" cy="415.3" r="0.7"/><circle cx="115.9" cy="415.3" r="0.7"/><circle cx="125.7" cy="415.3" r="0.7"/><circle cx="135.5" cy="415.3" r="0.7"/><circle cx="145.3" cy="415.3" r="0.7"/><circle cx="155.1" cy="415.3" r="0.7"/><circle cx="164.9" cy="415.3" r="0.7"/><circle cx="174.7" cy="415.3" r="0.7"/><circle cx="184.5" cy="415.3" r="0.7"/><circle cx="194.3" cy="415.3" r="0.7"/><circle cx="204.1" cy="415.3" r="0.7"/><circle cx="213.9" cy="415.3" r="0.7"/><circle cx="96.3" cy="425" r="0.7"/><circle cx="106.1" cy="425" r="0.7"/><circle cx="115.9" cy="425" r="0.7"/><circle cx="125.7" cy="425" r="0.7"/><circle cx="135.5" cy="425" r="0.7"/><circle cx="145.3" cy="425" r="0.7"/><circle cx="155.1" cy="425" r="0.7"/><circle cx="164.9" cy="425" r="0.7"/><circle cx="174.7" cy="425" r="0.7"/><circle cx="184.5" cy="425" r="0.7"/><circle cx="194.3" cy="425" r="0.7"/><circle cx="204.1" cy="425" r="0.7"/><circle cx="213.9" cy="425" r="0.7"/></g>
<text x="179.2" y="312.3" font-size="6.2" text-anchor="middle" fill="#7a2a14">2</text>
<text x="179.2" y="322.8" font-size="6.2" text-anchor="middle" fill="#7a2a14">3</text>
<text x="179.2" y="333.2" font-size="6.2" text-anchor="middle" fill="#7a2a14">4</text>
<text x="179.2" y="343.7" font-size="6.2" text-anchor="middle" fill="#7a2a14">5</text>
<text x="179.2" y="354.1" font-size="6.2" text-anchor="middle" fill="#7a2a14">6</text>
<text x="179.2" y="364.6" font-size="6.2" text-anchor="middle" fill="#7a2a14">7</text>
<text x="179.2" y="375" font-size="6.2" text-anchor="middle" fill="#7a2a14">8</text>
<rect x="187.9" y="297.5" width="10.6" height="90.4" rx="5" ry="5" fill="none" stroke="#1c1c1c" stroke-width="0.8"/>
<circle cx="179.1" cy="299.6" r="4.6" fill="#fff" stroke="#222" stroke-width="0.7"/>
<text x="179.1" y="302.8" font-size="8.6" text-anchor="middle" fill="#111">1</text>
<circle cx="179.1" cy="383.4" r="4.6" fill="#fff" stroke="#222" stroke-width="0.7"/>
<text x="179.1" y="386.6" font-size="8.6" text-anchor="middle" fill="#111">9</text>
<line x1="167.9" y1="306" x2="140.6" y2="388.6" stroke="#1a1010" stroke-width="0.9"/>
<polyline points="139.6,383.7 140.6,388.6 144.3,385.3" fill="none" stroke="#1a1010" stroke-width="0.9"/>
<text x="374.4" y="271" font-size="13.4" text-anchor="middle" fill="#1a1a1a" textLength="46.4" lengthAdjust="spacingAndGlyphs">Velocity</text>
<text x="280.2" y="289.2" font-size="13.2" text-anchor="start" fill="#1a1a1a">D</text>
<g fill="#f08a86"><circle cx="296.9" cy="279.6" r="0.78"/><circle cx="306.8" cy="279.6" r="0.78"/><circle cx="316.7" cy="279.6" r="0.78"/><circle cx="326.5" cy="279.6" r="0.78"/><circle cx="336.4" cy="279.6" r="0.78"/><circle cx="346.3" cy="279.6" r="0.78"/><circle cx="356.2" cy="279.6" r="0.78"/><circle cx="366.1" cy="279.6" r="0.78"/><circle cx="296.9" cy="289.3" r="0.78"/><circle cx="306.8" cy="289.3" r="0.78"/><circle cx="316.7" cy="289.3" r="0.78"/><circle cx="326.5" cy="289.3" r="0.78"/><circle cx="336.4" cy="289.3" r="0.78"/><circle cx="346.3" cy="289.3" r="0.78"/><circle cx="356.2" cy="289.3" r="0.78"/><circle cx="366.1" cy="289.3" r="0.78"/><circle cx="296.9" cy="298.9" r="0.78"/><circle cx="306.8" cy="298.9" r="0.78"/><circle cx="316.7" cy="298.9" r="0.78"/><circle cx="326.5" cy="298.9" r="0.78"/><circle cx="336.4" cy="298.9" r="0.78"/><circle cx="346.3" cy="298.9" r="0.78"/><circle cx="356.2" cy="298.9" r="0.78"/><circle cx="296.9" cy="308.6" r="0.78"/><circle cx="306.8" cy="308.6" r="0.78"/><circle cx="316.7" cy="308.6" r="0.78"/><circle cx="326.5" cy="308.6" r="0.78"/><circle cx="336.4" cy="308.6" r="0.78"/><circle cx="346.3" cy="308.6" r="0.78"/><circle cx="356.2" cy="308.6" r="0.78"/><circle cx="296.9" cy="318.2" r="0.78"/><circle cx="306.8" cy="318.2" r="0.78"/><circle cx="316.7" cy="318.2" r="0.78"/><circle cx="326.5" cy="318.2" r="0.78"/><circle cx="336.4" cy="318.2" r="0.78"/><circle cx="346.3" cy="318.2" r="0.78"/><circle cx="296.9" cy="327.9" r="0.78"/><circle cx="306.8" cy="327.9" r="0.78"/><circle cx="316.7" cy="327.9" r="0.78"/><circle cx="326.5" cy="327.9" r="0.78"/><circle cx="336.4" cy="327.9" r="0.78"/><circle cx="296.9" cy="337.6" r="0.78"/><circle cx="306.8" cy="337.6" r="0.78"/><circle cx="316.7" cy="337.6" r="0.78"/><circle cx="326.5" cy="337.6" r="0.78"/><circle cx="296.9" cy="347.2" r="0.78"/><circle cx="306.8" cy="347.2" r="0.78"/><circle cx="316.7" cy="347.2" r="0.78"/><circle cx="296.9" cy="356.9" r="0.78"/><circle cx="306.8" cy="356.9" r="0.78"/><circle cx="296.9" cy="366.5" r="0.78"/><circle cx="296.9" cy="376.2" r="0.78"/><circle cx="296.9" cy="405.2" r="0.78"/><circle cx="296.9" cy="414.8" r="0.78"/><circle cx="306.8" cy="414.8" r="0.78"/><circle cx="296.9" cy="424.5" r="0.78"/><circle cx="306.8" cy="424.5" r="0.78"/><circle cx="316.7" cy="424.5" r="0.78"/></g>
<g clip-path="url(#cD)">
<polygon points="375.9,279.6 375.9,298.9 366.1,298.9 366.1,318.2 356.2,318.2 356.2,327.9 346.3,327.9 346.3,337.6 336.4,337.6 336.4,347.2 326.5,347.2 326.5,356.9 316.7,356.9 316.7,366.5 306.8,366.5 306.8,385.9 296.9,385.9 296.9,395.5 306.8,395.5 306.8,405.2 316.7,405.2 316.7,414.8 326.5,414.8 326.5,424.5 445.1,424.5 445.1,279.6" fill="#6cc6dd"/>
<polygon points="364.4,273 453.8,273 453.8,414.4 436.4,403.3 420.3,382.2 406.6,357.4 394.2,337.5 383,321.4 366.9,309" fill="#7b86ca" filter="url(#mb6)"/>
<ellipse cx="407" cy="289" rx="30" ry="11" fill="#b552a6" opacity="0.9" filter="url(#mb4)"/>
<ellipse cx="412" cy="290" rx="20" ry="7" fill="#c8489f" opacity="1" filter="url(#mb4)"/>
<ellipse cx="447.6" cy="317.6" rx="6" ry="40" fill="#a95aa9" opacity="0.9" filter="url(#mb4)"/>
<ellipse cx="438.9" cy="347.4" rx="9" ry="18" fill="#9a66b2" opacity="0.8" filter="url(#mb4)"/>
<ellipse cx="443.8" cy="419.4" rx="9" ry="9" fill="#6f8fd1" opacity="0.9" filter="url(#mb4)"/>
</g>
<g clip-path="url(#aD)" stroke="#0c0c0c" stroke-width="0.95" fill="#0c0c0c" stroke-linecap="round"><line x1="375.9" y1="279.6" x2="372.6" y2="284.9"/><ellipse cx="373.1" cy="284.2" rx="1.05" ry="0.66" transform="rotate(122 373.1 284.2)"/><line x1="385.8" y1="279.6" x2="382.5" y2="284.9"/><ellipse cx="383" cy="284.2" rx="1.05" ry="0.66" transform="rotate(122 383 284.2)"/><line x1="395.7" y1="279.6" x2="392.4" y2="284.9"/><ellipse cx="392.8" cy="284.2" rx="1.05" ry="0.66" transform="rotate(122 392.8 284.2)"/><line x1="405.6" y1="279.6" x2="402.2" y2="284.9"/><ellipse cx="402.7" cy="284.2" rx="1.05" ry="0.66" transform="rotate(122 402.7 284.2)"/><line x1="415.5" y1="279.6" x2="412.1" y2="284.9"/><ellipse cx="412.6" cy="284.2" rx="1.05" ry="0.66" transform="rotate(122 412.6 284.2)"/><line x1="425.3" y1="279.6" x2="422" y2="284.9"/><ellipse cx="422.5" cy="284.2" rx="1.05" ry="0.66" transform="rotate(122 422.5 284.2)"/><line x1="435.2" y1="279.6" x2="432.1" y2="285.1"/><ellipse cx="432.5" cy="284.3" rx="1.05" ry="0.66" transform="rotate(120 432.5 284.3)"/><line x1="445.1" y1="279.6" x2="442" y2="285.1"/><ellipse cx="442.4" cy="284.3" rx="1.05" ry="0.66" transform="rotate(120 442.4 284.3)"/><line x1="375.9" y1="289.3" x2="372.5" y2="294.5"/><ellipse cx="373" cy="293.8" rx="1.05" ry="0.66" transform="rotate(122.9 373 293.8)"/><line x1="385.8" y1="289.3" x2="383.3" y2="295"/><ellipse cx="383.7" cy="294.2" rx="1.05" ry="0.66" transform="rotate(113.6 383.7 294.2)"/><line x1="395.7" y1="289.3" x2="393.9" y2="295.3"/><ellipse cx="394.2" cy="294.4" rx="1.05" ry="0.66" transform="rotate(106.5 394.2 294.4)"/><line x1="405.6" y1="289.3" x2="404.1" y2="295.4"/><ellipse cx="404.3" cy="294.5" rx="1.05" ry="0.66" transform="rotate(103.8 404.3 294.5)"/><line x1="415.5" y1="289.3" x2="413.8" y2="295.3"/><ellipse cx="414" cy="294.5" rx="1.05" ry="0.66" transform="rotate(105.5 414 294.5)"/><line x1="425.3" y1="289.3" x2="423.2" y2="295.2"/><ellipse cx="423.5" cy="294.3" rx="1.05" ry="0.66" transform="rotate(110.1 423.5 294.3)"/><line x1="435.2" y1="289.3" x2="431.8" y2="294.6"/><ellipse cx="432.3" cy="293.8" rx="1.05" ry="0.66" transform="rotate(122.5 432.3 293.8)"/><line x1="445.1" y1="289.3" x2="441.7" y2="294.6"/><ellipse cx="442.2" cy="293.8" rx="1.05" ry="0.66" transform="rotate(122.5 442.2 293.8)"/><line x1="366.1" y1="298.9" x2="362.1" y2="303.8"/><ellipse cx="362.7" cy="303.1" rx="1.05" ry="0.66" transform="rotate(128.7 362.7 303.1)"/><line x1="375.9" y1="298.9" x2="373" y2="304.5"/><ellipse cx="373.5" cy="303.7" rx="1.05" ry="0.66" transform="rotate(117.4 373.5 303.7)"/><line x1="385.8" y1="298.9" x2="384.1" y2="305"/><ellipse cx="384.4" cy="304.1" rx="1.05" ry="0.66" transform="rotate(105.8 384.4 304.1)"/><line x1="395.7" y1="298.9" x2="394.9" y2="305.2"/><ellipse cx="395" cy="304.3" rx="1.05" ry="0.66" transform="rotate(97.2 395 304.3)"/><line x1="405.6" y1="298.9" x2="405.1" y2="305.2"/><ellipse cx="405.2" cy="304.3" rx="1.05" ry="0.66" transform="rotate(94.5 405.2 304.3)"/><line x1="415.5" y1="298.9" x2="414.6" y2="305.2"/><ellipse cx="414.7" cy="304.3" rx="1.05" ry="0.66" transform="rotate(97.8 414.7 304.3)"/><line x1="425.3" y1="298.9" x2="423.7" y2="305"/><ellipse cx="423.9" cy="304.1" rx="1.05" ry="0.66" transform="rotate(104.9 423.9 304.1)"/><line x1="435.2" y1="298.9" x2="431.6" y2="304.1"/><ellipse cx="432.1" cy="303.3" rx="1.05" ry="0.66" transform="rotate(125 432.1 303.3)"/><line x1="445.1" y1="298.9" x2="441.5" y2="304.1"/><ellipse cx="442" cy="303.3" rx="1.05" ry="0.66" transform="rotate(125 442 303.3)"/><line x1="366.1" y1="308.6" x2="362.2" y2="313.6"/><ellipse cx="362.8" cy="312.9" rx="1.05" ry="0.66" transform="rotate(127.3 362.8 312.9)"/><line x1="375.9" y1="308.6" x2="373.3" y2="314.3"/><ellipse cx="373.7" cy="313.5" rx="1.05" ry="0.66" transform="rotate(114.9 373.7 313.5)"/><line x1="385.8" y1="308.6" x2="384.5" y2="314.7"/><ellipse cx="384.7" cy="313.9" rx="1.05" ry="0.66" transform="rotate(102.3 384.7 313.9)"/><line x1="395.7" y1="308.6" x2="395.4" y2="314.9"/><ellipse cx="395.4" cy="314" rx="1.05" ry="0.66" transform="rotate(93.1 395.4 314)"/><line x1="405.6" y1="308.6" x2="405.5" y2="314.9"/><ellipse cx="405.5" cy="314" rx="1.05" ry="0.66" transform="rotate(90.5 405.5 314)"/><line x1="415.5" y1="308.6" x2="414.9" y2="314.9"/><ellipse cx="415" cy="314" rx="1.05" ry="0.66" transform="rotate(94.7 415 314)"/><line x1="425.3" y1="308.6" x2="423.9" y2="314.7"/><ellipse cx="424.1" cy="313.8" rx="1.05" ry="0.66" transform="rotate(103.2 424.1 313.8)"/><line x1="435.2" y1="308.6" x2="431.4" y2="313.6"/><ellipse cx="431.9" cy="312.9" rx="1.05" ry="0.66" transform="rotate(127.5 431.9 312.9)"/><line x1="445.1" y1="308.6" x2="441.3" y2="313.6"/><ellipse cx="441.8" cy="312.9" rx="1.05" ry="0.66" transform="rotate(127.5 441.8 312.9)"/><line x1="356.2" y1="318.2" x2="351.5" y2="322.5"/><ellipse cx="352.2" cy="321.9" rx="1.05" ry="0.66" transform="rotate(137.6 352.2 321.9)"/><line x1="366.1" y1="318.2" x2="362.1" y2="323.2"/><ellipse cx="362.7" cy="322.5" rx="1.05" ry="0.66" transform="rotate(128.6 362.7 322.5)"/><line x1="375.9" y1="318.2" x2="373.1" y2="323.9"/><ellipse cx="373.5" cy="323.1" rx="1.05" ry="0.66" transform="rotate(117 373.5 323.1)"/><line x1="385.8" y1="318.2" x2="384.2" y2="324.3"/><ellipse cx="384.4" cy="323.5" rx="1.05" ry="0.66" transform="rotate(105.2 384.4 323.5)"/><line x1="395.7" y1="318.2" x2="395" y2="324.5"/><ellipse cx="395.1" cy="323.6" rx="1.05" ry="0.66" transform="rotate(96.6 395.1 323.6)"/><line x1="405.6" y1="318.2" x2="405.1" y2="324.5"/><ellipse cx="405.2" cy="323.6" rx="1.05" ry="0.66" transform="rotate(94.2 405.2 323.6)"/><line x1="415.5" y1="318.2" x2="414.6" y2="324.5"/><ellipse cx="414.7" cy="323.6" rx="1.05" ry="0.66" transform="rotate(98.3 414.7 323.6)"/><line x1="425.3" y1="318.2" x2="423.6" y2="324.3"/><ellipse cx="423.8" cy="323.4" rx="1.05" ry="0.66" transform="rotate(106.3 423.8 323.4)"/><line x1="435.2" y1="318.2" x2="431.2" y2="323.1"/><ellipse cx="431.7" cy="322.4" rx="1.05" ry="0.66" transform="rotate(130 431.7 322.4)"/><line x1="445.1" y1="318.2" x2="441.1" y2="323.1"/><ellipse cx="441.6" cy="322.4" rx="1.05" ry="0.66" transform="rotate(130 441.6 322.4)"/><line x1="346.3" y1="327.9" x2="341.2" y2="331.6"/><ellipse cx="341.9" cy="331.1" rx="1.05" ry="0.66" transform="rotate(144.3 341.9 331.1)"/><line x1="356.2" y1="327.9" x2="351.4" y2="332"/><ellipse cx="352.1" cy="331.4" rx="1.05" ry="0.66" transform="rotate(139.5 352.1 331.4)"/><line x1="366.1" y1="327.9" x2="361.8" y2="332.6"/><ellipse cx="362.4" cy="331.9" rx="1.05" ry="0.66" transform="rotate(132.2 362.4 331.9)"/><line x1="375.9" y1="327.9" x2="372.5" y2="333.2"/><ellipse cx="373" cy="332.4" rx="1.05" ry="0.66" transform="rotate(122.9 373 332.4)"/><line x1="385.8" y1="327.9" x2="383.3" y2="333.7"/><ellipse cx="383.7" cy="332.9" rx="1.05" ry="0.66" transform="rotate(113.4 383.7 332.9)"/><line x1="395.7" y1="327.9" x2="393.9" y2="333.9"/><ellipse cx="394.2" cy="333.1" rx="1.05" ry="0.66" transform="rotate(106.5 394.2 333.1)"/><line x1="405.6" y1="327.9" x2="404" y2="334"/><ellipse cx="404.2" cy="333.1" rx="1.05" ry="0.66" transform="rotate(104.4 404.2 333.1)"/><line x1="415.5" y1="327.9" x2="413.6" y2="333.9"/><ellipse cx="413.8" cy="333.1" rx="1.05" ry="0.66" transform="rotate(107.4 413.8 333.1)"/><line x1="425.3" y1="327.9" x2="422.8" y2="333.7"/><ellipse cx="423.2" cy="332.9" rx="1.05" ry="0.66" transform="rotate(113.5 423.2 332.9)"/><line x1="435.2" y1="327.9" x2="431" y2="332.5"/><ellipse cx="431.6" cy="331.9" rx="1.05" ry="0.66" transform="rotate(132.5 431.6 331.9)"/><line x1="445.1" y1="327.9" x2="440.8" y2="332.5"/><ellipse cx="441.5" cy="331.9" rx="1.05" ry="0.66" transform="rotate(132.5 441.5 331.9)"/><line x1="336.4" y1="337.6" x2="331.2" y2="341.1"/><ellipse cx="331.9" cy="340.6" rx="1.05" ry="0.66" transform="rotate(146.3 331.9 340.6)"/><line x1="346.3" y1="337.6" x2="341.1" y2="341.2"/><ellipse cx="341.9" cy="340.6" rx="1.05" ry="0.66" transform="rotate(145.2 341.9 340.6)"/><line x1="356.2" y1="337.6" x2="351.2" y2="341.5"/><ellipse cx="351.9" cy="340.9" rx="1.05" ry="0.66" transform="rotate(141.7 351.9 340.9)"/><line x1="366.1" y1="337.6" x2="361.5" y2="341.9"/><ellipse cx="362.1" cy="341.3" rx="1.05" ry="0.66" transform="rotate(136.6 362.1 341.3)"/><line x1="375.9" y1="337.6" x2="371.9" y2="342.4"/><ellipse cx="372.5" cy="341.7" rx="1.05" ry="0.66" transform="rotate(130.1 372.5 341.7)"/><line x1="385.8" y1="337.6" x2="382.3" y2="342.8"/><ellipse cx="382.8" cy="342.1" rx="1.05" ry="0.66" transform="rotate(123.6 382.8 342.1)"/><line x1="395.7" y1="337.6" x2="392.7" y2="343.1"/><ellipse cx="393.1" cy="342.3" rx="1.05" ry="0.66" transform="rotate(118.7 393.1 342.3)"/><line x1="405.6" y1="337.6" x2="402.7" y2="343.2"/><ellipse cx="403.1" cy="342.4" rx="1.05" ry="0.66" transform="rotate(117 403.1 342.4)"/><line x1="415.5" y1="337.6" x2="412.4" y2="343.1"/><ellipse cx="412.9" cy="342.3" rx="1.05" ry="0.66" transform="rotate(118.6 412.9 342.3)"/><line x1="425.3" y1="337.6" x2="422" y2="342.9"/><ellipse cx="422.5" cy="342.1" rx="1.05" ry="0.66" transform="rotate(122.3 422.5 342.1)"/><line x1="435.2" y1="337.6" x2="430.8" y2="342"/><ellipse cx="431.4" cy="341.4" rx="1.05" ry="0.66" transform="rotate(135 431.4 341.4)"/><line x1="445.1" y1="337.6" x2="440.6" y2="342"/><ellipse cx="441.3" cy="341.4" rx="1.05" ry="0.66" transform="rotate(135 441.3 341.4)"/><line x1="326.5" y1="347.2" x2="321.3" y2="350.7"/><ellipse cx="322" cy="350.2" rx="1.05" ry="0.66" transform="rotate(146.9 322 350.2)"/><line x1="336.4" y1="347.2" x2="331.2" y2="350.7"/><ellipse cx="331.9" cy="350.2" rx="1.05" ry="0.66" transform="rotate(146.6 331.9 350.2)"/><line x1="346.3" y1="347.2" x2="341.1" y2="350.7"/><ellipse cx="341.8" cy="350.2" rx="1.05" ry="0.66" transform="rotate(146 341.8 350.2)"/><line x1="356.2" y1="347.2" x2="351.1" y2="350.9"/><ellipse cx="351.8" cy="350.4" rx="1.05" ry="0.66" transform="rotate(143.7 351.8 350.4)"/><line x1="366.1" y1="347.2" x2="361.2" y2="351.2"/><ellipse cx="361.9" cy="350.7" rx="1.05" ry="0.66" transform="rotate(140.5 361.9 350.7)"/><line x1="375.9" y1="347.2" x2="371.4" y2="351.6"/><ellipse cx="372" cy="350.9" rx="1.05" ry="0.66" transform="rotate(136.5 372 350.9)"/><line x1="385.8" y1="347.2" x2="381.6" y2="351.9"/><ellipse cx="382.2" cy="351.2" rx="1.05" ry="0.66" transform="rotate(132.5 382.2 351.2)"/><line x1="395.7" y1="347.2" x2="391.7" y2="352.1"/><ellipse cx="392.3" cy="351.4" rx="1.05" ry="0.66" transform="rotate(129.4 392.3 351.4)"/><line x1="405.6" y1="347.2" x2="401.7" y2="352.2"/><ellipse cx="402.3" cy="351.5" rx="1.05" ry="0.66" transform="rotate(128 402.3 351.5)"/><line x1="415.5" y1="347.2" x2="411.5" y2="352.1"/><ellipse cx="412.1" cy="351.4" rx="1.05" ry="0.66" transform="rotate(128.5 412.1 351.4)"/><line x1="425.3" y1="347.2" x2="421.3" y2="352"/><ellipse cx="421.9" cy="351.3" rx="1.05" ry="0.66" transform="rotate(130.1 421.9 351.3)"/><line x1="435.2" y1="347.2" x2="430.6" y2="351.5"/><ellipse cx="431.2" cy="350.9" rx="1.05" ry="0.66" transform="rotate(137.5 431.2 350.9)"/><line x1="445.1" y1="347.2" x2="440.5" y2="351.5"/><ellipse cx="441.1" cy="350.9" rx="1.05" ry="0.66" transform="rotate(137.5 441.1 350.9)"/><line x1="316.7" y1="356.9" x2="311.4" y2="360.3"/><ellipse cx="312.1" cy="359.8" rx="1.05" ry="0.66" transform="rotate(147 312.1 359.8)"/><line x1="326.5" y1="356.9" x2="321.3" y2="360.3"/><ellipse cx="322" cy="359.8" rx="1.05" ry="0.66" transform="rotate(146.9 322 359.8)"/><line x1="336.4" y1="356.9" x2="331.1" y2="360.3"/><ellipse cx="331.9" cy="359.8" rx="1.05" ry="0.66" transform="rotate(146.8 331.9 359.8)"/><line x1="346.3" y1="356.9" x2="341" y2="360.4"/><ellipse cx="341.8" cy="359.9" rx="1.05" ry="0.66" transform="rotate(146.6 341.8 359.9)"/><line x1="356.2" y1="356.9" x2="351" y2="360.5"/><ellipse cx="351.8" cy="360" rx="1.05" ry="0.66" transform="rotate(145.1 351.8 360)"/><line x1="366.1" y1="356.9" x2="361" y2="360.7"/><ellipse cx="361.7" cy="360.1" rx="1.05" ry="0.66" transform="rotate(143.2 361.7 360.1)"/><line x1="375.9" y1="356.9" x2="371.1" y2="360.9"/><ellipse cx="371.7" cy="360.3" rx="1.05" ry="0.66" transform="rotate(140.9 371.7 360.3)"/><line x1="385.8" y1="356.9" x2="381.1" y2="361"/><ellipse cx="381.8" cy="360.5" rx="1.05" ry="0.66" transform="rotate(138.6 381.8 360.5)"/><line x1="395.7" y1="356.9" x2="391.1" y2="361.2"/><ellipse cx="391.8" cy="360.6" rx="1.05" ry="0.66" transform="rotate(136.7 391.8 360.6)"/><line x1="405.6" y1="356.9" x2="401.1" y2="361.3"/><ellipse cx="401.7" cy="360.7" rx="1.05" ry="0.66" transform="rotate(135.7 401.7 360.7)"/><line x1="415.5" y1="356.9" x2="411" y2="361.3"/><ellipse cx="411.6" cy="360.7" rx="1.05" ry="0.66" transform="rotate(135.5 411.6 360.7)"/><line x1="425.3" y1="356.9" x2="420.8" y2="361.3"/><ellipse cx="421.5" cy="360.6" rx="1.05" ry="0.66" transform="rotate(135.8 421.5 360.6)"/><line x1="435.2" y1="356.9" x2="430.4" y2="360.9"/><ellipse cx="431.1" cy="360.4" rx="1.05" ry="0.66" transform="rotate(140 431.1 360.4)"/><line x1="445.1" y1="356.9" x2="440.3" y2="360.9"/><ellipse cx="441" cy="360.4" rx="1.05" ry="0.66" transform="rotate(140 441 360.4)"/><line x1="306.8" y1="366.5" x2="301.5" y2="370"/><ellipse cx="302.3" cy="369.5" rx="1.05" ry="0.66" transform="rotate(147 302.3 369.5)"/><line x1="316.7" y1="366.5" x2="311.4" y2="370"/><ellipse cx="312.1" cy="369.5" rx="1.05" ry="0.66" transform="rotate(147 312.1 369.5)"/><line x1="326.5" y1="366.5" x2="321.3" y2="370"/><ellipse cx="322" cy="369.5" rx="1.05" ry="0.66" transform="rotate(147 322 369.5)"/><line x1="336.4" y1="366.5" x2="331.1" y2="370"/><ellipse cx="331.9" cy="369.5" rx="1.05" ry="0.66" transform="rotate(146.9 331.9 369.5)"/><line x1="346.3" y1="366.5" x2="341" y2="370"/><ellipse cx="341.8" cy="369.5" rx="1.05" ry="0.66" transform="rotate(146.8 341.8 369.5)"/><line x1="356.2" y1="366.5" x2="351" y2="370.1"/><ellipse cx="351.7" cy="369.6" rx="1.05" ry="0.66" transform="rotate(145.9 351.7 369.6)"/><line x1="366.1" y1="366.5" x2="360.9" y2="370.2"/><ellipse cx="361.7" cy="369.7" rx="1.05" ry="0.66" transform="rotate(144.7 361.7 369.7)"/><line x1="375.9" y1="366.5" x2="370.9" y2="370.3"/><ellipse cx="371.6" cy="369.8" rx="1.05" ry="0.66" transform="rotate(143.5 371.6 369.8)"/><line x1="385.8" y1="366.5" x2="380.8" y2="370.4"/><ellipse cx="381.6" cy="369.9" rx="1.05" ry="0.66" transform="rotate(142.2 381.6 369.9)"/><line x1="395.7" y1="366.5" x2="390.8" y2="370.5"/><ellipse cx="391.5" cy="369.9" rx="1.05" ry="0.66" transform="rotate(141 391.5 369.9)"/><line x1="405.6" y1="366.5" x2="400.7" y2="370.6"/><ellipse cx="401.4" cy="370" rx="1.05" ry="0.66" transform="rotate(140.2 401.4 370)"/><line x1="415.5" y1="366.5" x2="410.7" y2="370.6"/><ellipse cx="411.3" cy="370" rx="1.05" ry="0.66" transform="rotate(139.7 411.3 370)"/><line x1="425.3" y1="366.5" x2="420.6" y2="370.6"/><ellipse cx="421.2" cy="370" rx="1.05" ry="0.66" transform="rotate(139.5 421.2 370)"/><line x1="435.2" y1="366.5" x2="430.5" y2="370.7"/><ellipse cx="431.1" cy="370.1" rx="1.05" ry="0.66" transform="rotate(139.2 431.1 370.1)"/><line x1="445.1" y1="366.5" x2="440.4" y2="370.7"/><ellipse cx="441" cy="370.1" rx="1.05" ry="0.66" transform="rotate(138.8 441 370.1)"/><line x1="306.8" y1="376.2" x2="301.5" y2="379.6"/><ellipse cx="302.3" cy="379.1" rx="1.05" ry="0.66" transform="rotate(147 302.3 379.1)"/><line x1="316.7" y1="376.2" x2="311.4" y2="379.6"/><ellipse cx="312.1" cy="379.1" rx="1.05" ry="0.66" transform="rotate(147 312.1 379.1)"/><line x1="326.5" y1="376.2" x2="321.3" y2="379.6"/><ellipse cx="322" cy="379.1" rx="1.05" ry="0.66" transform="rotate(147 322 379.1)"/><line x1="336.4" y1="376.2" x2="331.1" y2="379.6"/><ellipse cx="331.9" cy="379.1" rx="1.05" ry="0.66" transform="rotate(147 331.9 379.1)"/><line x1="346.3" y1="376.2" x2="341" y2="379.6"/><ellipse cx="341.8" cy="379.1" rx="1.05" ry="0.66" transform="rotate(146.9 341.8 379.1)"/><line x1="356.2" y1="376.2" x2="350.9" y2="379.7"/><ellipse cx="351.7" cy="379.2" rx="1.05" ry="0.66" transform="rotate(146.3 351.7 379.2)"/><line x1="366.1" y1="376.2" x2="360.9" y2="379.8"/><ellipse cx="361.6" cy="379.2" rx="1.05" ry="0.66" transform="rotate(145.6 361.6 379.2)"/><line x1="375.9" y1="376.2" x2="370.8" y2="379.8"/><ellipse cx="371.5" cy="379.3" rx="1.05" ry="0.66" transform="rotate(144.9 371.5 379.3)"/><line x1="385.8" y1="376.2" x2="380.7" y2="379.9"/><ellipse cx="381.4" cy="379.4" rx="1.05" ry="0.66" transform="rotate(144.1 381.4 379.4)"/><line x1="395.7" y1="376.2" x2="390.6" y2="380"/><ellipse cx="391.4" cy="379.4" rx="1.05" ry="0.66" transform="rotate(143.4 391.4 379.4)"/><line x1="405.6" y1="376.2" x2="400.6" y2="380"/><ellipse cx="401.3" cy="379.5" rx="1.05" ry="0.66" transform="rotate(142.8 401.3 379.5)"/><line x1="415.5" y1="376.2" x2="410.5" y2="380.1"/><ellipse cx="411.2" cy="379.5" rx="1.05" ry="0.66" transform="rotate(142.3 411.2 379.5)"/><line x1="425.3" y1="376.2" x2="420.4" y2="380.1"/><ellipse cx="421.1" cy="379.5" rx="1.05" ry="0.66" transform="rotate(141.9 421.1 379.5)"/><line x1="435.2" y1="376.2" x2="430.3" y2="380.1"/><ellipse cx="431" cy="379.6" rx="1.05" ry="0.66" transform="rotate(141.4 431 379.6)"/><line x1="445.1" y1="376.2" x2="440.2" y2="380.2"/><ellipse cx="440.9" cy="379.6" rx="1.05" ry="0.66" transform="rotate(141 440.9 379.6)"/><line x1="296.9" y1="385.9" x2="291.6" y2="389.3"/><ellipse cx="292.4" cy="388.8" rx="1.05" ry="0.66" transform="rotate(147 292.4 388.8)"/><line x1="306.8" y1="385.9" x2="301.5" y2="389.3"/><ellipse cx="302.3" cy="388.8" rx="1.05" ry="0.66" transform="rotate(147 302.3 388.8)"/><line x1="316.7" y1="385.9" x2="311.4" y2="389.3"/><ellipse cx="312.1" cy="388.8" rx="1.05" ry="0.66" transform="rotate(147 312.1 388.8)"/><line x1="326.5" y1="385.9" x2="321.3" y2="389.3"/><ellipse cx="322" cy="388.8" rx="1.05" ry="0.66" transform="rotate(147 322 388.8)"/><line x1="336.4" y1="385.9" x2="331.1" y2="389.3"/><ellipse cx="331.9" cy="388.8" rx="1.05" ry="0.66" transform="rotate(147 331.9 388.8)"/><line x1="346.3" y1="385.9" x2="341" y2="389.3"/><ellipse cx="341.8" cy="388.8" rx="1.05" ry="0.66" transform="rotate(147 341.8 388.8)"/><line x1="356.2" y1="385.9" x2="350.9" y2="389.3"/><ellipse cx="351.7" cy="388.8" rx="1.05" ry="0.66" transform="rotate(146.6 351.7 388.8)"/><line x1="366.1" y1="385.9" x2="360.8" y2="389.4"/><ellipse cx="361.6" cy="388.9" rx="1.05" ry="0.66" transform="rotate(146.2 361.6 388.9)"/><line x1="375.9" y1="385.9" x2="370.7" y2="389.4"/><ellipse cx="371.5" cy="388.9" rx="1.05" ry="0.66" transform="rotate(145.7 371.5 388.9)"/><line x1="385.8" y1="385.9" x2="380.6" y2="389.5"/><ellipse cx="381.4" cy="388.9" rx="1.05" ry="0.66" transform="rotate(145.3 381.4 388.9)"/><line x1="395.7" y1="385.9" x2="390.6" y2="389.5"/><ellipse cx="391.3" cy="389" rx="1.05" ry="0.66" transform="rotate(144.8 391.3 389)"/><line x1="405.6" y1="385.9" x2="400.5" y2="389.5"/><ellipse cx="401.2" cy="389" rx="1.05" ry="0.66" transform="rotate(144.4 401.2 389)"/><line x1="415.5" y1="385.9" x2="410.4" y2="389.6"/><ellipse cx="411.1" cy="389" rx="1.05" ry="0.66" transform="rotate(144 411.1 389)"/><line x1="425.3" y1="385.9" x2="420.3" y2="389.6"/><ellipse cx="421" cy="389.1" rx="1.05" ry="0.66" transform="rotate(143.7 421 389.1)"/><line x1="435.2" y1="385.9" x2="430.2" y2="389.6"/><ellipse cx="430.9" cy="389.1" rx="1.05" ry="0.66" transform="rotate(143.3 430.9 389.1)"/><line x1="445.1" y1="385.9" x2="440.1" y2="389.7"/><ellipse cx="440.8" cy="389.1" rx="1.05" ry="0.66" transform="rotate(142.9 440.8 389.1)"/><line x1="296.9" y1="395.5" x2="291.6" y2="399"/><ellipse cx="292.4" cy="398.5" rx="1.05" ry="0.66" transform="rotate(147 292.4 398.5)"/><line x1="306.8" y1="395.5" x2="301.5" y2="399"/><ellipse cx="302.3" cy="398.5" rx="1.05" ry="0.66" transform="rotate(147 302.3 398.5)"/><line x1="316.7" y1="395.5" x2="311.4" y2="399"/><ellipse cx="312.1" cy="398.5" rx="1.05" ry="0.66" transform="rotate(147 312.1 398.5)"/><line x1="326.5" y1="395.5" x2="321.3" y2="399"/><ellipse cx="322" cy="398.5" rx="1.05" ry="0.66" transform="rotate(147 322 398.5)"/><line x1="336.4" y1="395.5" x2="331.1" y2="399"/><ellipse cx="331.9" cy="398.5" rx="1.05" ry="0.66" transform="rotate(147 331.9 398.5)"/><line x1="346.3" y1="395.5" x2="341" y2="399"/><ellipse cx="341.8" cy="398.5" rx="1.05" ry="0.66" transform="rotate(147 341.8 398.5)"/><line x1="356.2" y1="395.5" x2="350.9" y2="399"/><ellipse cx="351.7" cy="398.5" rx="1.05" ry="0.66" transform="rotate(146.8 351.7 398.5)"/><line x1="366.1" y1="395.5" x2="360.8" y2="399"/><ellipse cx="361.6" cy="398.5" rx="1.05" ry="0.66" transform="rotate(146.6 361.6 398.5)"/><line x1="375.9" y1="395.5" x2="370.7" y2="399"/><ellipse cx="371.4" cy="398.5" rx="1.05" ry="0.66" transform="rotate(146.3 371.4 398.5)"/><line x1="385.8" y1="395.5" x2="380.6" y2="399"/><ellipse cx="381.3" cy="398.5" rx="1.05" ry="0.66" transform="rotate(146.1 381.3 398.5)"/><line x1="395.7" y1="395.5" x2="390.5" y2="399.1"/><ellipse cx="391.2" cy="398.5" rx="1.05" ry="0.66" transform="rotate(145.9 391.2 398.5)"/><line x1="405.6" y1="395.5" x2="400.4" y2="399.1"/><ellipse cx="401.1" cy="398.6" rx="1.05" ry="0.66" transform="rotate(145.7 401.1 398.6)"/><line x1="415.5" y1="395.5" x2="410.3" y2="399.1"/><ellipse cx="411" cy="398.6" rx="1.05" ry="0.66" transform="rotate(145.4 411 398.6)"/><line x1="425.3" y1="395.5" x2="420.2" y2="399.1"/><ellipse cx="420.9" cy="398.6" rx="1.05" ry="0.66" transform="rotate(145.2 420.9 398.6)"/><line x1="435.2" y1="395.5" x2="430.1" y2="399.1"/><ellipse cx="430.8" cy="398.6" rx="1.05" ry="0.66" transform="rotate(145 430.8 398.6)"/><line x1="445.1" y1="395.5" x2="440" y2="399.2"/><ellipse cx="440.7" cy="398.6" rx="1.05" ry="0.66" transform="rotate(144.8 440.7 398.6)"/><line x1="306.8" y1="405.2" x2="301.5" y2="408.6"/><ellipse cx="302.3" cy="408.1" rx="1.05" ry="0.66" transform="rotate(147 302.3 408.1)"/><line x1="316.7" y1="405.2" x2="311.4" y2="408.6"/><ellipse cx="312.1" cy="408.1" rx="1.05" ry="0.66" transform="rotate(147 312.1 408.1)"/><line x1="326.5" y1="405.2" x2="321.3" y2="408.6"/><ellipse cx="322" cy="408.1" rx="1.05" ry="0.66" transform="rotate(147 322 408.1)"/><line x1="336.4" y1="405.2" x2="331.1" y2="408.6"/><ellipse cx="331.9" cy="408.1" rx="1.05" ry="0.66" transform="rotate(147 331.9 408.1)"/><line x1="346.3" y1="405.2" x2="341" y2="408.6"/><ellipse cx="341.8" cy="408.1" rx="1.05" ry="0.66" transform="rotate(147 341.8 408.1)"/><line x1="356.2" y1="405.2" x2="350.9" y2="408.6"/><ellipse cx="351.7" cy="408.1" rx="1.05" ry="0.66" transform="rotate(147 351.7 408.1)"/><line x1="366.1" y1="405.2" x2="360.8" y2="408.6"/><ellipse cx="361.5" cy="408.1" rx="1.05" ry="0.66" transform="rotate(146.9 361.5 408.1)"/><line x1="375.9" y1="405.2" x2="370.7" y2="408.6"/><ellipse cx="371.4" cy="408.1" rx="1.05" ry="0.66" transform="rotate(146.9 371.4 408.1)"/><line x1="385.8" y1="405.2" x2="380.5" y2="408.6"/><ellipse cx="381.3" cy="408.1" rx="1.05" ry="0.66" transform="rotate(146.9 381.3 408.1)"/><line x1="395.7" y1="405.2" x2="390.4" y2="408.6"/><ellipse cx="391.2" cy="408.1" rx="1.05" ry="0.66" transform="rotate(146.8 391.2 408.1)"/><line x1="405.6" y1="405.2" x2="400.3" y2="408.6"/><ellipse cx="401.1" cy="408.1" rx="1.05" ry="0.66" transform="rotate(146.8 401.1 408.1)"/><line x1="415.5" y1="405.2" x2="410.2" y2="408.6"/><ellipse cx="410.9" cy="408.1" rx="1.05" ry="0.66" transform="rotate(146.8 410.9 408.1)"/><line x1="425.3" y1="405.2" x2="420.1" y2="408.6"/><ellipse cx="420.8" cy="408.1" rx="1.05" ry="0.66" transform="rotate(146.7 420.8 408.1)"/><line x1="435.2" y1="405.2" x2="430" y2="408.6"/><ellipse cx="430.7" cy="408.1" rx="1.05" ry="0.66" transform="rotate(146.7 430.7 408.1)"/><line x1="445.1" y1="405.2" x2="439.8" y2="408.6"/><ellipse cx="440.6" cy="408.1" rx="1.05" ry="0.66" transform="rotate(146.7 440.6 408.1)"/><line x1="316.7" y1="414.8" x2="311.4" y2="418.3"/><ellipse cx="312.1" cy="417.8" rx="1.05" ry="0.66" transform="rotate(147 312.1 417.8)"/><line x1="326.5" y1="414.8" x2="321.3" y2="418.3"/><ellipse cx="322" cy="417.8" rx="1.05" ry="0.66" transform="rotate(147 322 417.8)"/><line x1="336.4" y1="414.8" x2="331.1" y2="418.3"/><ellipse cx="331.9" cy="417.8" rx="1.05" ry="0.66" transform="rotate(147 331.9 417.8)"/><line x1="346.3" y1="414.8" x2="341" y2="418.3"/><ellipse cx="341.8" cy="417.8" rx="1.05" ry="0.66" transform="rotate(147 341.8 417.8)"/><line x1="356.2" y1="414.8" x2="350.9" y2="418.3"/><ellipse cx="351.7" cy="417.8" rx="1.05" ry="0.66" transform="rotate(147 351.7 417.8)"/><line x1="366.1" y1="414.8" x2="360.8" y2="418.3"/><ellipse cx="361.5" cy="417.8" rx="1.05" ry="0.66" transform="rotate(147 361.5 417.8)"/><line x1="375.9" y1="414.8" x2="370.7" y2="418.3"/><ellipse cx="371.4" cy="417.8" rx="1.05" ry="0.66" transform="rotate(147 371.4 417.8)"/><line x1="385.8" y1="414.8" x2="380.5" y2="418.3"/><ellipse cx="381.3" cy="417.8" rx="1.05" ry="0.66" transform="rotate(147 381.3 417.8)"/><line x1="395.7" y1="414.8" x2="390.4" y2="418.3"/><ellipse cx="391.2" cy="417.8" rx="1.05" ry="0.66" transform="rotate(147 391.2 417.8)"/><line x1="405.6" y1="414.8" x2="400.3" y2="418.3"/><ellipse cx="401.1" cy="417.8" rx="1.05" ry="0.66" transform="rotate(147 401.1 417.8)"/><line x1="415.5" y1="414.8" x2="410.2" y2="418.3"/><ellipse cx="410.9" cy="417.8" rx="1.05" ry="0.66" transform="rotate(147 410.9 417.8)"/><line x1="425.3" y1="414.8" x2="420.1" y2="418.3"/><ellipse cx="420.8" cy="417.8" rx="1.05" ry="0.66" transform="rotate(147 420.8 417.8)"/><line x1="435.2" y1="414.8" x2="429.9" y2="418.3"/><ellipse cx="430.7" cy="417.8" rx="1.05" ry="0.66" transform="rotate(147 430.7 417.8)"/><line x1="445.1" y1="414.8" x2="439.8" y2="418.3"/><ellipse cx="440.6" cy="417.8" rx="1.05" ry="0.66" transform="rotate(147 440.6 417.8)"/><line x1="326.5" y1="424.5" x2="321.3" y2="427.9"/><ellipse cx="322" cy="427.4" rx="1.05" ry="0.66" transform="rotate(147 322 427.4)"/><line x1="336.4" y1="424.5" x2="331.1" y2="427.9"/><ellipse cx="331.9" cy="427.4" rx="1.05" ry="0.66" transform="rotate(147 331.9 427.4)"/><line x1="346.3" y1="424.5" x2="341" y2="427.9"/><ellipse cx="341.8" cy="427.4" rx="1.05" ry="0.66" transform="rotate(147 341.8 427.4)"/><line x1="356.2" y1="424.5" x2="350.9" y2="427.9"/><ellipse cx="351.7" cy="427.4" rx="1.05" ry="0.66" transform="rotate(147 351.7 427.4)"/><line x1="366.1" y1="424.5" x2="360.8" y2="427.9"/><ellipse cx="361.5" cy="427.4" rx="1.05" ry="0.66" transform="rotate(147 361.5 427.4)"/><line x1="375.9" y1="424.5" x2="370.7" y2="427.9"/><ellipse cx="371.4" cy="427.4" rx="1.05" ry="0.66" transform="rotate(147 371.4 427.4)"/><line x1="385.8" y1="424.5" x2="380.5" y2="427.9"/><ellipse cx="381.3" cy="427.4" rx="1.05" ry="0.66" transform="rotate(147 381.3 427.4)"/><line x1="395.7" y1="424.5" x2="390.4" y2="427.9"/><ellipse cx="391.2" cy="427.4" rx="1.05" ry="0.66" transform="rotate(147 391.2 427.4)"/><line x1="405.6" y1="424.5" x2="400.3" y2="427.9"/><ellipse cx="401.1" cy="427.4" rx="1.05" ry="0.66" transform="rotate(147 401.1 427.4)"/><line x1="415.5" y1="424.5" x2="410.2" y2="427.9"/><ellipse cx="410.9" cy="427.4" rx="1.05" ry="0.66" transform="rotate(147 410.9 427.4)"/><line x1="425.3" y1="424.5" x2="420.1" y2="427.9"/><ellipse cx="420.8" cy="427.4" rx="1.05" ry="0.66" transform="rotate(147 420.8 427.4)"/><line x1="435.2" y1="424.5" x2="429.9" y2="427.9"/><ellipse cx="430.7" cy="427.4" rx="1.05" ry="0.66" transform="rotate(147 430.7 427.4)"/><line x1="445.1" y1="424.5" x2="439.8" y2="427.9"/><ellipse cx="440.6" cy="427.4" rx="1.05" ry="0.66" transform="rotate(147 440.6 427.4)"/></g>
<text x="608.7" y="272.3" font-size="13.4" text-anchor="middle" fill="#1a1a1a" textLength="59.6" lengthAdjust="spacingAndGlyphs">Amplitude</text>
<text x="510.6" y="289" font-size="13.2" text-anchor="start" fill="#1a1a1a">E</text>
<g fill="#f08a86"><circle cx="525.4" cy="278.6" r="0.78"/><circle cx="535.3" cy="278.6" r="0.78"/><circle cx="545.1" cy="278.6" r="0.78"/><circle cx="555" cy="278.6" r="0.78"/><circle cx="564.8" cy="278.6" r="0.78"/><circle cx="574.7" cy="278.6" r="0.78"/><circle cx="584.6" cy="278.6" r="0.78"/><circle cx="594.4" cy="278.6" r="0.78"/><circle cx="525.4" cy="288.3" r="0.78"/><circle cx="535.3" cy="288.3" r="0.78"/><circle cx="545.1" cy="288.3" r="0.78"/><circle cx="555" cy="288.3" r="0.78"/><circle cx="564.8" cy="288.3" r="0.78"/><circle cx="574.7" cy="288.3" r="0.78"/><circle cx="584.6" cy="288.3" r="0.78"/><circle cx="594.4" cy="288.3" r="0.78"/><circle cx="525.4" cy="298" r="0.78"/><circle cx="535.3" cy="298" r="0.78"/><circle cx="545.1" cy="298" r="0.78"/><circle cx="555" cy="298" r="0.78"/><circle cx="564.8" cy="298" r="0.78"/><circle cx="574.7" cy="298" r="0.78"/><circle cx="584.6" cy="298" r="0.78"/><circle cx="525.4" cy="307.7" r="0.78"/><circle cx="535.3" cy="307.7" r="0.78"/><circle cx="545.1" cy="307.7" r="0.78"/><circle cx="555" cy="307.7" r="0.78"/><circle cx="564.8" cy="307.7" r="0.78"/><circle cx="574.7" cy="307.7" r="0.78"/><circle cx="584.6" cy="307.7" r="0.78"/><circle cx="525.4" cy="317.3" r="0.78"/><circle cx="535.3" cy="317.3" r="0.78"/><circle cx="545.1" cy="317.3" r="0.78"/><circle cx="555" cy="317.3" r="0.78"/><circle cx="564.8" cy="317.3" r="0.78"/><circle cx="574.7" cy="317.3" r="0.78"/><circle cx="525.4" cy="327" r="0.78"/><circle cx="535.3" cy="327" r="0.78"/><circle cx="545.1" cy="327" r="0.78"/><circle cx="555" cy="327" r="0.78"/><circle cx="564.8" cy="327" r="0.78"/><circle cx="525.4" cy="336.7" r="0.78"/><circle cx="535.3" cy="336.7" r="0.78"/><circle cx="545.1" cy="336.7" r="0.78"/><circle cx="555" cy="336.7" r="0.78"/><circle cx="525.4" cy="346.4" r="0.78"/><circle cx="535.3" cy="346.4" r="0.78"/><circle cx="545.1" cy="346.4" r="0.78"/><circle cx="525.4" cy="356.1" r="0.78"/><circle cx="535.3" cy="356.1" r="0.78"/><circle cx="525.4" cy="365.8" r="0.78"/><circle cx="525.4" cy="375.5" r="0.78"/><circle cx="525.4" cy="404.5" r="0.78"/><circle cx="525.4" cy="414.2" r="0.78"/><circle cx="535.3" cy="414.2" r="0.78"/><circle cx="525.4" cy="423.9" r="0.78"/><circle cx="535.3" cy="423.9" r="0.78"/><circle cx="545.1" cy="423.9" r="0.78"/></g>
<g clip-path="url(#cE)">
<polygon points="604.3,278.6 604.3,298 594.4,298 594.4,317.3 584.6,317.3 584.6,327 574.7,327 574.7,336.7 564.8,336.7 564.8,346.4 555,346.4 555,356.1 545.1,356.1 545.1,365.8 535.3,365.8 535.3,385.2 525.4,385.2 525.4,394.8 535.3,394.8 535.3,404.5 545.1,404.5 545.1,414.2 555,414.2 555,423.9 673.3,423.9 673.3,278.6" fill="#bb52a4"/>
<polygon points="609.3,302.2 649,292.2 681.3,297.2 681.3,428.7 552.2,428.7 537.3,406.4 542.3,371.7 574.5,339.4 594.4,319.5" fill="#e8599c" opacity="0.9" filter="url(#mb6)"/>
<ellipse cx="556" cy="378" rx="13" ry="3.6" fill="#b951a5" opacity="0.8" filter="url(#mb3)" transform="rotate(-45 556 378)"/>
<ellipse cx="572" cy="366" rx="15" ry="3.6" fill="#b951a5" opacity="0.7" filter="url(#mb3)" transform="rotate(-45 572 366)"/>
<ellipse cx="585" cy="392" rx="16" ry="3.4" fill="#b951a5" opacity="0.7" filter="url(#mb3)" transform="rotate(-45 585 392)"/>
<ellipse cx="600" cy="350" rx="15" ry="3.6" fill="#bd53a4" opacity="0.6" filter="url(#mb3)" transform="rotate(-48 600 350)"/>
<ellipse cx="611" cy="412" rx="7" ry="5" fill="#b350a6" opacity="0.8" filter="url(#mb3)"/>
<ellipse cx="632" cy="408" rx="12" ry="3.6" fill="#b951a5" opacity="0.7" filter="url(#mb3)" transform="rotate(-30 632 408)"/>
<ellipse cx="660" cy="404" rx="9" ry="6" fill="#bb52a4" opacity="0.7" filter="url(#mb3)"/>
<ellipse cx="545" cy="400" rx="8" ry="5" fill="#b951a5" opacity="0.6" filter="url(#mb3)"/>
<ellipse cx="620" cy="318" rx="13" ry="3" fill="#c455a2" opacity="0.5" filter="url(#mb3)" transform="rotate(-30 620 318)"/>
<ellipse cx="640" cy="352" rx="30" ry="15" fill="#f08e5e" opacity="0.9" filter="url(#mb6)" transform="rotate(-14 640 352)"/>
<ellipse cx="643.5" cy="382.6" rx="20" ry="5" fill="#f2925a" opacity="0.9" filter="url(#mb4)" transform="rotate(-39.5 643.5 382.6)"/>
<ellipse cx="628" cy="326.5" rx="21" ry="3.4" fill="#f4a050" opacity="0.8" filter="url(#mb3)"/>
<ellipse cx="652" cy="330" rx="13" ry="3.6" fill="#f6ae4a" opacity="0.9" filter="url(#mb3)" transform="rotate(-58 652 330)"/>
<ellipse cx="616.5" cy="304.8" rx="6.5" ry="2.6" fill="#f6a84e" opacity="0.9" filter="url(#mb3)" transform="rotate(-35 616.5 304.8)"/>
<ellipse cx="636" cy="350" rx="20" ry="7" fill="#f7b246" opacity="0.9" filter="url(#mb4)" transform="rotate(-10 636 350)"/>
<ellipse cx="626" cy="362" rx="14" ry="4" fill="#f39a55" opacity="0.8" filter="url(#mb3)" transform="rotate(-35 626 362)"/>
<ellipse cx="574" cy="404" rx="14" ry="3.2" fill="#ee7f7c" opacity="0.8" filter="url(#mb3)" transform="rotate(-42 574 404)"/>
<ellipse cx="604" cy="385" rx="12" ry="3" fill="#ec7486" opacity="0.6" filter="url(#mb3)" transform="rotate(-42 604 385)"/>
<ellipse cx="556.5" cy="422.5" rx="4.5" ry="5" fill="#f7a848" opacity="1" filter="url(#mb3)"/>
<ellipse cx="662.5" cy="356.5" rx="10" ry="18" fill="#f9c83e" opacity="0.9" filter="url(#mb4)"/>
<ellipse cx="664.5" cy="357" rx="5.8" ry="13" fill="#f7e636" opacity="1" filter="url(#mb3)"/>
<ellipse cx="673" cy="300" rx="3" ry="18" fill="#c055a2" opacity="0.7" filter="url(#mb3)"/>
</g>
<g fill="#151515"><circle cx="604.3" cy="278.6" r="0.8"/><circle cx="614.1" cy="278.6" r="0.8"/><circle cx="624" cy="278.6" r="0.8"/><circle cx="633.9" cy="278.6" r="0.8"/><circle cx="643.7" cy="278.6" r="0.8"/><circle cx="653.6" cy="278.6" r="0.8"/><circle cx="663.4" cy="278.6" r="0.8"/><circle cx="673.3" cy="278.6" r="0.8"/><circle cx="604.3" cy="288.3" r="0.8"/><circle cx="614.1" cy="288.3" r="0.8"/><circle cx="624" cy="288.3" r="0.8"/><circle cx="633.9" cy="288.3" r="0.8"/><circle cx="643.7" cy="288.3" r="0.8"/><circle cx="653.6" cy="288.3" r="0.8"/><circle cx="663.4" cy="288.3" r="0.8"/><circle cx="673.3" cy="288.3" r="0.8"/><circle cx="594.4" cy="298" r="0.8"/><circle cx="604.3" cy="298" r="0.8"/><circle cx="614.1" cy="298" r="0.8"/><circle cx="624" cy="298" r="0.8"/><circle cx="633.9" cy="298" r="0.8"/><circle cx="643.7" cy="298" r="0.8"/><circle cx="653.6" cy="298" r="0.8"/><circle cx="663.4" cy="298" r="0.8"/><circle cx="673.3" cy="298" r="0.8"/><circle cx="594.4" cy="307.7" r="0.8"/><circle cx="604.3" cy="307.7" r="0.8"/><circle cx="614.1" cy="307.7" r="0.8"/><circle cx="624" cy="307.7" r="0.8"/><circle cx="633.9" cy="307.7" r="0.8"/><circle cx="643.7" cy="307.7" r="0.8"/><circle cx="653.6" cy="307.7" r="0.8"/><circle cx="663.4" cy="307.7" r="0.8"/><circle cx="673.3" cy="307.7" r="0.8"/><circle cx="584.6" cy="317.3" r="0.8"/><circle cx="594.4" cy="317.3" r="0.8"/><circle cx="604.3" cy="317.3" r="0.8"/><circle cx="614.1" cy="317.3" r="0.8"/><circle cx="624" cy="317.3" r="0.8"/><circle cx="633.9" cy="317.3" r="0.8"/><circle cx="643.7" cy="317.3" r="0.8"/><circle cx="653.6" cy="317.3" r="0.8"/><circle cx="663.4" cy="317.3" r="0.8"/><circle cx="673.3" cy="317.3" r="0.8"/><circle cx="574.7" cy="327" r="0.8"/><circle cx="584.6" cy="327" r="0.8"/><circle cx="594.4" cy="327" r="0.8"/><circle cx="604.3" cy="327" r="0.8"/><circle cx="614.1" cy="327" r="0.8"/><circle cx="624" cy="327" r="0.8"/><circle cx="633.9" cy="327" r="0.8"/><circle cx="643.7" cy="327" r="0.8"/><circle cx="653.6" cy="327" r="0.8"/><circle cx="663.4" cy="327" r="0.8"/><circle cx="673.3" cy="327" r="0.8"/><circle cx="564.8" cy="336.7" r="0.8"/><circle cx="574.7" cy="336.7" r="0.8"/><circle cx="584.6" cy="336.7" r="0.8"/><circle cx="594.4" cy="336.7" r="0.8"/><circle cx="604.3" cy="336.7" r="0.8"/><circle cx="614.1" cy="336.7" r="0.8"/><circle cx="624" cy="336.7" r="0.8"/><circle cx="633.9" cy="336.7" r="0.8"/><circle cx="643.7" cy="336.7" r="0.8"/><circle cx="653.6" cy="336.7" r="0.8"/><circle cx="663.4" cy="336.7" r="0.8"/><circle cx="673.3" cy="336.7" r="0.8"/><circle cx="555" cy="346.4" r="0.8"/><circle cx="564.8" cy="346.4" r="0.8"/><circle cx="574.7" cy="346.4" r="0.8"/><circle cx="584.6" cy="346.4" r="0.8"/><circle cx="594.4" cy="346.4" r="0.8"/><circle cx="604.3" cy="346.4" r="0.8"/><circle cx="614.1" cy="346.4" r="0.8"/><circle cx="624" cy="346.4" r="0.8"/><circle cx="633.9" cy="346.4" r="0.8"/><circle cx="643.7" cy="346.4" r="0.8"/><circle cx="653.6" cy="346.4" r="0.8"/><circle cx="663.4" cy="346.4" r="0.8"/><circle cx="673.3" cy="346.4" r="0.8"/><circle cx="545.1" cy="356.1" r="0.8"/><circle cx="555" cy="356.1" r="0.8"/><circle cx="564.8" cy="356.1" r="0.8"/><circle cx="574.7" cy="356.1" r="0.8"/><circle cx="584.6" cy="356.1" r="0.8"/><circle cx="594.4" cy="356.1" r="0.8"/><circle cx="604.3" cy="356.1" r="0.8"/><circle cx="614.1" cy="356.1" r="0.8"/><circle cx="624" cy="356.1" r="0.8"/><circle cx="633.9" cy="356.1" r="0.8"/><circle cx="643.7" cy="356.1" r="0.8"/><circle cx="653.6" cy="356.1" r="0.8"/><circle cx="663.4" cy="356.1" r="0.8"/><circle cx="673.3" cy="356.1" r="0.8"/><circle cx="535.3" cy="365.8" r="0.8"/><circle cx="545.1" cy="365.8" r="0.8"/><circle cx="555" cy="365.8" r="0.8"/><circle cx="564.8" cy="365.8" r="0.8"/><circle cx="574.7" cy="365.8" r="0.8"/><circle cx="584.6" cy="365.8" r="0.8"/><circle cx="594.4" cy="365.8" r="0.8"/><circle cx="604.3" cy="365.8" r="0.8"/><circle cx="614.1" cy="365.8" r="0.8"/><circle cx="624" cy="365.8" r="0.8"/><circle cx="633.9" cy="365.8" r="0.8"/><circle cx="643.7" cy="365.8" r="0.8"/><circle cx="653.6" cy="365.8" r="0.8"/><circle cx="663.4" cy="365.8" r="0.8"/><circle cx="673.3" cy="365.8" r="0.8"/><circle cx="535.3" cy="375.5" r="0.8"/><circle cx="545.1" cy="375.5" r="0.8"/><circle cx="555" cy="375.5" r="0.8"/><circle cx="564.8" cy="375.5" r="0.8"/><circle cx="574.7" cy="375.5" r="0.8"/><circle cx="584.6" cy="375.5" r="0.8"/><circle cx="594.4" cy="375.5" r="0.8"/><circle cx="604.3" cy="375.5" r="0.8"/><circle cx="614.1" cy="375.5" r="0.8"/><circle cx="624" cy="375.5" r="0.8"/><circle cx="633.9" cy="375.5" r="0.8"/><circle cx="643.7" cy="375.5" r="0.8"/><circle cx="653.6" cy="375.5" r="0.8"/><circle cx="663.4" cy="375.5" r="0.8"/><circle cx="673.3" cy="375.5" r="0.8"/><circle cx="525.4" cy="385.2" r="0.8"/><circle cx="535.3" cy="385.2" r="0.8"/><circle cx="545.1" cy="385.2" r="0.8"/><circle cx="555" cy="385.2" r="0.8"/><circle cx="564.8" cy="385.2" r="0.8"/><circle cx="574.7" cy="385.2" r="0.8"/><circle cx="584.6" cy="385.2" r="0.8"/><circle cx="594.4" cy="385.2" r="0.8"/><circle cx="604.3" cy="385.2" r="0.8"/><circle cx="614.1" cy="385.2" r="0.8"/><circle cx="624" cy="385.2" r="0.8"/><circle cx="633.9" cy="385.2" r="0.8"/><circle cx="643.7" cy="385.2" r="0.8"/><circle cx="653.6" cy="385.2" r="0.8"/><circle cx="663.4" cy="385.2" r="0.8"/><circle cx="673.3" cy="385.2" r="0.8"/><circle cx="525.4" cy="394.8" r="0.8"/><circle cx="535.3" cy="394.8" r="0.8"/><circle cx="545.1" cy="394.8" r="0.8"/><circle cx="555" cy="394.8" r="0.8"/><circle cx="564.8" cy="394.8" r="0.8"/><circle cx="574.7" cy="394.8" r="0.8"/><circle cx="584.6" cy="394.8" r="0.8"/><circle cx="594.4" cy="394.8" r="0.8"/><circle cx="604.3" cy="394.8" r="0.8"/><circle cx="614.1" cy="394.8" r="0.8"/><circle cx="624" cy="394.8" r="0.8"/><circle cx="633.9" cy="394.8" r="0.8"/><circle cx="643.7" cy="394.8" r="0.8"/><circle cx="653.6" cy="394.8" r="0.8"/><circle cx="663.4" cy="394.8" r="0.8"/><circle cx="673.3" cy="394.8" r="0.8"/><circle cx="535.3" cy="404.5" r="0.8"/><circle cx="545.1" cy="404.5" r="0.8"/><circle cx="555" cy="404.5" r="0.8"/><circle cx="564.8" cy="404.5" r="0.8"/><circle cx="574.7" cy="404.5" r="0.8"/><circle cx="584.6" cy="404.5" r="0.8"/><circle cx="594.4" cy="404.5" r="0.8"/><circle cx="604.3" cy="404.5" r="0.8"/><circle cx="614.1" cy="404.5" r="0.8"/><circle cx="624" cy="404.5" r="0.8"/><circle cx="633.9" cy="404.5" r="0.8"/><circle cx="643.7" cy="404.5" r="0.8"/><circle cx="653.6" cy="404.5" r="0.8"/><circle cx="663.4" cy="404.5" r="0.8"/><circle cx="673.3" cy="404.5" r="0.8"/><circle cx="545.1" cy="414.2" r="0.8"/><circle cx="555" cy="414.2" r="0.8"/><circle cx="564.8" cy="414.2" r="0.8"/><circle cx="574.7" cy="414.2" r="0.8"/><circle cx="584.6" cy="414.2" r="0.8"/><circle cx="594.4" cy="414.2" r="0.8"/><circle cx="604.3" cy="414.2" r="0.8"/><circle cx="614.1" cy="414.2" r="0.8"/><circle cx="624" cy="414.2" r="0.8"/><circle cx="633.9" cy="414.2" r="0.8"/><circle cx="643.7" cy="414.2" r="0.8"/><circle cx="653.6" cy="414.2" r="0.8"/><circle cx="663.4" cy="414.2" r="0.8"/><circle cx="673.3" cy="414.2" r="0.8"/><circle cx="555" cy="423.9" r="0.8"/><circle cx="564.8" cy="423.9" r="0.8"/><circle cx="574.7" cy="423.9" r="0.8"/><circle cx="584.6" cy="423.9" r="0.8"/><circle cx="594.4" cy="423.9" r="0.8"/><circle cx="604.3" cy="423.9" r="0.8"/><circle cx="614.1" cy="423.9" r="0.8"/><circle cx="624" cy="423.9" r="0.8"/><circle cx="633.9" cy="423.9" r="0.8"/><circle cx="643.7" cy="423.9" r="0.8"/><circle cx="653.6" cy="423.9" r="0.8"/><circle cx="663.4" cy="423.9" r="0.8"/><circle cx="673.3" cy="423.9" r="0.8"/></g>
<text x="144.6" y="714.6" font-size="13.2" text-anchor="middle" fill="#1a1a1a" textLength="139.3" lengthAdjust="spacingAndGlyphs">Slow wave propagation</text>
<text x="48.6" y="734.2" font-size="13" text-anchor="start" fill="#1a1a1a">H</text>
<g fill="#f08a86"><circle cx="64.5" cy="723.6" r="0.78"/><circle cx="74.5" cy="723.6" r="0.78"/><circle cx="84.5" cy="723.6" r="0.78"/><circle cx="94.4" cy="723.6" r="0.78"/><circle cx="104.4" cy="723.6" r="0.78"/><circle cx="114.4" cy="723.6" r="0.78"/><circle cx="124.4" cy="723.6" r="0.78"/><circle cx="134.4" cy="723.6" r="0.78"/><circle cx="144.3" cy="723.6" r="0.78"/><circle cx="154.3" cy="723.6" r="0.78"/><circle cx="164.3" cy="723.6" r="0.78"/><circle cx="174.3" cy="723.6" r="0.78"/><circle cx="184.3" cy="723.6" r="0.78"/><circle cx="64.5" cy="733.1" r="0.78"/><circle cx="74.5" cy="733.1" r="0.78"/><circle cx="84.5" cy="733.1" r="0.78"/><circle cx="94.4" cy="733.1" r="0.78"/><circle cx="104.4" cy="733.1" r="0.78"/><circle cx="114.4" cy="733.1" r="0.78"/><circle cx="124.4" cy="733.1" r="0.78"/><circle cx="134.4" cy="733.1" r="0.78"/><circle cx="144.3" cy="733.1" r="0.78"/><circle cx="154.3" cy="733.1" r="0.78"/><circle cx="164.3" cy="733.1" r="0.78"/><circle cx="174.3" cy="733.1" r="0.78"/><circle cx="64.5" cy="742.7" r="0.78"/><circle cx="74.5" cy="742.7" r="0.78"/><circle cx="84.5" cy="742.7" r="0.78"/><circle cx="94.4" cy="742.7" r="0.78"/><circle cx="104.4" cy="742.7" r="0.78"/><circle cx="114.4" cy="742.7" r="0.78"/><circle cx="124.4" cy="742.7" r="0.78"/><circle cx="134.4" cy="742.7" r="0.78"/><circle cx="144.3" cy="742.7" r="0.78"/><circle cx="154.3" cy="742.7" r="0.78"/><circle cx="164.3" cy="742.7" r="0.78"/><circle cx="64.5" cy="752.2" r="0.78"/><circle cx="74.5" cy="752.2" r="0.78"/><circle cx="84.5" cy="752.2" r="0.78"/><circle cx="94.4" cy="752.2" r="0.78"/><circle cx="104.4" cy="752.2" r="0.78"/><circle cx="114.4" cy="752.2" r="0.78"/><circle cx="124.4" cy="752.2" r="0.78"/><circle cx="134.4" cy="752.2" r="0.78"/><circle cx="144.3" cy="752.2" r="0.78"/><circle cx="154.3" cy="752.2" r="0.78"/><circle cx="164.3" cy="752.2" r="0.78"/><circle cx="64.5" cy="761.8" r="0.78"/><circle cx="74.5" cy="761.8" r="0.78"/><circle cx="84.5" cy="761.8" r="0.78"/><circle cx="94.4" cy="761.8" r="0.78"/><circle cx="104.4" cy="761.8" r="0.78"/><circle cx="114.4" cy="761.8" r="0.78"/><circle cx="124.4" cy="761.8" r="0.78"/><circle cx="134.4" cy="761.8" r="0.78"/><circle cx="144.3" cy="761.8" r="0.78"/><circle cx="154.3" cy="761.8" r="0.78"/><circle cx="64.5" cy="771.3" r="0.78"/><circle cx="74.5" cy="771.3" r="0.78"/><circle cx="84.5" cy="771.3" r="0.78"/><circle cx="94.4" cy="771.3" r="0.78"/><circle cx="104.4" cy="771.3" r="0.78"/><circle cx="114.4" cy="771.3" r="0.78"/><circle cx="124.4" cy="771.3" r="0.78"/><circle cx="64.5" cy="780.9" r="0.78"/><circle cx="74.5" cy="780.9" r="0.78"/><circle cx="84.5" cy="780.9" r="0.78"/><circle cx="94.4" cy="780.9" r="0.78"/><circle cx="104.4" cy="780.9" r="0.78"/><circle cx="114.4" cy="780.9" r="0.78"/><circle cx="64.5" cy="790.4" r="0.78"/><circle cx="74.5" cy="790.4" r="0.78"/><circle cx="84.5" cy="790.4" r="0.78"/><circle cx="94.4" cy="790.4" r="0.78"/><circle cx="104.4" cy="790.4" r="0.78"/><circle cx="64.5" cy="800" r="0.78"/><circle cx="74.5" cy="800" r="0.78"/><circle cx="84.5" cy="800" r="0.78"/><circle cx="94.4" cy="800" r="0.78"/><circle cx="64.5" cy="809.5" r="0.78"/><circle cx="74.5" cy="809.5" r="0.78"/><circle cx="84.5" cy="809.5" r="0.78"/><circle cx="64.5" cy="819.1" r="0.78"/><circle cx="74.5" cy="819.1" r="0.78"/><circle cx="84.5" cy="819.1" r="0.78"/><circle cx="64.5" cy="828.6" r="0.78"/><circle cx="74.5" cy="828.6" r="0.78"/><circle cx="84.5" cy="828.6" r="0.78"/><circle cx="64.5" cy="838.2" r="0.78"/><circle cx="74.5" cy="838.2" r="0.78"/><circle cx="64.5" cy="847.7" r="0.78"/></g>
<g clip-path="url(#cH)">
<polygon points="194.3,723.3 214.4,723.3 214.4,867 64.6,867 64.6,857.3 85.6,837 85.6,828.3 95,819 95,809.5 134.1,771.2 154.2,771.2 174.2,752.7 174.2,742.3" fill="#e1262a"/>
<polygon points="203.9,728.2 212.8,727.2 214.7,730.3 214.7,733.5 204.7,732" fill="#e8502a" stroke="#2a2a2a" stroke-width="0.35" stroke-linejoin="round"/>
<polygon points="173.4,753.2 183.9,754.3 193.5,753.5 203.1,754.3 209.6,757.6 216,761.9 216,771.5 206.4,773.6 196.7,775.7 187.1,775.2 180.7,776.8 174.2,778.4 164.6,771.5 158.2,773.6 152.1,771.5" fill="#c5202b" stroke="#2a2a2a" stroke-width="0.35" stroke-linejoin="round"/>
<polygon points="142,770.8 144.7,771.3 152.6,776.4 163.9,779.2 172.7,781.3 177.1,790 177.1,825.1 29.9,825.1 29.9,770.8" fill="#e8472a" stroke="#2a2a2a" stroke-width="0.35" stroke-linejoin="round"/>
<polygon points="-1000,794.6 110.5,794.6 113.1,792.1 117.5,790 126.3,791.8 135,794.4 145.6,797 154.3,799.7 159.6,794.4 163.9,790.9 173.6,789.7 215.6,789.3 1000,789.3 1000,1000 -1000,1000" fill="#f07f22" stroke="#2a2a2a" stroke-width="0.35" stroke-linejoin="round"/>
<polygon points="-1000,797 107.9,797 110.5,794.9 117.5,792.7 126.3,794.4 135,797 145.6,799.7 154.3,802 160.4,796.2 164.8,792.1 173.6,790.9 215.6,790.6 1000,790.6 1000,1000 -1000,1000" fill="#fbb41c" stroke="#2a2a2a" stroke-width="0.35" stroke-linejoin="round"/>
<polygon points="-1000,798.8 105.3,798.8 107.9,797 117.5,794.9 126.3,796.7 135,799.1 145.6,802 155.2,803.7 161.3,797.9 165.2,793.5 173.6,792.1 215.6,791.8 1000,791.8 1000,1000 -1000,1000" fill="#efe32d" stroke="#2a2a2a" stroke-width="0.35" stroke-linejoin="round"/>
<polygon points="-1000,800.2 103.5,800.2 106.1,798.8 112.3,798.4 117.5,797 126.3,798.8 135,801.4 145.6,804.1 155.7,805.8 161.7,799.7 165.5,794.9 173.6,793.4 215.6,793 1000,793 1000,1000 -1000,1000" fill="#b5d334" stroke="#2a2a2a" stroke-width="0.35" stroke-linejoin="round"/>
<polygon points="161.7,800.9 165.9,796.3 173.6,794.8 215.6,794.4 215.6,803.4 198.1,804.2 184.1,805.1 173.6,804.2 166.6,803.4" fill="#8dc863" stroke="#2a2a2a" stroke-width="0.35" stroke-linejoin="round"/>
<polygon points="-1000,814.4 95,817.4 106.7,820.2 120.7,822 134.7,824.8 144.1,828.4 153.4,833.3 162.8,840 172.1,847.7 181.5,852.9 187.3,858.3 189.6,868.8 189.6,1000 -1000,1000" fill="#8dc863" stroke="#2a2a2a" stroke-width="0.35" stroke-linejoin="round"/>
<polygon points="-1000,822.6 91.5,825.6 106.7,827.9 120.7,830.2 134.7,836.1 144.1,843.1 153.4,852.4 158.1,859.4 160.4,868.8 160.4,1000 -1000,1000" fill="#72c5a4" stroke="#2a2a2a" stroke-width="0.35" stroke-linejoin="round"/>
<polygon points="-1000,824.9 86.9,827.9 102,832.6 116.1,837.2 127.7,845.4 134.7,854.7 139.4,861.8 140.6,868.8 140.6,1000 -1000,1000" fill="#6ccade" stroke="#2a2a2a" stroke-width="0.35" stroke-linejoin="round"/>
<polygon points="-1000,827.2 84.5,830.2 97.4,837.2 109.1,843.1 118.4,850.1 123.1,859.4 126.6,868.8 126.6,1000 -1000,1000" fill="#52a9db" stroke="#2a2a2a" stroke-width="0.35" stroke-linejoin="round"/>
<polygon points="-1000,831.9 81,834.9 92.7,841.9 102,846.6 106.7,852.4 110.2,860.6 111.4,868.8 111.4,1000 -1000,1000" fill="#4279be" stroke="#2a2a2a" stroke-width="0.35" stroke-linejoin="round"/>
<polygon points="-1000,841.2 74,844.2 83.4,847.7 90.4,850.1 95,854.7 92.7,861.8 91.5,868.8 91.5,1000 -1000,1000" fill="#3b55a5" stroke="#2a2a2a" stroke-width="0.35" stroke-linejoin="round"/>
<polygon points="-1000,854.6 64.7,857.6 74,855.2 81,857.6 83.4,868.8 83.4,1000 -1000,1000" fill="#394a9f" stroke="#2a2a2a" stroke-width="0.35" stroke-linejoin="round"/>
<polygon points="160.4,799.9 163.9,803.4 167.5,808.5 181.5,812.7 195.5,815 216.5,817.4 216.5,842.6 204.8,841.2 193.1,838.4 181.5,833.7 169.8,826.7 158.1,820.9 144.1,818.5 134.7,815 125.4,809.2 116.1,803.4 130.1,805.7 144.1,809.2 153.4,806.2" fill="#efe32d" stroke="#2a2a2a" stroke-width="0.35" stroke-linejoin="round"/>
<polygon points="153.4,809.7 156.2,809.2 155.5,812.7 154.4,815.5" fill="#b5d334" stroke="#2a2a2a" stroke-width="0.35" stroke-linejoin="round"/>
<polygon points="216.5,829.1 211.8,830.7 209.5,834.2 211.8,837.2 216.5,838.4" fill="#fbb41c" stroke="#2a2a2a" stroke-width="0.35" stroke-linejoin="round"/>
</g>
<g fill="#151515"><circle cx="194.2" cy="723.6" r="0.7"/><circle cx="204.2" cy="723.6" r="0.7"/><circle cx="214.2" cy="723.6" r="0.7"/><circle cx="184.3" cy="733.1" r="0.7"/><circle cx="194.2" cy="733.1" r="0.7"/><circle cx="204.2" cy="733.1" r="0.7"/><circle cx="214.2" cy="733.1" r="0.7"/><circle cx="174.3" cy="742.7" r="0.7"/><circle cx="184.3" cy="742.7" r="0.7"/><circle cx="194.2" cy="742.7" r="0.7"/><circle cx="204.2" cy="742.7" r="0.7"/><circle cx="214.2" cy="742.7" r="0.7"/><circle cx="174.3" cy="752.2" r="0.7"/><circle cx="184.3" cy="752.2" r="0.7"/><circle cx="194.2" cy="752.2" r="0.7"/><circle cx="204.2" cy="752.2" r="0.7"/><circle cx="214.2" cy="752.2" r="0.7"/><circle cx="164.3" cy="761.8" r="0.7"/><circle cx="174.3" cy="761.8" r="0.7"/><circle cx="184.3" cy="761.8" r="0.7"/><circle cx="194.2" cy="761.8" r="0.7"/><circle cx="204.2" cy="761.8" r="0.7"/><circle cx="214.2" cy="761.8" r="0.7"/><circle cx="134.4" cy="771.3" r="0.7"/><circle cx="144.3" cy="771.3" r="0.7"/><circle cx="154.3" cy="771.3" r="0.7"/><circle cx="164.3" cy="771.3" r="0.7"/><circle cx="174.3" cy="771.3" r="0.7"/><circle cx="184.3" cy="771.3" r="0.7"/><circle cx="194.2" cy="771.3" r="0.7"/><circle cx="204.2" cy="771.3" r="0.7"/><circle cx="214.2" cy="771.3" r="0.7"/><circle cx="124.4" cy="780.9" r="0.7"/><circle cx="134.4" cy="780.9" r="0.7"/><circle cx="144.3" cy="780.9" r="0.7"/><circle cx="154.3" cy="780.9" r="0.7"/><circle cx="164.3" cy="780.9" r="0.7"/><circle cx="174.3" cy="780.9" r="0.7"/><circle cx="184.3" cy="780.9" r="0.7"/><circle cx="194.2" cy="780.9" r="0.7"/><circle cx="204.2" cy="780.9" r="0.7"/><circle cx="214.2" cy="780.9" r="0.7"/><circle cx="114.4" cy="790.4" r="0.7"/><circle cx="124.4" cy="790.4" r="0.7"/><circle cx="134.4" cy="790.4" r="0.7"/><circle cx="144.3" cy="790.4" r="0.7"/><circle cx="154.3" cy="790.4" r="0.7"/><circle cx="164.3" cy="790.4" r="0.7"/><circle cx="174.3" cy="790.4" r="0.7"/><circle cx="184.3" cy="790.4" r="0.7"/><circle cx="194.2" cy="790.4" r="0.7"/><circle cx="204.2" cy="790.4" r="0.7"/><circle cx="214.2" cy="790.4" r="0.7"/><circle cx="104.4" cy="800" r="0.7"/><circle cx="114.4" cy="800" r="0.7"/><circle cx="124.4" cy="800" r="0.7"/><circle cx="134.4" cy="800" r="0.7"/><circle cx="144.3" cy="800" r="0.7"/><circle cx="154.3" cy="800" r="0.7"/><circle cx="164.3" cy="800" r="0.7"/><circle cx="174.3" cy="800" r="0.7"/><circle cx="184.3" cy="800" r="0.7"/><circle cx="194.2" cy="800" r="0.7"/><circle cx="204.2" cy="800" r="0.7"/><circle cx="214.2" cy="800" r="0.7"/><circle cx="94.4" cy="809.5" r="0.7"/><circle cx="104.4" cy="809.5" r="0.7"/><circle cx="114.4" cy="809.5" r="0.7"/><circle cx="124.4" cy="809.5" r="0.7"/><circle cx="134.4" cy="809.5" r="0.7"/><circle cx="144.3" cy="809.5" r="0.7"/><circle cx="154.3" cy="809.5" r="0.7"/><circle cx="164.3" cy="809.5" r="0.7"/><circle cx="174.3" cy="809.5" r="0.7"/><circle cx="184.3" cy="809.5" r="0.7"/><circle cx="194.2" cy="809.5" r="0.7"/><circle cx="204.2" cy="809.5" r="0.7"/><circle cx="214.2" cy="809.5" r="0.7"/><circle cx="94.4" cy="819.1" r="0.7"/><circle cx="104.4" cy="819.1" r="0.7"/><circle cx="114.4" cy="819.1" r="0.7"/><circle cx="124.4" cy="819.1" r="0.7"/><circle cx="134.4" cy="819.1" r="0.7"/><circle cx="144.3" cy="819.1" r="0.7"/><circle cx="154.3" cy="819.1" r="0.7"/><circle cx="164.3" cy="819.1" r="0.7"/><circle cx="174.3" cy="819.1" r="0.7"/><circle cx="184.3" cy="819.1" r="0.7"/><circle cx="194.2" cy="819.1" r="0.7"/><circle cx="204.2" cy="819.1" r="0.7"/><circle cx="214.2" cy="819.1" r="0.7"/><circle cx="94.4" cy="828.6" r="0.7"/><circle cx="104.4" cy="828.6" r="0.7"/><circle cx="114.4" cy="828.6" r="0.7"/><circle cx="124.4" cy="828.6" r="0.7"/><circle cx="134.4" cy="828.6" r="0.7"/><circle cx="144.3" cy="828.6" r="0.7"/><circle cx="154.3" cy="828.6" r="0.7"/><circle cx="164.3" cy="828.6" r="0.7"/><circle cx="174.3" cy="828.6" r="0.7"/><circle cx="184.3" cy="828.6" r="0.7"/><circle cx="194.2" cy="828.6" r="0.7"/><circle cx="204.2" cy="828.6" r="0.7"/><circle cx="214.2" cy="828.6" r="0.7"/><circle cx="84.5" cy="838.2" r="0.7"/><circle cx="94.4" cy="838.2" r="0.7"/><circle cx="104.4" cy="838.2" r="0.7"/><circle cx="114.4" cy="838.2" r="0.7"/><circle cx="124.4" cy="838.2" r="0.7"/><circle cx="134.4" cy="838.2" r="0.7"/><circle cx="144.3" cy="838.2" r="0.7"/><circle cx="154.3" cy="838.2" r="0.7"/><circle cx="164.3" cy="838.2" r="0.7"/><circle cx="174.3" cy="838.2" r="0.7"/><circle cx="184.3" cy="838.2" r="0.7"/><circle cx="194.2" cy="838.2" r="0.7"/><circle cx="204.2" cy="838.2" r="0.7"/><circle cx="214.2" cy="838.2" r="0.7"/><circle cx="74.5" cy="847.7" r="0.7"/><circle cx="84.5" cy="847.7" r="0.7"/><circle cx="94.4" cy="847.7" r="0.7"/><circle cx="104.4" cy="847.7" r="0.7"/><circle cx="114.4" cy="847.7" r="0.7"/><circle cx="124.4" cy="847.7" r="0.7"/><circle cx="134.4" cy="847.7" r="0.7"/><circle cx="144.3" cy="847.7" r="0.7"/><circle cx="154.3" cy="847.7" r="0.7"/><circle cx="164.3" cy="847.7" r="0.7"/><circle cx="174.3" cy="847.7" r="0.7"/><circle cx="184.3" cy="847.7" r="0.7"/><circle cx="194.2" cy="847.7" r="0.7"/><circle cx="204.2" cy="847.7" r="0.7"/><circle cx="214.2" cy="847.7" r="0.7"/><circle cx="64.5" cy="857.3" r="0.7"/><circle cx="74.5" cy="857.3" r="0.7"/><circle cx="84.5" cy="857.3" r="0.7"/><circle cx="94.4" cy="857.3" r="0.7"/><circle cx="104.4" cy="857.3" r="0.7"/><circle cx="114.4" cy="857.3" r="0.7"/><circle cx="124.4" cy="857.3" r="0.7"/><circle cx="134.4" cy="857.3" r="0.7"/><circle cx="144.3" cy="857.3" r="0.7"/><circle cx="154.3" cy="857.3" r="0.7"/><circle cx="164.3" cy="857.3" r="0.7"/><circle cx="174.3" cy="857.3" r="0.7"/><circle cx="184.3" cy="857.3" r="0.7"/><circle cx="194.2" cy="857.3" r="0.7"/><circle cx="204.2" cy="857.3" r="0.7"/><circle cx="214.2" cy="857.3" r="0.7"/><circle cx="64.5" cy="866.8" r="0.7"/><circle cx="74.5" cy="866.8" r="0.7"/><circle cx="84.5" cy="866.8" r="0.7"/><circle cx="94.4" cy="866.8" r="0.7"/><circle cx="104.4" cy="866.8" r="0.7"/><circle cx="114.4" cy="866.8" r="0.7"/><circle cx="124.4" cy="866.8" r="0.7"/><circle cx="134.4" cy="866.8" r="0.7"/><circle cx="144.3" cy="866.8" r="0.7"/><circle cx="154.3" cy="866.8" r="0.7"/><circle cx="164.3" cy="866.8" r="0.7"/><circle cx="174.3" cy="866.8" r="0.7"/><circle cx="184.3" cy="866.8" r="0.7"/><circle cx="194.2" cy="866.8" r="0.7"/><circle cx="204.2" cy="866.8" r="0.7"/><circle cx="214.2" cy="866.8" r="0.7"/></g>
<text x="172.6" y="784.7" font-size="6.2" text-anchor="middle" fill="#5a2a14">2</text>
<text x="172.6" y="795.1" font-size="6.2" text-anchor="middle" fill="#5a2a14">3</text>
<text x="172.6" y="805.6" font-size="6.2" text-anchor="middle" fill="#5a2a14">4</text>
<text x="172.6" y="816" font-size="6.2" text-anchor="middle" fill="#5a2a14">5</text>
<text x="172.6" y="826.5" font-size="6.2" text-anchor="middle" fill="#5a2a14">6</text>
<text x="172.6" y="836.9" font-size="6.2" text-anchor="middle" fill="#5a2a14">7</text>
<text x="172.6" y="847.4" font-size="6.2" text-anchor="middle" fill="#5a2a14">8</text>
<rect x="178.7" y="768.8" width="10.4" height="89.5" rx="5" ry="5" fill="none" stroke="#1c1c1c" stroke-width="0.8"/>
<circle cx="173.3" cy="772" r="4.6" fill="#fff" stroke="#222" stroke-width="0.7"/>
<text x="173.3" y="775.2" font-size="8.6" text-anchor="middle" fill="#111">1</text>
<circle cx="173.5" cy="855.4" r="4.6" fill="#fff" stroke="#222" stroke-width="0.7"/>
<text x="173.5" y="858.6" font-size="8.6" text-anchor="middle" fill="#111">9</text>
<line x1="204.2" y1="760.5" x2="199.5" y2="793" stroke="#1a1010" stroke-width="0.8"/>
<polyline points="198.2,789.7 199.5,793 201.7,790.2" fill="none" stroke="#1a1010" stroke-width="0.8"/>
<line x1="210.5" y1="824" x2="199.5" y2="801.5" stroke="#1a1010" stroke-width="0.8"/>
<polyline points="202.5,803.5 199.5,801.5 199.3,805.1" fill="none" stroke="#1a1010" stroke-width="0.8"/>
<path d="M214 828.5 Q190 828 164.5 825.8" fill="none" stroke="#1a1010" stroke-width="0.8"/>
<line x1="170" y1="826.2" x2="163.5" y2="825.7" stroke="#1a1010" stroke-width="0.8"/>
<polyline points="166.7,824.1 163.5,825.7 166.5,827.7" fill="none" stroke="#1a1010" stroke-width="0.8"/>
<g stroke="#1a1010" stroke-width="0.7"><line x1="196.5" y1="795.2" x2="203.5" y2="796.2"/><line x1="196.3" y1="797" x2="203.3" y2="798"/><line x1="196.1" y1="798.8" x2="203.1" y2="799.8"/></g>
<rect x="66.3" y="883.9" width="8.3" height="10" fill="#d8232a"/><rect x="74.3" y="883.9" width="8.3" height="10" fill="#e1262a"/><rect x="82.2" y="883.9" width="8.3" height="10" fill="#e8472a"/><rect x="90.2" y="883.9" width="8.3" height="10" fill="#ee6b25"/><rect x="98.2" y="883.9" width="8.3" height="10" fill="#f48c20"/><rect x="106.1" y="883.9" width="8.3" height="10" fill="#fbb41c"/><rect x="114.1" y="883.9" width="8.3" height="10" fill="#f5dc28"/><rect x="122" y="883.9" width="8.3" height="10" fill="#e3e22f"/><rect x="130" y="883.9" width="8.3" height="10" fill="#b9d535"/><rect x="138" y="883.9" width="8.3" height="10" fill="#98cc55"/><rect x="145.9" y="883.9" width="8.3" height="10" fill="#82c882"/><rect x="153.9" y="883.9" width="8.3" height="10" fill="#70c6a6"/><rect x="161.9" y="883.9" width="8.3" height="10" fill="#68c9d6"/><rect x="169.8" y="883.9" width="8.3" height="10" fill="#57b4e1"/><rect x="177.8" y="883.9" width="8.3" height="10" fill="#4a97d4"/><rect x="185.7" y="883.9" width="8.3" height="10" fill="#4279bf"/><rect x="193.7" y="883.9" width="8.3" height="10" fill="#3c62b1"/><rect x="201.7" y="883.9" width="8.3" height="10" fill="#3a52a6"/><rect x="209.6" y="883.9" width="8.3" height="10" fill="#38459c"/>
<text x="65.8" y="904.5" font-size="9.8" text-anchor="start" fill="#1a1a1a">1s</text>
<text x="218.2" y="904.5" font-size="9.8" text-anchor="end" fill="#1a1a1a">19s</text>
<text x="374.2" y="714.4" font-size="13.4" text-anchor="middle" fill="#1a1a1a" textLength="46.4" lengthAdjust="spacingAndGlyphs">Velocity</text>
<text x="282.5" y="734.2" font-size="13.2" text-anchor="start" fill="#1a1a1a">I</text>
<g fill="#f08a86"><circle cx="296.2" cy="723.6" r="0.78"/><circle cx="306.3" cy="723.6" r="0.78"/><circle cx="316.4" cy="723.6" r="0.78"/><circle cx="326.5" cy="723.6" r="0.78"/><circle cx="336.6" cy="723.6" r="0.78"/><circle cx="346.7" cy="723.6" r="0.78"/><circle cx="356.8" cy="723.6" r="0.78"/><circle cx="366.9" cy="723.6" r="0.78"/><circle cx="376.9" cy="723.6" r="0.78"/><circle cx="387" cy="723.6" r="0.78"/><circle cx="397.1" cy="723.6" r="0.78"/><circle cx="407.2" cy="723.6" r="0.78"/><circle cx="417.3" cy="723.6" r="0.78"/><circle cx="296.2" cy="733.1" r="0.78"/><circle cx="306.3" cy="733.1" r="0.78"/><circle cx="316.4" cy="733.1" r="0.78"/><circle cx="326.5" cy="733.1" r="0.78"/><circle cx="336.6" cy="733.1" r="0.78"/><circle cx="346.7" cy="733.1" r="0.78"/><circle cx="356.8" cy="733.1" r="0.78"/><circle cx="366.9" cy="733.1" r="0.78"/><circle cx="376.9" cy="733.1" r="0.78"/><circle cx="387" cy="733.1" r="0.78"/><circle cx="397.1" cy="733.1" r="0.78"/><circle cx="407.2" cy="733.1" r="0.78"/><circle cx="296.2" cy="742.7" r="0.78"/><circle cx="306.3" cy="742.7" r="0.78"/><circle cx="316.4" cy="742.7" r="0.78"/><circle cx="326.5" cy="742.7" r="0.78"/><circle cx="336.6" cy="742.7" r="0.78"/><circle cx="346.7" cy="742.7" r="0.78"/><circle cx="356.8" cy="742.7" r="0.78"/><circle cx="366.9" cy="742.7" r="0.78"/><circle cx="376.9" cy="742.7" r="0.78"/><circle cx="387" cy="742.7" r="0.78"/><circle cx="397.1" cy="742.7" r="0.78"/><circle cx="296.2" cy="752.2" r="0.78"/><circle cx="306.3" cy="752.2" r="0.78"/><circle cx="316.4" cy="752.2" r="0.78"/><circle cx="326.5" cy="752.2" r="0.78"/><circle cx="336.6" cy="752.2" r="0.78"/><circle cx="346.7" cy="752.2" r="0.78"/><circle cx="356.8" cy="752.2" r="0.78"/><circle cx="366.9" cy="752.2" r="0.78"/><circle cx="376.9" cy="752.2" r="0.78"/><circle cx="387" cy="752.2" r="0.78"/><circle cx="397.1" cy="752.2" r="0.78"/><circle cx="296.2" cy="761.8" r="0.78"/><circle cx="306.3" cy="761.8" r="0.78"/><circle cx="316.4" cy="761.8" r="0.78"/><circle cx="326.5" cy="761.8" r="0.78"/><circle cx="336.6" cy="761.8" r="0.78"/><circle cx="346.7" cy="761.8" r="0.78"/><circle cx="356.8" cy="761.8" r="0.78"/><circle cx="366.9" cy="761.8" r="0.78"/><circle cx="376.9" cy="761.8" r="0.78"/><circle cx="387" cy="761.8" r="0.78"/><circle cx="296.2" cy="771.3" r="0.78"/><circle cx="306.3" cy="771.3" r="0.78"/><circle cx="316.4" cy="771.3" r="0.78"/><circle cx="326.5" cy="771.3" r="0.78"/><circle cx="336.6" cy="771.3" r="0.78"/><circle cx="346.7" cy="771.3" r="0.78"/><circle cx="356.8" cy="771.3" r="0.78"/><circle cx="296.2" cy="780.9" r="0.78"/><circle cx="306.3" cy="780.9" r="0.78"/><circle cx="316.4" cy="780.9" r="0.78"/><circle cx="326.5" cy="780.9" r="0.78"/><circle cx="336.6" cy="780.9" r="0.78"/><circle cx="346.7" cy="780.9" r="0.78"/><circle cx="296.2" cy="790.4" r="0.78"/><circle cx="306.3" cy="790.4" r="0.78"/><circle cx="316.4" cy="790.4" r="0.78"/><circle cx="326.5" cy="790.4" r="0.78"/><circle cx="336.6" cy="790.4" r="0.78"/><circle cx="296.2" cy="800" r="0.78"/><circle cx="306.3" cy="800" r="0.78"/><circle cx="316.4" cy="800" r="0.78"/><circle cx="326.5" cy="800" r="0.78"/><circle cx="296.2" cy="809.5" r="0.78"/><circle cx="306.3" cy="809.5" r="0.78"/><circle cx="316.4" cy="809.5" r="0.78"/><circle cx="326.5" cy="809.5" r="0.78"/><circle cx="296.2" cy="819.1" r="0.78"/><circle cx="306.3" cy="819.1" r="0.78"/><circle cx="316.4" cy="819.1" r="0.78"/><circle cx="326.5" cy="819.1" r="0.78"/><circle cx="296.2" cy="828.6" r="0.78"/><circle cx="306.3" cy="828.6" r="0.78"/><circle cx="316.4" cy="828.6" r="0.78"/><circle cx="296.2" cy="838.2" r="0.78"/><circle cx="306.3" cy="838.2" r="0.78"/><circle cx="296.2" cy="847.7" r="0.78"/><circle cx="296.2" cy="857.3" r="0.78"/><circle cx="296.2" cy="866.8" r="0.78"/></g>
<g clip-path="url(#cI)">
<polygon points="427.1,723.3 447.2,723.3 447.2,867 297.4,867 297.4,857.3 318.4,837 318.4,828.3 327.8,819 327.8,809.5 366.9,771.2 387,771.2 407,752.7 407,742.3" fill="#6cc6dd"/>
<ellipse cx="420" cy="869" rx="35" ry="21" fill="#7b88cb" opacity="0.9" filter="url(#mb4)"/>
<ellipse cx="424" cy="869" rx="21" ry="11" fill="#a266b4" opacity="0.9" filter="url(#mb4)"/>
<ellipse cx="423" cy="869" rx="11" ry="6" fill="#bf4ca2" opacity="1" filter="url(#mb3)"/>
<ellipse cx="447" cy="848" rx="5" ry="14" fill="#7f8fd0" opacity="0.8" filter="url(#mb4)"/>
<ellipse cx="442" cy="729" rx="9" ry="13" fill="#8a7cc4" opacity="1" filter="url(#mb4)"/>
<ellipse cx="444" cy="728" rx="6" ry="10.5" fill="#c5489f" opacity="1" filter="url(#mb3)"/>
<ellipse cx="435.5" cy="756" rx="8.5" ry="8" fill="#7a86ca" opacity="0.9" filter="url(#mb4)"/>
<ellipse cx="378.5" cy="789.5" rx="11" ry="9.5" fill="#8a7cc4" opacity="0.8" filter="url(#mb4)"/>
<ellipse cx="378" cy="790" rx="5.5" ry="4.5" fill="#c4479f" opacity="1" filter="url(#mb3)"/>
<ellipse cx="348.3" cy="819.6" rx="7" ry="4.5" fill="#8c80c6" opacity="0.9" filter="url(#mb3)"/>
<ellipse cx="387" cy="819.8" rx="5" ry="4" fill="#86a4d8" opacity="0.7" filter="url(#mb3)"/>
<ellipse cx="427.3" cy="828.8" rx="6" ry="5" fill="#9480c6" opacity="0.9" filter="url(#mb3)"/>
</g>
<g clip-path="url(#aI)" stroke="#0c0c0c" stroke-width="0.95" fill="#0c0c0c" stroke-linecap="round"><line x1="427.4" y1="723.6" x2="426.3" y2="729.8"/><ellipse cx="426.5" cy="728.9" rx="1.05" ry="0.66" transform="rotate(100 426.5 728.9)"/><line x1="437.5" y1="723.6" x2="437.8" y2="732.1"/><ellipse cx="437.8" cy="731.2" rx="1.05" ry="0.66" transform="rotate(88 437.8 731.2)"/><line x1="447.6" y1="723.6" x2="447.6" y2="729.9"/><ellipse cx="447.6" cy="729" rx="1.05" ry="0.66" transform="rotate(90 447.6 729)"/><line x1="417.3" y1="733.1" x2="412.5" y2="737.2"/><ellipse cx="413.2" cy="736.6" rx="1.05" ry="0.66" transform="rotate(140 413.2 736.6)"/><line x1="427.4" y1="733.1" x2="425" y2="738.9"/><ellipse cx="425.3" cy="738.1" rx="1.05" ry="0.66" transform="rotate(113 425.3 738.1)"/><line x1="437.5" y1="733.1" x2="437.7" y2="739.4"/><ellipse cx="437.7" cy="738.5" rx="1.05" ry="0.66" transform="rotate(88 437.7 738.5)"/><line x1="447.6" y1="733.1" x2="447.6" y2="739.4"/><ellipse cx="447.6" cy="738.5" rx="1.05" ry="0.66" transform="rotate(90 447.6 738.5)"/><line x1="407.2" y1="742.7" x2="404.8" y2="748.5"/><ellipse cx="405.1" cy="747.7" rx="1.05" ry="0.66" transform="rotate(113 405.1 747.7)"/><line x1="417.3" y1="742.7" x2="412.4" y2="746.6"/><ellipse cx="413.1" cy="746" rx="1.05" ry="0.66" transform="rotate(142 413.1 746)"/><line x1="427.4" y1="742.7" x2="422" y2="745.8"/><ellipse cx="422.7" cy="745.4" rx="1.05" ry="0.66" transform="rotate(150 422.7 745.4)"/><line x1="447.6" y1="742.7" x2="447.6" y2="749"/><ellipse cx="447.6" cy="748.1" rx="1.05" ry="0.66" transform="rotate(90 447.6 748.1)"/><line x1="417.3" y1="752.2" x2="413.6" y2="747.1"/><ellipse cx="414.1" cy="747.9" rx="1.05" ry="0.66" transform="rotate(234 414.1 747.9)"/><line x1="427.4" y1="752.2" x2="428.5" y2="746"/><ellipse cx="428.4" cy="746.9" rx="1.05" ry="0.66" transform="rotate(280 428.4 746.9)"/><line x1="437.5" y1="752.2" x2="442.7" y2="748.7"/><ellipse cx="442" cy="749.2" rx="1.05" ry="0.66" transform="rotate(326 442 749.2)"/><line x1="447.6" y1="752.2" x2="447.6" y2="758.5"/><ellipse cx="447.6" cy="757.6" rx="1.05" ry="0.66" transform="rotate(90 447.6 757.6)"/><line x1="397.1" y1="761.8" x2="396.6" y2="768.1"/><ellipse cx="396.7" cy="767.2" rx="1.05" ry="0.66" transform="rotate(95 396.7 767.2)"/><line x1="417.3" y1="761.8" x2="417.9" y2="755.5"/><ellipse cx="417.8" cy="756.4" rx="1.05" ry="0.66" transform="rotate(275 417.8 756.4)"/><line x1="427.4" y1="761.8" x2="429.6" y2="755.9"/><ellipse cx="429.3" cy="756.7" rx="1.05" ry="0.66" transform="rotate(290 429.3 756.7)"/><line x1="437.5" y1="761.8" x2="442.5" y2="757.9"/><ellipse cx="441.8" cy="758.5" rx="1.05" ry="0.66" transform="rotate(322 441.8 758.5)"/><line x1="447.6" y1="761.8" x2="447.6" y2="768.1"/><ellipse cx="447.6" cy="767.2" rx="1.05" ry="0.66" transform="rotate(90 447.6 767.2)"/><line x1="366.9" y1="771.3" x2="365.2" y2="777.4"/><ellipse cx="365.5" cy="776.5" rx="1.05" ry="0.66" transform="rotate(105 365.5 776.5)"/><line x1="376.9" y1="771.3" x2="374.8" y2="777.3"/><ellipse cx="375.1" cy="776.4" rx="1.05" ry="0.66" transform="rotate(110 375.1 776.4)"/><line x1="387" y1="771.3" x2="385.9" y2="777.5"/><ellipse cx="386.1" cy="776.7" rx="1.05" ry="0.66" transform="rotate(100 386.1 776.7)"/><line x1="397.1" y1="771.3" x2="395.5" y2="777.4"/><ellipse cx="395.7" cy="776.5" rx="1.05" ry="0.66" transform="rotate(105 395.7 776.5)"/><line x1="407.2" y1="771.3" x2="407.2" y2="777.6"/><ellipse cx="407.2" cy="776.7" rx="1.05" ry="0.66" transform="rotate(90 407.2 776.7)"/><line x1="417.3" y1="771.3" x2="420.4" y2="777.9"/><ellipse cx="420" cy="777" rx="1.05" ry="0.66" transform="rotate(65 420 777)"/><line x1="427.4" y1="771.3" x2="433.6" y2="774.9"/><ellipse cx="432.9" cy="774.5" rx="1.05" ry="0.66" transform="rotate(30 432.9 774.5)"/><line x1="437.5" y1="771.3" x2="443.9" y2="774.6"/><ellipse cx="443.1" cy="774.2" rx="1.05" ry="0.66" transform="rotate(27 443.1 774.2)"/><line x1="447.6" y1="771.3" x2="447.6" y2="777.6"/><ellipse cx="447.6" cy="776.7" rx="1.05" ry="0.66" transform="rotate(90 447.6 776.7)"/><line x1="356.8" y1="780.9" x2="355.7" y2="787.1"/><ellipse cx="355.8" cy="786.2" rx="1.05" ry="0.66" transform="rotate(100 355.8 786.2)"/><line x1="366.9" y1="780.9" x2="365.3" y2="787"/><ellipse cx="365.5" cy="786.1" rx="1.05" ry="0.66" transform="rotate(104 365.5 786.1)"/><line x1="376.9" y1="780.9" x2="374.3" y2="786.6"/><ellipse cx="374.7" cy="785.8" rx="1.05" ry="0.66" transform="rotate(115 374.7 785.8)"/><line x1="387" y1="780.9" x2="383.3" y2="786"/><ellipse cx="383.9" cy="785.2" rx="1.05" ry="0.66" transform="rotate(126 383.9 785.2)"/><line x1="397.1" y1="780.9" x2="393.6" y2="786.1"/><ellipse cx="394.1" cy="785.4" rx="1.05" ry="0.66" transform="rotate(124 394.1 785.4)"/><line x1="407.2" y1="780.9" x2="407.2" y2="787.2"/><ellipse cx="407.2" cy="786.3" rx="1.05" ry="0.66" transform="rotate(90 407.2 786.3)"/><line x1="417.3" y1="780.9" x2="417.8" y2="788.1"/><ellipse cx="417.8" cy="787.2" rx="1.05" ry="0.66" transform="rotate(86 417.8 787.2)"/><line x1="427.4" y1="780.9" x2="427.9" y2="788.1"/><ellipse cx="427.9" cy="787.2" rx="1.05" ry="0.66" transform="rotate(86 427.9 787.2)"/><line x1="437.5" y1="780.9" x2="437.5" y2="788.1"/><ellipse cx="437.5" cy="787.2" rx="1.05" ry="0.66" transform="rotate(90 437.5 787.2)"/><line x1="447.6" y1="780.9" x2="447.6" y2="787.2"/><ellipse cx="447.6" cy="786.3" rx="1.05" ry="0.66" transform="rotate(90 447.6 786.3)"/><line x1="346.7" y1="790.4" x2="345" y2="796.5"/><ellipse cx="345.3" cy="795.6" rx="1.05" ry="0.66" transform="rotate(105 345.3 795.6)"/><line x1="356.8" y1="790.4" x2="355.1" y2="796.5"/><ellipse cx="355.4" cy="795.6" rx="1.05" ry="0.66" transform="rotate(105 355.4 795.6)"/><line x1="366.9" y1="790.4" x2="364.7" y2="796.3"/><ellipse cx="365" cy="795.5" rx="1.05" ry="0.66" transform="rotate(110 365 795.5)"/><line x1="376.9" y1="790.4" x2="373.8" y2="795.9"/><ellipse cx="374.2" cy="795.1" rx="1.05" ry="0.66" transform="rotate(120 374.2 795.1)"/><line x1="387" y1="790.4" x2="382.3" y2="794.6"/><ellipse cx="383" cy="794" rx="1.05" ry="0.66" transform="rotate(139 383 794)"/><line x1="397.1" y1="790.4" x2="392.5" y2="794.7"/><ellipse cx="393.2" cy="794.1" rx="1.05" ry="0.66" transform="rotate(137 393.2 794.1)"/><line x1="407.2" y1="790.4" x2="406.8" y2="796.7"/><ellipse cx="406.8" cy="795.8" rx="1.05" ry="0.66" transform="rotate(94 406.8 795.8)"/><line x1="417.3" y1="790.4" x2="417.3" y2="797.6"/><ellipse cx="417.3" cy="796.7" rx="1.05" ry="0.66" transform="rotate(90 417.3 796.7)"/><line x1="427.4" y1="790.4" x2="427.7" y2="797.6"/><ellipse cx="427.6" cy="796.7" rx="1.05" ry="0.66" transform="rotate(88 427.6 796.7)"/><line x1="437.5" y1="790.4" x2="437.5" y2="797.6"/><ellipse cx="437.5" cy="796.7" rx="1.05" ry="0.66" transform="rotate(90 437.5 796.7)"/><line x1="447.6" y1="790.4" x2="447.4" y2="796.7"/><ellipse cx="447.4" cy="795.8" rx="1.05" ry="0.66" transform="rotate(92 447.4 795.8)"/><line x1="336.6" y1="800" x2="332.6" y2="804.9"/><ellipse cx="333.2" cy="804.2" rx="1.05" ry="0.66" transform="rotate(129 333.2 804.2)"/><line x1="346.7" y1="800" x2="343.1" y2="805.1"/><ellipse cx="343.6" cy="804.4" rx="1.05" ry="0.66" transform="rotate(125 343.6 804.4)"/><line x1="356.8" y1="800" x2="353.8" y2="805.5"/><ellipse cx="354.2" cy="804.7" rx="1.05" ry="0.66" transform="rotate(118 354.2 804.7)"/><line x1="366.9" y1="800" x2="364.5" y2="805.8"/><ellipse cx="364.8" cy="805" rx="1.05" ry="0.66" transform="rotate(112 364.8 805)"/><line x1="376.9" y1="800" x2="373.8" y2="805.4"/><ellipse cx="374.2" cy="804.6" rx="1.05" ry="0.66" transform="rotate(120 374.2 804.6)"/><line x1="387" y1="800" x2="383.2" y2="804.9"/><ellipse cx="383.7" cy="804.2" rx="1.05" ry="0.66" transform="rotate(128 383.7 804.2)"/><line x1="397.1" y1="800" x2="393.4" y2="805.1"/><ellipse cx="394" cy="804.3" rx="1.05" ry="0.66" transform="rotate(126 394 804.3)"/><line x1="407.2" y1="800" x2="408.3" y2="806.2"/><ellipse cx="408.2" cy="805.3" rx="1.05" ry="0.66" transform="rotate(80 408.2 805.3)"/><line x1="417.3" y1="800" x2="417.6" y2="807.2"/><ellipse cx="417.5" cy="806.3" rx="1.05" ry="0.66" transform="rotate(88 417.5 806.3)"/><line x1="427.4" y1="800" x2="427.7" y2="807.2"/><ellipse cx="427.6" cy="806.3" rx="1.05" ry="0.66" transform="rotate(88 427.6 806.3)"/><line x1="437.5" y1="800" x2="437.5" y2="807.2"/><ellipse cx="437.5" cy="806.3" rx="1.05" ry="0.66" transform="rotate(90 437.5 806.3)"/><line x1="447.6" y1="800" x2="447.1" y2="806.2"/><ellipse cx="447.1" cy="805.4" rx="1.05" ry="0.66" transform="rotate(95 447.1 805.4)"/><line x1="326.5" y1="809.5" x2="323.5" y2="815.1"/><ellipse cx="323.9" cy="814.3" rx="1.05" ry="0.66" transform="rotate(118 323.9 814.3)"/><line x1="336.6" y1="809.5" x2="332.5" y2="814.3"/><ellipse cx="333.1" cy="813.7" rx="1.05" ry="0.66" transform="rotate(130 333.1 813.7)"/><line x1="346.7" y1="809.5" x2="342.1" y2="813.9"/><ellipse cx="342.8" cy="813.3" rx="1.05" ry="0.66" transform="rotate(136 342.8 813.3)"/><line x1="356.8" y1="809.5" x2="352.2" y2="813.8"/><ellipse cx="352.8" cy="813.2" rx="1.05" ry="0.66" transform="rotate(137 352.8 813.2)"/><line x1="366.9" y1="809.5" x2="363.2" y2="814.6"/><ellipse cx="363.7" cy="813.9" rx="1.05" ry="0.66" transform="rotate(126 363.7 813.9)"/><line x1="376.9" y1="809.5" x2="373.1" y2="814.5"/><ellipse cx="373.6" cy="813.8" rx="1.05" ry="0.66" transform="rotate(128 373.6 813.8)"/><line x1="387" y1="809.5" x2="384.3" y2="815.2"/><ellipse cx="384.7" cy="814.4" rx="1.05" ry="0.66" transform="rotate(116 384.7 814.4)"/><line x1="397.1" y1="809.5" x2="391.3" y2="812"/><ellipse cx="392.2" cy="811.6" rx="1.05" ry="0.66" transform="rotate(157 392.2 811.6)"/><line x1="407.2" y1="809.5" x2="406.9" y2="803.2"/><ellipse cx="406.9" cy="804.1" rx="1.05" ry="0.66" transform="rotate(267 406.9 804.1)"/><line x1="417.3" y1="809.5" x2="417.3" y2="802.3"/><ellipse cx="417.3" cy="803.2" rx="1.05" ry="0.66" transform="rotate(270 417.3 803.2)"/><line x1="427.4" y1="809.5" x2="427.4" y2="802.3"/><ellipse cx="427.4" cy="803.2" rx="1.05" ry="0.66" transform="rotate(270 427.4 803.2)"/><line x1="437.5" y1="809.5" x2="436.9" y2="802.3"/><ellipse cx="437" cy="803.2" rx="1.05" ry="0.66" transform="rotate(265 437 803.2)"/><line x1="447.6" y1="809.5" x2="441.4" y2="810.4"/><ellipse cx="442.3" cy="810.3" rx="1.05" ry="0.66" transform="rotate(172 442.3 810.3)"/><line x1="326.5" y1="819.1" x2="322.1" y2="823.6"/><ellipse cx="322.7" cy="823" rx="1.05" ry="0.66" transform="rotate(134 322.7 823)"/><line x1="336.6" y1="819.1" x2="332" y2="823.4"/><ellipse cx="332.6" cy="822.7" rx="1.05" ry="0.66" transform="rotate(137 332.6 822.7)"/><line x1="346.7" y1="819.1" x2="341.2" y2="822.1"/><ellipse cx="341.9" cy="821.7" rx="1.05" ry="0.66" transform="rotate(151 341.9 821.7)"/><line x1="356.8" y1="819.1" x2="351.2" y2="822"/><ellipse cx="352" cy="821.6" rx="1.05" ry="0.66" transform="rotate(152 352 821.6)"/><line x1="366.9" y1="819.1" x2="361.9" y2="822.9"/><ellipse cx="362.6" cy="822.4" rx="1.05" ry="0.66" transform="rotate(142 362.6 822.4)"/><line x1="376.9" y1="819.1" x2="373.2" y2="824.2"/><ellipse cx="373.8" cy="823.4" rx="1.05" ry="0.66" transform="rotate(126 373.8 823.4)"/><line x1="387" y1="819.1" x2="383.1" y2="824"/><ellipse cx="383.6" cy="823.3" rx="1.05" ry="0.66" transform="rotate(129 383.6 823.3)"/><line x1="397.1" y1="819.1" x2="392.2" y2="822.9"/><ellipse cx="392.9" cy="822.4" rx="1.05" ry="0.66" transform="rotate(142 392.9 822.4)"/><line x1="407.2" y1="819.1" x2="401.5" y2="816.5"/><ellipse cx="402.3" cy="816.9" rx="1.05" ry="0.66" transform="rotate(204 402.3 816.9)"/><line x1="417.3" y1="819.1" x2="413.2" y2="814.3"/><ellipse cx="413.8" cy="815" rx="1.05" ry="0.66" transform="rotate(229 413.8 815)"/><line x1="427.4" y1="819.1" x2="423.4" y2="814.2"/><ellipse cx="424" cy="814.9" rx="1.05" ry="0.66" transform="rotate(231 424 814.9)"/><line x1="437.5" y1="819.1" x2="435" y2="813.3"/><ellipse cx="435.4" cy="814.1" rx="1.05" ry="0.66" transform="rotate(247 435.4 814.1)"/><line x1="447.6" y1="819.1" x2="441.4" y2="818.2"/><ellipse cx="442.3" cy="818.3" rx="1.05" ry="0.66" transform="rotate(188 442.3 818.3)"/><line x1="316.4" y1="828.6" x2="312.5" y2="833.6"/><ellipse cx="313.1" cy="832.9" rx="1.05" ry="0.66" transform="rotate(128 313.1 832.9)"/><line x1="326.5" y1="828.6" x2="322.3" y2="833.3"/><ellipse cx="322.9" cy="832.6" rx="1.05" ry="0.66" transform="rotate(132 322.9 832.6)"/><line x1="336.6" y1="828.6" x2="332.5" y2="833.4"/><ellipse cx="333.1" cy="832.7" rx="1.05" ry="0.66" transform="rotate(130 333.1 832.7)"/><line x1="346.7" y1="828.6" x2="342.5" y2="833.4"/><ellipse cx="343.1" cy="832.7" rx="1.05" ry="0.66" transform="rotate(131 343.1 832.7)"/><line x1="356.8" y1="828.6" x2="352.5" y2="833.3"/><ellipse cx="353.1" cy="832.6" rx="1.05" ry="0.66" transform="rotate(132 353.1 832.6)"/><line x1="366.9" y1="828.6" x2="363.2" y2="833.8"/><ellipse cx="363.8" cy="833" rx="1.05" ry="0.66" transform="rotate(125 363.8 833)"/><line x1="376.9" y1="828.6" x2="373.6" y2="834"/><ellipse cx="374.1" cy="833.2" rx="1.05" ry="0.66" transform="rotate(122 374.1 833.2)"/><line x1="387" y1="828.6" x2="383.2" y2="833.6"/><ellipse cx="383.7" cy="832.9" rx="1.05" ry="0.66" transform="rotate(128 383.7 832.9)"/><line x1="397.1" y1="828.6" x2="392.6" y2="833"/><ellipse cx="393.2" cy="832.4" rx="1.05" ry="0.66" transform="rotate(136 393.2 832.4)"/><line x1="407.2" y1="828.6" x2="401.9" y2="832"/><ellipse cx="402.7" cy="831.6" rx="1.05" ry="0.66" transform="rotate(147 402.7 831.6)"/><line x1="417.3" y1="828.6" x2="411.6" y2="831.2"/><ellipse cx="412.4" cy="830.8" rx="1.05" ry="0.66" transform="rotate(156 412.4 830.8)"/><line x1="427.4" y1="828.6" x2="421.1" y2="828"/><ellipse cx="422" cy="828" rx="1.05" ry="0.66" transform="rotate(186 422 828)"/><line x1="437.5" y1="828.6" x2="432.3" y2="825.1"/><ellipse cx="433" cy="825.6" rx="1.05" ry="0.66" transform="rotate(214 433 825.6)"/><line x1="447.6" y1="828.6" x2="441.4" y2="827.4"/><ellipse cx="442.3" cy="827.6" rx="1.05" ry="0.66" transform="rotate(191 442.3 827.6)"/><line x1="316.4" y1="838.2" x2="312.4" y2="843.1"/><ellipse cx="313" cy="842.4" rx="1.05" ry="0.66" transform="rotate(129 313 842.4)"/><line x1="326.5" y1="838.2" x2="322.6" y2="843.1"/><ellipse cx="323.2" cy="842.4" rx="1.05" ry="0.66" transform="rotate(128 323.2 842.4)"/><line x1="336.6" y1="838.2" x2="332.7" y2="843.1"/><ellipse cx="333.2" cy="842.4" rx="1.05" ry="0.66" transform="rotate(128 333.2 842.4)"/><line x1="346.7" y1="838.2" x2="342.8" y2="843.1"/><ellipse cx="343.3" cy="842.4" rx="1.05" ry="0.66" transform="rotate(128 343.3 842.4)"/><line x1="356.8" y1="838.2" x2="352.9" y2="843.1"/><ellipse cx="353.4" cy="842.4" rx="1.05" ry="0.66" transform="rotate(128 353.4 842.4)"/><line x1="366.9" y1="838.2" x2="363.3" y2="843.4"/><ellipse cx="363.8" cy="842.6" rx="1.05" ry="0.66" transform="rotate(124 363.8 842.6)"/><line x1="376.9" y1="838.2" x2="372.9" y2="843"/><ellipse cx="373.5" cy="842.3" rx="1.05" ry="0.66" transform="rotate(130 373.5 842.3)"/><line x1="387" y1="838.2" x2="383.2" y2="843.1"/><ellipse cx="383.7" cy="842.4" rx="1.05" ry="0.66" transform="rotate(128 383.7 842.4)"/><line x1="397.1" y1="838.2" x2="393" y2="842.9"/><ellipse cx="393.6" cy="842.2" rx="1.05" ry="0.66" transform="rotate(131 393.6 842.2)"/><line x1="407.2" y1="838.2" x2="402.9" y2="842.8"/><ellipse cx="403.5" cy="842.1" rx="1.05" ry="0.66" transform="rotate(133 403.5 842.1)"/><line x1="417.3" y1="838.2" x2="412.6" y2="842.3"/><ellipse cx="413.2" cy="841.7" rx="1.05" ry="0.66" transform="rotate(139 413.2 841.7)"/><line x1="427.4" y1="838.2" x2="422" y2="841.4"/><ellipse cx="422.8" cy="840.9" rx="1.05" ry="0.66" transform="rotate(149 422.8 840.9)"/><line x1="437.5" y1="838.2" x2="432.1" y2="841.3"/><ellipse cx="432.8" cy="840.9" rx="1.05" ry="0.66" transform="rotate(150 432.8 840.9)"/><line x1="447.6" y1="838.2" x2="444" y2="843.3"/><ellipse cx="444.5" cy="842.6" rx="1.05" ry="0.66" transform="rotate(125 444.5 842.6)"/><line x1="306.3" y1="847.7" x2="301.2" y2="851.4"/><ellipse cx="301.9" cy="850.9" rx="1.05" ry="0.66" transform="rotate(144 301.9 850.9)"/><line x1="316.4" y1="847.7" x2="311.9" y2="852.1"/><ellipse cx="312.5" cy="851.5" rx="1.05" ry="0.66" transform="rotate(136 312.5 851.5)"/><line x1="326.5" y1="847.7" x2="321.6" y2="851.7"/><ellipse cx="322.3" cy="851.1" rx="1.05" ry="0.66" transform="rotate(141 322.3 851.1)"/><line x1="336.6" y1="847.7" x2="331.7" y2="851.7"/><ellipse cx="332.4" cy="851.1" rx="1.05" ry="0.66" transform="rotate(141 332.4 851.1)"/><line x1="346.7" y1="847.7" x2="341.6" y2="851.5"/><ellipse cx="342.4" cy="851" rx="1.05" ry="0.66" transform="rotate(143 342.4 851)"/><line x1="356.8" y1="847.7" x2="351.4" y2="851"/><ellipse cx="352.2" cy="850.6" rx="1.05" ry="0.66" transform="rotate(148 352.2 850.6)"/><line x1="366.9" y1="847.7" x2="361.6" y2="851.2"/><ellipse cx="362.4" cy="850.7" rx="1.05" ry="0.66" transform="rotate(146 362.4 850.7)"/><line x1="376.9" y1="847.7" x2="371.6" y2="851"/><ellipse cx="372.4" cy="850.6" rx="1.05" ry="0.66" transform="rotate(148 372.4 850.6)"/><line x1="387" y1="847.7" x2="382.1" y2="851.7"/><ellipse cx="382.8" cy="851.1" rx="1.05" ry="0.66" transform="rotate(141 382.8 851.1)"/><line x1="397.1" y1="847.7" x2="392.8" y2="852.2"/><ellipse cx="393.4" cy="851.6" rx="1.05" ry="0.66" transform="rotate(134 393.4 851.6)"/><line x1="407.2" y1="847.7" x2="402.7" y2="852.1"/><ellipse cx="403.3" cy="851.5" rx="1.05" ry="0.66" transform="rotate(136 403.3 851.5)"/><line x1="417.3" y1="847.7" x2="412.9" y2="852.2"/><ellipse cx="413.6" cy="851.6" rx="1.05" ry="0.66" transform="rotate(134 413.6 851.6)"/><line x1="427.4" y1="847.7" x2="424" y2="853"/><ellipse cx="424.5" cy="852.2" rx="1.05" ry="0.66" transform="rotate(123 424.5 852.2)"/><line x1="437.5" y1="847.7" x2="434.8" y2="853.4"/><ellipse cx="435.2" cy="852.6" rx="1.05" ry="0.66" transform="rotate(115 435.2 852.6)"/><line x1="447.6" y1="847.7" x2="445.2" y2="853.5"/><ellipse cx="445.6" cy="852.7" rx="1.05" ry="0.66" transform="rotate(112 445.6 852.7)"/><line x1="306.3" y1="857.3" x2="300.8" y2="860.4"/><ellipse cx="301.6" cy="860" rx="1.05" ry="0.66" transform="rotate(150 301.6 860)"/><line x1="316.4" y1="857.3" x2="311.4" y2="861.1"/><ellipse cx="312.1" cy="860.6" rx="1.05" ry="0.66" transform="rotate(142 312.1 860.6)"/><line x1="326.5" y1="857.3" x2="321" y2="860.3"/><ellipse cx="321.8" cy="859.9" rx="1.05" ry="0.66" transform="rotate(151 321.8 859.9)"/><line x1="336.6" y1="857.3" x2="330.8" y2="859.7"/><ellipse cx="331.6" cy="859.4" rx="1.05" ry="0.66" transform="rotate(157 331.6 859.4)"/><line x1="346.7" y1="857.3" x2="340.9" y2="859.7"/><ellipse cx="341.7" cy="859.4" rx="1.05" ry="0.66" transform="rotate(157 341.7 859.4)"/><line x1="356.8" y1="857.3" x2="350.9" y2="859.6"/><ellipse cx="351.8" cy="859.3" rx="1.05" ry="0.66" transform="rotate(158 351.8 859.3)"/><line x1="366.9" y1="857.3" x2="361.1" y2="859.8"/><ellipse cx="361.9" cy="859.4" rx="1.05" ry="0.66" transform="rotate(156 361.9 859.4)"/><line x1="376.9" y1="857.3" x2="371.7" y2="860.7"/><ellipse cx="372.4" cy="860.2" rx="1.05" ry="0.66" transform="rotate(147 372.4 860.2)"/><line x1="387" y1="857.3" x2="381.9" y2="861"/><ellipse cx="382.7" cy="860.4" rx="1.05" ry="0.66" transform="rotate(144 382.7 860.4)"/><line x1="397.1" y1="857.3" x2="392.2" y2="861.1"/><ellipse cx="392.9" cy="860.6" rx="1.05" ry="0.66" transform="rotate(142 392.9 860.6)"/><line x1="407.2" y1="857.3" x2="402.4" y2="861.3"/><ellipse cx="403.1" cy="860.7" rx="1.05" ry="0.66" transform="rotate(140 403.1 860.7)"/><line x1="417.3" y1="857.3" x2="412.4" y2="861.1"/><ellipse cx="413.1" cy="860.6" rx="1.05" ry="0.66" transform="rotate(142 413.1 860.6)"/><line x1="427.4" y1="857.3" x2="422.6" y2="861.3"/><ellipse cx="423.3" cy="860.7" rx="1.05" ry="0.66" transform="rotate(140 423.3 860.7)"/><line x1="437.5" y1="857.3" x2="433.1" y2="861.8"/><ellipse cx="433.8" cy="861.1" rx="1.05" ry="0.66" transform="rotate(134 433.8 861.1)"/><line x1="447.6" y1="857.3" x2="444.6" y2="862.8"/><ellipse cx="445.1" cy="862" rx="1.05" ry="0.66" transform="rotate(118 445.1 862)"/><line x1="306.3" y1="866.8" x2="301.5" y2="870.8"/><ellipse cx="302.2" cy="870.3" rx="1.05" ry="0.66" transform="rotate(140 302.2 870.3)"/><line x1="316.4" y1="866.8" x2="311.6" y2="870.8"/><ellipse cx="312.3" cy="870.3" rx="1.05" ry="0.66" transform="rotate(140 312.3 870.3)"/><line x1="326.5" y1="866.8" x2="321.7" y2="870.8"/><ellipse cx="322.3" cy="870.3" rx="1.05" ry="0.66" transform="rotate(140 322.3 870.3)"/><line x1="336.6" y1="866.8" x2="331.7" y2="870.8"/><ellipse cx="332.4" cy="870.3" rx="1.05" ry="0.66" transform="rotate(140 332.4 870.3)"/><line x1="346.7" y1="866.8" x2="341.8" y2="870.8"/><ellipse cx="342.5" cy="870.3" rx="1.05" ry="0.66" transform="rotate(140 342.5 870.3)"/><line x1="356.8" y1="866.8" x2="351.9" y2="870.8"/><ellipse cx="352.6" cy="870.3" rx="1.05" ry="0.66" transform="rotate(140 352.6 870.3)"/><line x1="366.9" y1="866.8" x2="362" y2="870.8"/><ellipse cx="362.7" cy="870.3" rx="1.05" ry="0.66" transform="rotate(140 362.7 870.3)"/><line x1="376.9" y1="866.8" x2="372.1" y2="870.8"/><ellipse cx="372.8" cy="870.3" rx="1.05" ry="0.66" transform="rotate(140 372.8 870.3)"/><line x1="387" y1="866.8" x2="382.2" y2="870.8"/><ellipse cx="382.9" cy="870.3" rx="1.05" ry="0.66" transform="rotate(140 382.9 870.3)"/><line x1="397.1" y1="866.8" x2="392.3" y2="870.8"/><ellipse cx="393" cy="870.3" rx="1.05" ry="0.66" transform="rotate(140 393 870.3)"/><line x1="407.2" y1="866.8" x2="402.4" y2="870.8"/><ellipse cx="403.1" cy="870.3" rx="1.05" ry="0.66" transform="rotate(140 403.1 870.3)"/><line x1="417.3" y1="866.8" x2="412.5" y2="870.8"/><ellipse cx="413.2" cy="870.3" rx="1.05" ry="0.66" transform="rotate(140 413.2 870.3)"/><line x1="427.4" y1="866.8" x2="422.6" y2="870.8"/><ellipse cx="423.3" cy="870.3" rx="1.05" ry="0.66" transform="rotate(140 423.3 870.3)"/><line x1="437.5" y1="866.8" x2="432.7" y2="870.8"/><ellipse cx="433.4" cy="870.3" rx="1.05" ry="0.66" transform="rotate(140 433.4 870.3)"/><line x1="447.6" y1="866.8" x2="442.8" y2="870.8"/><ellipse cx="443.5" cy="870.3" rx="1.05" ry="0.66" transform="rotate(140 443.5 870.3)"/></g>
<rect x="294.4" y="881.2" width="152.4" height="10.4" fill="url(#gV)" stroke="#222" stroke-width="0.5"/>
<g stroke="#333" stroke-width="0.4"><line x1="309.6" y1="881.2" x2="309.6" y2="882.8"/><line x1="309.6" y1="890" x2="309.6" y2="891.6"/><line x1="324.9" y1="881.2" x2="324.9" y2="882.8"/><line x1="324.9" y1="890" x2="324.9" y2="891.6"/><line x1="340.1" y1="881.2" x2="340.1" y2="882.8"/><line x1="340.1" y1="890" x2="340.1" y2="891.6"/><line x1="355.4" y1="881.2" x2="355.4" y2="882.8"/><line x1="355.4" y1="890" x2="355.4" y2="891.6"/><line x1="370.6" y1="881.2" x2="370.6" y2="882.8"/><line x1="370.6" y1="890" x2="370.6" y2="891.6"/><line x1="385.8" y1="881.2" x2="385.8" y2="882.8"/><line x1="385.8" y1="890" x2="385.8" y2="891.6"/><line x1="401.1" y1="881.2" x2="401.1" y2="882.8"/><line x1="401.1" y1="890" x2="401.1" y2="891.6"/><line x1="416.3" y1="881.2" x2="416.3" y2="882.8"/><line x1="416.3" y1="890" x2="416.3" y2="891.6"/><line x1="431.6" y1="881.2" x2="431.6" y2="882.8"/><line x1="431.6" y1="890" x2="431.6" y2="891.6"/></g>
<text x="294.1" y="902.4" font-size="10.4" text-anchor="start" fill="#1a1a1a" textLength="28" lengthAdjust="spacingAndGlyphs">2mm/s</text>
<text x="417.3" y="902.4" font-size="10.4" text-anchor="start" fill="#1a1a1a" textLength="33.5" lengthAdjust="spacingAndGlyphs">12mm/s</text>
<text x="606.9" y="715.8" font-size="13.4" text-anchor="middle" fill="#1a1a1a" textLength="59.6" lengthAdjust="spacingAndGlyphs">Amplitude</text>
<text x="510" y="734.2" font-size="13.2" text-anchor="start" fill="#1a1a1a">J</text>
<g fill="#f08a86"><circle cx="524.4" cy="726.2" r="0.78"/><circle cx="534.4" cy="726.2" r="0.78"/><circle cx="544.4" cy="726.2" r="0.78"/><circle cx="554.4" cy="726.2" r="0.78"/><circle cx="564.3" cy="726.2" r="0.78"/><circle cx="574.3" cy="726.2" r="0.78"/><circle cx="584.3" cy="726.2" r="0.78"/><circle cx="594.3" cy="726.2" r="0.78"/><circle cx="604.3" cy="726.2" r="0.78"/><circle cx="614.3" cy="726.2" r="0.78"/><circle cx="624.3" cy="726.2" r="0.78"/><circle cx="634.3" cy="726.2" r="0.78"/><circle cx="644.2" cy="726.2" r="0.78"/><circle cx="654.2" cy="726.2" r="0.78"/><circle cx="524.4" cy="735.6" r="0.78"/><circle cx="534.4" cy="735.6" r="0.78"/><circle cx="544.4" cy="735.6" r="0.78"/><circle cx="554.4" cy="735.6" r="0.78"/><circle cx="564.3" cy="735.6" r="0.78"/><circle cx="574.3" cy="735.6" r="0.78"/><circle cx="584.3" cy="735.6" r="0.78"/><circle cx="594.3" cy="735.6" r="0.78"/><circle cx="604.3" cy="735.6" r="0.78"/><circle cx="614.3" cy="735.6" r="0.78"/><circle cx="624.3" cy="735.6" r="0.78"/><circle cx="634.3" cy="735.6" r="0.78"/><circle cx="644.2" cy="735.6" r="0.78"/><circle cx="524.4" cy="744.9" r="0.78"/><circle cx="534.4" cy="744.9" r="0.78"/><circle cx="544.4" cy="744.9" r="0.78"/><circle cx="554.4" cy="744.9" r="0.78"/><circle cx="564.3" cy="744.9" r="0.78"/><circle cx="574.3" cy="744.9" r="0.78"/><circle cx="584.3" cy="744.9" r="0.78"/><circle cx="594.3" cy="744.9" r="0.78"/><circle cx="604.3" cy="744.9" r="0.78"/><circle cx="614.3" cy="744.9" r="0.78"/><circle cx="624.3" cy="744.9" r="0.78"/><circle cx="524.4" cy="754.3" r="0.78"/><circle cx="534.4" cy="754.3" r="0.78"/><circle cx="544.4" cy="754.3" r="0.78"/><circle cx="554.4" cy="754.3" r="0.78"/><circle cx="564.3" cy="754.3" r="0.78"/><circle cx="574.3" cy="754.3" r="0.78"/><circle cx="584.3" cy="754.3" r="0.78"/><circle cx="594.3" cy="754.3" r="0.78"/><circle cx="604.3" cy="754.3" r="0.78"/><circle cx="614.3" cy="754.3" r="0.78"/><circle cx="624.3" cy="754.3" r="0.78"/><circle cx="524.4" cy="763.6" r="0.78"/><circle cx="534.4" cy="763.6" r="0.78"/><circle cx="544.4" cy="763.6" r="0.78"/><circle cx="554.4" cy="763.6" r="0.78"/><circle cx="564.3" cy="763.6" r="0.78"/><circle cx="574.3" cy="763.6" r="0.78"/><circle cx="584.3" cy="763.6" r="0.78"/><circle cx="594.3" cy="763.6" r="0.78"/><circle cx="604.3" cy="763.6" r="0.78"/><circle cx="614.3" cy="763.6" r="0.78"/><circle cx="524.4" cy="773" r="0.78"/><circle cx="534.4" cy="773" r="0.78"/><circle cx="544.4" cy="773" r="0.78"/><circle cx="554.4" cy="773" r="0.78"/><circle cx="564.3" cy="773" r="0.78"/><circle cx="574.3" cy="773" r="0.78"/><circle cx="584.3" cy="773" r="0.78"/><circle cx="524.4" cy="782.4" r="0.78"/><circle cx="534.4" cy="782.4" r="0.78"/><circle cx="544.4" cy="782.4" r="0.78"/><circle cx="554.4" cy="782.4" r="0.78"/><circle cx="564.3" cy="782.4" r="0.78"/><circle cx="574.3" cy="782.4" r="0.78"/><circle cx="524.4" cy="791.7" r="0.78"/><circle cx="534.4" cy="791.7" r="0.78"/><circle cx="544.4" cy="791.7" r="0.78"/><circle cx="554.4" cy="791.7" r="0.78"/><circle cx="564.3" cy="791.7" r="0.78"/><circle cx="524.4" cy="801.1" r="0.78"/><circle cx="534.4" cy="801.1" r="0.78"/><circle cx="544.4" cy="801.1" r="0.78"/><circle cx="554.4" cy="801.1" r="0.78"/><circle cx="524.4" cy="810.4" r="0.78"/><circle cx="534.4" cy="810.4" r="0.78"/><circle cx="544.4" cy="810.4" r="0.78"/><circle cx="524.4" cy="819.8" r="0.78"/><circle cx="534.4" cy="819.8" r="0.78"/><circle cx="544.4" cy="819.8" r="0.78"/><circle cx="524.4" cy="829.2" r="0.78"/><circle cx="534.4" cy="829.2" r="0.78"/><circle cx="544.4" cy="829.2" r="0.78"/><circle cx="524.4" cy="838.5" r="0.78"/><circle cx="534.4" cy="838.5" r="0.78"/><circle cx="524.4" cy="847.9" r="0.78"/></g>
<g clip-path="url(#cJ)">
<polygon points="664.6,726.3 674,726.3 674,866.8 524.1,866.8 524.1,857.6 554.7,829 554.7,810.6 594.3,773.3 614.2,773.3 634.4,754.4 634.4,745.2 644.1,745.2" fill="#bb52a4"/>
<polygon points="622,786 650,774 690,772 690,880 575,880 585,850 600,826" fill="#e8599c" opacity="0.85" filter="url(#mb6)"/>
<ellipse cx="608" cy="850" rx="12" ry="4" fill="#e0609e" opacity="0.6" filter="url(#mb4)" transform="rotate(-20 608 850)"/>
<ellipse cx="644" cy="844.7" rx="6" ry="5" fill="#b452a6" opacity="0.8" filter="url(#mb3)"/>
<ellipse cx="671" cy="847.6" rx="4" ry="4" fill="#b452a6" opacity="0.8" filter="url(#mb3)"/>
<ellipse cx="640" cy="806" rx="14" ry="4" fill="#c556a2" opacity="0.6" filter="url(#mb4)"/>
<ellipse cx="634" cy="791.6" rx="15" ry="5.5" fill="#f08e60" opacity="0.9" filter="url(#mb4)"/>
<ellipse cx="634.5" cy="791.5" rx="9.5" ry="2.6" fill="#f8cc3c" opacity="1" filter="url(#mb3)"/>
<ellipse cx="657" cy="782.6" rx="10" ry="4.2" fill="#f08e60" opacity="0.8" filter="url(#mb4)" transform="rotate(-6 657 782.6)"/>
<ellipse cx="656" cy="782.8" rx="5" ry="1.9" fill="#f8b844" opacity="1" filter="url(#mb3)"/>
<ellipse cx="638" cy="824.5" rx="26" ry="8.5" fill="#f08e60" opacity="0.9" filter="url(#mb4)" transform="rotate(15 638 824.5)"/>
<ellipse cx="634" cy="822.5" rx="15" ry="4" fill="#f8d838" opacity="1" filter="url(#mb3)" transform="rotate(17 634 822.5)"/>
<ellipse cx="647" cy="828.5" rx="9" ry="3" fill="#f8c83c" opacity="0.9" filter="url(#mb3)" transform="rotate(10 647 828.5)"/>
<ellipse cx="655" cy="862" rx="20" ry="7.5" fill="#f08e60" opacity="0.9" filter="url(#mb4)" transform="rotate(8 655 862)"/>
<ellipse cx="657" cy="863" rx="11" ry="3.6" fill="#f8d838" opacity="1" filter="url(#mb3)" transform="rotate(12 657 863)"/>
<ellipse cx="663" cy="866" rx="4" ry="2.5" fill="#f4ec34" opacity="1" filter="url(#mb3)"/>
<ellipse cx="674" cy="836" rx="3.5" ry="9" fill="#ee7f7c" opacity="0.8" filter="url(#mb3)"/>
</g>
<g fill="#151515"><circle cx="664.2" cy="726.2" r="0.8"/><circle cx="674.2" cy="726.2" r="0.8"/><circle cx="654.2" cy="735.6" r="0.8"/><circle cx="664.2" cy="735.6" r="0.8"/><circle cx="674.2" cy="735.6" r="0.8"/><circle cx="634.3" cy="744.9" r="0.8"/><circle cx="644.2" cy="744.9" r="0.8"/><circle cx="654.2" cy="744.9" r="0.8"/><circle cx="664.2" cy="744.9" r="0.8"/><circle cx="674.2" cy="744.9" r="0.8"/><circle cx="634.3" cy="754.3" r="0.8"/><circle cx="644.2" cy="754.3" r="0.8"/><circle cx="654.2" cy="754.3" r="0.8"/><circle cx="664.2" cy="754.3" r="0.8"/><circle cx="674.2" cy="754.3" r="0.8"/><circle cx="624.3" cy="763.6" r="0.8"/><circle cx="634.3" cy="763.6" r="0.8"/><circle cx="644.2" cy="763.6" r="0.8"/><circle cx="654.2" cy="763.6" r="0.8"/><circle cx="664.2" cy="763.6" r="0.8"/><circle cx="674.2" cy="763.6" r="0.8"/><circle cx="594.3" cy="773" r="0.8"/><circle cx="604.3" cy="773" r="0.8"/><circle cx="614.3" cy="773" r="0.8"/><circle cx="624.3" cy="773" r="0.8"/><circle cx="634.3" cy="773" r="0.8"/><circle cx="644.2" cy="773" r="0.8"/><circle cx="654.2" cy="773" r="0.8"/><circle cx="664.2" cy="773" r="0.8"/><circle cx="674.2" cy="773" r="0.8"/><circle cx="584.3" cy="782.4" r="0.8"/><circle cx="594.3" cy="782.4" r="0.8"/><circle cx="604.3" cy="782.4" r="0.8"/><circle cx="614.3" cy="782.4" r="0.8"/><circle cx="624.3" cy="782.4" r="0.8"/><circle cx="634.3" cy="782.4" r="0.8"/><circle cx="644.2" cy="782.4" r="0.8"/><circle cx="654.2" cy="782.4" r="0.8"/><circle cx="664.2" cy="782.4" r="0.8"/><circle cx="674.2" cy="782.4" r="0.8"/><circle cx="574.3" cy="791.7" r="0.8"/><circle cx="584.3" cy="791.7" r="0.8"/><circle cx="594.3" cy="791.7" r="0.8"/><circle cx="604.3" cy="791.7" r="0.8"/><circle cx="614.3" cy="791.7" r="0.8"/><circle cx="624.3" cy="791.7" r="0.8"/><circle cx="634.3" cy="791.7" r="0.8"/><circle cx="644.2" cy="791.7" r="0.8"/><circle cx="654.2" cy="791.7" r="0.8"/><circle cx="664.2" cy="791.7" r="0.8"/><circle cx="674.2" cy="791.7" r="0.8"/><circle cx="564.3" cy="801.1" r="0.8"/><circle cx="574.3" cy="801.1" r="0.8"/><circle cx="584.3" cy="801.1" r="0.8"/><circle cx="594.3" cy="801.1" r="0.8"/><circle cx="604.3" cy="801.1" r="0.8"/><circle cx="614.3" cy="801.1" r="0.8"/><circle cx="624.3" cy="801.1" r="0.8"/><circle cx="634.3" cy="801.1" r="0.8"/><circle cx="644.2" cy="801.1" r="0.8"/><circle cx="654.2" cy="801.1" r="0.8"/><circle cx="664.2" cy="801.1" r="0.8"/><circle cx="674.2" cy="801.1" r="0.8"/><circle cx="554.4" cy="810.4" r="0.8"/><circle cx="564.3" cy="810.4" r="0.8"/><circle cx="574.3" cy="810.4" r="0.8"/><circle cx="584.3" cy="810.4" r="0.8"/><circle cx="594.3" cy="810.4" r="0.8"/><circle cx="604.3" cy="810.4" r="0.8"/><circle cx="614.3" cy="810.4" r="0.8"/><circle cx="624.3" cy="810.4" r="0.8"/><circle cx="634.3" cy="810.4" r="0.8"/><circle cx="644.2" cy="810.4" r="0.8"/><circle cx="654.2" cy="810.4" r="0.8"/><circle cx="664.2" cy="810.4" r="0.8"/><circle cx="674.2" cy="810.4" r="0.8"/><circle cx="554.4" cy="819.8" r="0.8"/><circle cx="564.3" cy="819.8" r="0.8"/><circle cx="574.3" cy="819.8" r="0.8"/><circle cx="584.3" cy="819.8" r="0.8"/><circle cx="594.3" cy="819.8" r="0.8"/><circle cx="604.3" cy="819.8" r="0.8"/><circle cx="614.3" cy="819.8" r="0.8"/><circle cx="624.3" cy="819.8" r="0.8"/><circle cx="634.3" cy="819.8" r="0.8"/><circle cx="644.2" cy="819.8" r="0.8"/><circle cx="654.2" cy="819.8" r="0.8"/><circle cx="664.2" cy="819.8" r="0.8"/><circle cx="674.2" cy="819.8" r="0.8"/><circle cx="554.4" cy="829.2" r="0.8"/><circle cx="564.3" cy="829.2" r="0.8"/><circle cx="574.3" cy="829.2" r="0.8"/><circle cx="584.3" cy="829.2" r="0.8"/><circle cx="594.3" cy="829.2" r="0.8"/><circle cx="604.3" cy="829.2" r="0.8"/><circle cx="614.3" cy="829.2" r="0.8"/><circle cx="624.3" cy="829.2" r="0.8"/><circle cx="634.3" cy="829.2" r="0.8"/><circle cx="644.2" cy="829.2" r="0.8"/><circle cx="654.2" cy="829.2" r="0.8"/><circle cx="664.2" cy="829.2" r="0.8"/><circle cx="674.2" cy="829.2" r="0.8"/><circle cx="544.4" cy="838.5" r="0.8"/><circle cx="554.4" cy="838.5" r="0.8"/><circle cx="564.3" cy="838.5" r="0.8"/><circle cx="574.3" cy="838.5" r="0.8"/><circle cx="584.3" cy="838.5" r="0.8"/><circle cx="594.3" cy="838.5" r="0.8"/><circle cx="604.3" cy="838.5" r="0.8"/><circle cx="614.3" cy="838.5" r="0.8"/><circle cx="624.3" cy="838.5" r="0.8"/><circle cx="634.3" cy="838.5" r="0.8"/><circle cx="644.2" cy="838.5" r="0.8"/><circle cx="654.2" cy="838.5" r="0.8"/><circle cx="664.2" cy="838.5" r="0.8"/><circle cx="674.2" cy="838.5" r="0.8"/><circle cx="534.4" cy="847.9" r="0.8"/><circle cx="544.4" cy="847.9" r="0.8"/><circle cx="554.4" cy="847.9" r="0.8"/><circle cx="564.3" cy="847.9" r="0.8"/><circle cx="574.3" cy="847.9" r="0.8"/><circle cx="584.3" cy="847.9" r="0.8"/><circle cx="594.3" cy="847.9" r="0.8"/><circle cx="604.3" cy="847.9" r="0.8"/><circle cx="614.3" cy="847.9" r="0.8"/><circle cx="624.3" cy="847.9" r="0.8"/><circle cx="634.3" cy="847.9" r="0.8"/><circle cx="644.2" cy="847.9" r="0.8"/><circle cx="654.2" cy="847.9" r="0.8"/><circle cx="664.2" cy="847.9" r="0.8"/><circle cx="674.2" cy="847.9" r="0.8"/><circle cx="524.4" cy="857.2" r="0.8"/><circle cx="534.4" cy="857.2" r="0.8"/><circle cx="544.4" cy="857.2" r="0.8"/><circle cx="554.4" cy="857.2" r="0.8"/><circle cx="564.3" cy="857.2" r="0.8"/><circle cx="574.3" cy="857.2" r="0.8"/><circle cx="584.3" cy="857.2" r="0.8"/><circle cx="594.3" cy="857.2" r="0.8"/><circle cx="604.3" cy="857.2" r="0.8"/><circle cx="614.3" cy="857.2" r="0.8"/><circle cx="624.3" cy="857.2" r="0.8"/><circle cx="634.3" cy="857.2" r="0.8"/><circle cx="644.2" cy="857.2" r="0.8"/><circle cx="654.2" cy="857.2" r="0.8"/><circle cx="664.2" cy="857.2" r="0.8"/><circle cx="674.2" cy="857.2" r="0.8"/><circle cx="524.4" cy="866.6" r="0.8"/><circle cx="534.4" cy="866.6" r="0.8"/><circle cx="544.4" cy="866.6" r="0.8"/><circle cx="554.4" cy="866.6" r="0.8"/><circle cx="564.3" cy="866.6" r="0.8"/><circle cx="574.3" cy="866.6" r="0.8"/><circle cx="584.3" cy="866.6" r="0.8"/><circle cx="594.3" cy="866.6" r="0.8"/><circle cx="604.3" cy="866.6" r="0.8"/><circle cx="614.3" cy="866.6" r="0.8"/><circle cx="624.3" cy="866.6" r="0.8"/><circle cx="634.3" cy="866.6" r="0.8"/><circle cx="644.2" cy="866.6" r="0.8"/><circle cx="654.2" cy="866.6" r="0.8"/><circle cx="664.2" cy="866.6" r="0.8"/><circle cx="674.2" cy="866.6" r="0.8"/></g>
<rect x="525.8" y="883.4" width="152.3" height="10" fill="url(#gA)" stroke="#222" stroke-width="0.5"/>
<g stroke="#333" stroke-width="0.4"><line x1="541" y1="883.4" x2="541" y2="885"/><line x1="541" y1="891.8" x2="541" y2="893.4"/><line x1="556.3" y1="883.4" x2="556.3" y2="885"/><line x1="556.3" y1="891.8" x2="556.3" y2="893.4"/><line x1="571.5" y1="883.4" x2="571.5" y2="885"/><line x1="571.5" y1="891.8" x2="571.5" y2="893.4"/><line x1="586.7" y1="883.4" x2="586.7" y2="885"/><line x1="586.7" y1="891.8" x2="586.7" y2="893.4"/><line x1="601.9" y1="883.4" x2="601.9" y2="885"/><line x1="601.9" y1="891.8" x2="601.9" y2="893.4"/><line x1="617.2" y1="883.4" x2="617.2" y2="885"/><line x1="617.2" y1="891.8" x2="617.2" y2="893.4"/><line x1="632.4" y1="883.4" x2="632.4" y2="885"/><line x1="632.4" y1="891.8" x2="632.4" y2="893.4"/><line x1="647.6" y1="883.4" x2="647.6" y2="885"/><line x1="647.6" y1="891.8" x2="647.6" y2="893.4"/><line x1="662.9" y1="883.4" x2="662.9" y2="885"/><line x1="662.9" y1="891.8" x2="662.9" y2="893.4"/></g>
<text x="525.5" y="904.2" font-size="10.4" text-anchor="start" fill="#1a1a1a" textLength="27.5" lengthAdjust="spacingAndGlyphs">0.5mV</text>
<text x="650.2" y="904.2" font-size="10.4" text-anchor="start" fill="#1a1a1a" textLength="33.5" lengthAdjust="spacingAndGlyphs">10.0mV</text>
</svg>
</body></html>
